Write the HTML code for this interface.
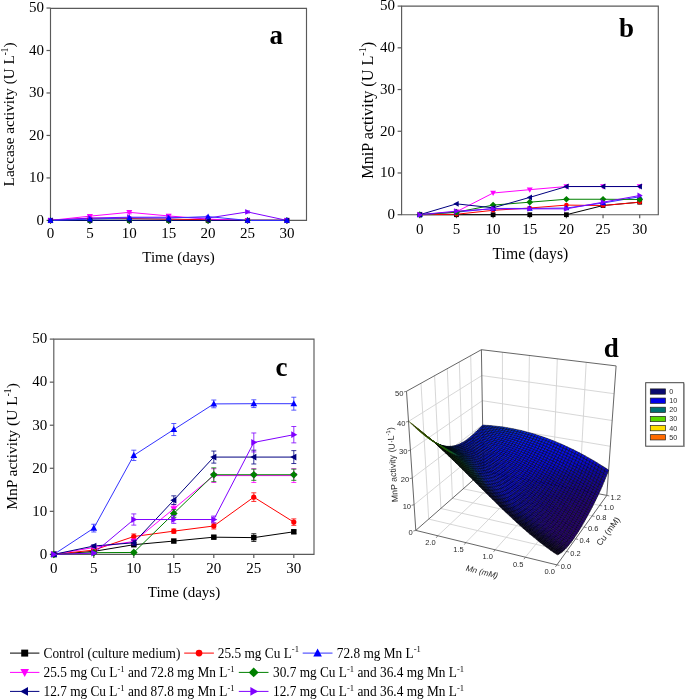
<!DOCTYPE html>
<html><head><meta charset="utf-8"><style>html,body{margin:0;padding:0;background:#fff;width:685px;height:699px;overflow:hidden;position:relative}</style></head>
<body>
<svg width="685" height="699" viewBox="0 0 685 699" style="position:absolute;left:0;top:0;will-change:transform;font-family:&quot;Liberation Serif&quot;,serif"><rect width="685" height="699" fill="#fff"/><path d="M50.5,8.3 H306.5 V220.4 H50.5 Z" fill="none" stroke="#5a5a5a" stroke-width="1.15"/><line x1="46.5" y1="220.40" x2="50.5" y2="220.40" stroke="#5a5a5a" stroke-width="1.2"/><text x="44.0" y="224.70" text-anchor="end" font-size="15">0</text><line x1="46.5" y1="177.93" x2="50.5" y2="177.93" stroke="#5a5a5a" stroke-width="1.2"/><text x="44.0" y="182.23" text-anchor="end" font-size="15">10</text><line x1="46.5" y1="135.45" x2="50.5" y2="135.45" stroke="#5a5a5a" stroke-width="1.2"/><text x="44.0" y="139.75" text-anchor="end" font-size="15">20</text><line x1="46.5" y1="92.98" x2="50.5" y2="92.98" stroke="#5a5a5a" stroke-width="1.2"/><text x="44.0" y="97.28" text-anchor="end" font-size="15">30</text><line x1="46.5" y1="50.50" x2="50.5" y2="50.50" stroke="#5a5a5a" stroke-width="1.2"/><text x="44.0" y="54.80" text-anchor="end" font-size="15">40</text><line x1="46.5" y1="8.03" x2="50.5" y2="8.03" stroke="#5a5a5a" stroke-width="1.2"/><text x="44.0" y="12.33" text-anchor="end" font-size="15">50</text><line x1="50.50" y1="220.4" x2="50.50" y2="223.9" stroke="#5a5a5a" stroke-width="1.2"/><text x="50.50" y="238.30" text-anchor="middle" font-size="15">0</text><line x1="89.90" y1="220.4" x2="89.90" y2="223.9" stroke="#5a5a5a" stroke-width="1.2"/><text x="89.90" y="238.30" text-anchor="middle" font-size="15">5</text><line x1="129.30" y1="220.4" x2="129.30" y2="223.9" stroke="#5a5a5a" stroke-width="1.2"/><text x="129.30" y="238.30" text-anchor="middle" font-size="15">10</text><line x1="168.70" y1="220.4" x2="168.70" y2="223.9" stroke="#5a5a5a" stroke-width="1.2"/><text x="168.70" y="238.30" text-anchor="middle" font-size="15">15</text><line x1="208.10" y1="220.4" x2="208.10" y2="223.9" stroke="#5a5a5a" stroke-width="1.2"/><text x="208.10" y="238.30" text-anchor="middle" font-size="15">20</text><line x1="247.50" y1="220.4" x2="247.50" y2="223.9" stroke="#5a5a5a" stroke-width="1.2"/><text x="247.50" y="238.30" text-anchor="middle" font-size="15">25</text><line x1="286.90" y1="220.4" x2="286.90" y2="223.9" stroke="#5a5a5a" stroke-width="1.2"/><text x="286.90" y="238.30" text-anchor="middle" font-size="15">30</text><polyline points="50.50,220.40 89.90,220.40 129.30,220.40 168.70,220.40 208.10,220.40 247.50,220.40 286.90,220.40" fill="none" stroke="#000000" stroke-width="1"/><polyline points="50.50,220.40 89.90,220.40 129.30,220.40 168.70,220.40 208.10,220.40 247.50,220.40 286.90,220.40" fill="none" stroke="#008000" stroke-width="1"/><polyline points="50.50,220.40 89.90,218.28 129.30,218.49 168.70,219.13 208.10,219.76 247.50,220.40 286.90,220.40" fill="none" stroke="#ff0000" stroke-width="1"/><polyline points="50.50,220.40 89.90,216.15 129.30,212.33 168.70,215.94 208.10,219.13 247.50,220.40 286.90,220.40" fill="none" stroke="#ff00ff" stroke-width="1"/><polyline points="50.50,220.40 89.90,218.06 129.30,217.21 168.70,217.21 208.10,218.06 247.50,211.91 286.90,220.40" fill="none" stroke="#8000ff" stroke-width="1"/><polyline points="50.50,220.40 89.90,220.40 129.30,220.40 168.70,220.40 208.10,220.40 247.50,220.40 286.90,220.40" fill="none" stroke="#000080" stroke-width="1"/><polyline points="50.50,220.40 89.90,219.13 129.30,217.85 168.70,218.06 208.10,216.58 247.50,220.40 286.90,220.40" fill="none" stroke="#3333ff" stroke-width="1"/><rect x="48.12" y="218.02" width="4.76" height="4.76" fill="#000000"/><rect x="87.52" y="218.02" width="4.76" height="4.76" fill="#000000"/><rect x="126.92" y="218.02" width="4.76" height="4.76" fill="#000000"/><rect x="166.32" y="218.02" width="4.76" height="4.76" fill="#000000"/><rect x="205.72" y="218.02" width="4.76" height="4.76" fill="#000000"/><rect x="245.12" y="218.02" width="4.76" height="4.76" fill="#000000"/><rect x="284.52" y="218.02" width="4.76" height="4.76" fill="#000000"/><polygon points="50.50,217.04 53.86,220.40 50.50,223.76 47.14,220.40" fill="#008000"/><polygon points="89.90,217.04 93.26,220.40 89.90,223.76 86.54,220.40" fill="#008000"/><polygon points="129.30,217.04 132.66,220.40 129.30,223.76 125.94,220.40" fill="#008000"/><polygon points="168.70,217.04 172.06,220.40 168.70,223.76 165.34,220.40" fill="#008000"/><polygon points="208.10,217.04 211.46,220.40 208.10,223.76 204.74,220.40" fill="#008000"/><polygon points="247.50,217.04 250.86,220.40 247.50,223.76 244.14,220.40" fill="#008000"/><polygon points="286.90,217.04 290.26,220.40 286.90,223.76 283.54,220.40" fill="#008000"/><circle cx="50.50" cy="220.40" r="2.30" fill="#ff0000"/><circle cx="89.90" cy="218.28" r="2.30" fill="#ff0000"/><circle cx="129.30" cy="218.49" r="2.30" fill="#ff0000"/><circle cx="168.70" cy="219.13" r="2.30" fill="#ff0000"/><circle cx="208.10" cy="219.76" r="2.30" fill="#ff0000"/><circle cx="247.50" cy="220.40" r="2.30" fill="#ff0000"/><circle cx="286.90" cy="220.40" r="2.30" fill="#ff0000"/><path d="M89.90,214.67 V217.64 M87.40,214.67 h5 M87.40,217.64 h5" stroke="#ff00ff" stroke-width="1" fill="none" opacity="0.8"/><path d="M129.30,210.84 V213.82 M126.80,210.84 h5 M126.80,213.82 h5" stroke="#ff00ff" stroke-width="1" fill="none" opacity="0.8"/><path d="M168.70,214.45 V217.43 M166.20,214.45 h5 M166.20,217.43 h5" stroke="#ff00ff" stroke-width="1" fill="none" opacity="0.8"/><polygon points="50.50,223.48 53.44,218.16 47.56,218.16" fill="#ff00ff"/><polygon points="89.90,219.23 92.84,213.91 86.96,213.91" fill="#ff00ff"/><polygon points="129.30,215.41 132.24,210.09 126.36,210.09" fill="#ff00ff"/><polygon points="168.70,219.02 171.64,213.70 165.76,213.70" fill="#ff00ff"/><polygon points="208.10,222.21 211.04,216.89 205.16,216.89" fill="#ff00ff"/><polygon points="247.50,223.48 250.44,218.16 244.56,218.16" fill="#ff00ff"/><polygon points="286.90,223.48 289.84,218.16 283.96,218.16" fill="#ff00ff"/><path d="M247.50,210.84 V212.97 M245.00,210.84 h5 M245.00,212.97 h5" stroke="#8000ff" stroke-width="1" fill="none" opacity="0.8"/><polygon points="53.58,220.40 48.26,217.46 48.26,223.34" fill="#8000ff"/><polygon points="92.98,218.06 87.66,215.12 87.66,221.00" fill="#8000ff"/><polygon points="132.38,217.21 127.06,214.27 127.06,220.15" fill="#8000ff"/><polygon points="171.78,217.21 166.46,214.27 166.46,220.15" fill="#8000ff"/><polygon points="211.18,218.06 205.86,215.12 205.86,221.00" fill="#8000ff"/><polygon points="250.58,211.91 245.26,208.97 245.26,214.84" fill="#8000ff"/><polygon points="289.98,220.40 284.66,217.46 284.66,223.34" fill="#8000ff"/><polygon points="47.42,220.40 52.74,217.46 52.74,223.34" fill="#000080"/><polygon points="86.82,220.40 92.14,217.46 92.14,223.34" fill="#000080"/><polygon points="126.22,220.40 131.54,217.46 131.54,223.34" fill="#000080"/><polygon points="165.62,220.40 170.94,217.46 170.94,223.34" fill="#000080"/><polygon points="205.02,220.40 210.34,217.46 210.34,223.34" fill="#000080"/><polygon points="244.42,220.40 249.74,217.46 249.74,223.34" fill="#000080"/><polygon points="283.82,220.40 289.14,217.46 289.14,223.34" fill="#000080"/><polygon points="50.50,217.32 53.44,222.64 47.56,222.64" fill="#0000ff"/><polygon points="89.90,216.05 92.84,221.37 86.96,221.37" fill="#0000ff"/><polygon points="129.30,214.77 132.24,220.09 126.36,220.09" fill="#0000ff"/><polygon points="168.70,214.98 171.64,220.30 165.76,220.30" fill="#0000ff"/><polygon points="208.10,213.50 211.04,218.82 205.16,218.82" fill="#0000ff"/><polygon points="247.50,217.32 250.44,222.64 244.56,222.64" fill="#0000ff"/><polygon points="286.90,217.32 289.84,222.64 283.96,222.64" fill="#0000ff"/><text x="269.5" y="44" font-size="27" font-weight="bold">a</text><path d="M401.6,6.1 H658.3 V214.7 H401.6 Z" fill="none" stroke="#5a5a5a" stroke-width="1.15"/><line x1="397.6" y1="214.70" x2="401.6" y2="214.70" stroke="#5a5a5a" stroke-width="1.2"/><text x="395.1" y="219.00" text-anchor="end" font-size="15">0</text><line x1="397.6" y1="172.98" x2="401.6" y2="172.98" stroke="#5a5a5a" stroke-width="1.2"/><text x="395.1" y="177.28" text-anchor="end" font-size="15">10</text><line x1="397.6" y1="131.26" x2="401.6" y2="131.26" stroke="#5a5a5a" stroke-width="1.2"/><text x="395.1" y="135.56" text-anchor="end" font-size="15">20</text><line x1="397.6" y1="89.54" x2="401.6" y2="89.54" stroke="#5a5a5a" stroke-width="1.2"/><text x="395.1" y="93.84" text-anchor="end" font-size="15">30</text><line x1="397.6" y1="47.82" x2="401.6" y2="47.82" stroke="#5a5a5a" stroke-width="1.2"/><text x="395.1" y="52.12" text-anchor="end" font-size="15">40</text><line x1="397.6" y1="6.10" x2="401.6" y2="6.10" stroke="#5a5a5a" stroke-width="1.2"/><text x="395.1" y="10.40" text-anchor="end" font-size="15">50</text><line x1="419.80" y1="214.7" x2="419.80" y2="218.2" stroke="#5a5a5a" stroke-width="1.2"/><text x="419.80" y="233.80" text-anchor="middle" font-size="15">0</text><line x1="456.45" y1="214.7" x2="456.45" y2="218.2" stroke="#5a5a5a" stroke-width="1.2"/><text x="456.45" y="233.80" text-anchor="middle" font-size="15">5</text><line x1="493.10" y1="214.7" x2="493.10" y2="218.2" stroke="#5a5a5a" stroke-width="1.2"/><text x="493.10" y="233.80" text-anchor="middle" font-size="15">10</text><line x1="529.75" y1="214.7" x2="529.75" y2="218.2" stroke="#5a5a5a" stroke-width="1.2"/><text x="529.75" y="233.80" text-anchor="middle" font-size="15">15</text><line x1="566.40" y1="214.7" x2="566.40" y2="218.2" stroke="#5a5a5a" stroke-width="1.2"/><text x="566.40" y="233.80" text-anchor="middle" font-size="15">20</text><line x1="603.05" y1="214.7" x2="603.05" y2="218.2" stroke="#5a5a5a" stroke-width="1.2"/><text x="603.05" y="233.80" text-anchor="middle" font-size="15">25</text><line x1="639.70" y1="214.7" x2="639.70" y2="218.2" stroke="#5a5a5a" stroke-width="1.2"/><text x="639.70" y="233.80" text-anchor="middle" font-size="15">30</text><polyline points="419.80,214.70 456.45,214.70 493.10,214.70 529.75,214.70 566.40,214.70 603.05,205.52 639.70,202.18" fill="none" stroke="#000000" stroke-width="1"/><polyline points="419.80,214.70 456.45,214.28 493.10,210.32 529.75,208.02 566.40,205.10 603.05,205.52 639.70,202.18" fill="none" stroke="#ff0000" stroke-width="1"/><polyline points="419.80,214.70 456.45,212.20 493.10,208.44 529.75,208.44 566.40,208.02 603.05,203.02 639.70,196.76" fill="none" stroke="#3333ff" stroke-width="1"/><polyline points="419.80,214.70 456.45,211.78 493.10,193.01 529.75,189.67 566.40,186.54 603.05,186.54 639.70,186.54" fill="none" stroke="#ff00ff" stroke-width="1"/><polyline points="419.80,214.70 456.45,212.20 493.10,205.10 529.75,202.18 566.40,199.26 603.05,199.26 639.70,199.47" fill="none" stroke="#008000" stroke-width="1"/><polyline points="419.80,214.70 456.45,203.85 493.10,207.82 529.75,197.39 566.40,186.54 603.05,186.54 639.70,186.54" fill="none" stroke="#000080" stroke-width="1"/><polyline points="419.80,214.70 456.45,211.15 493.10,208.86 529.75,208.86 566.40,208.86 603.05,202.18 639.70,195.51" fill="none" stroke="#8000ff" stroke-width="1"/><rect x="417.42" y="212.32" width="4.76" height="4.76" fill="#000000"/><rect x="454.07" y="212.32" width="4.76" height="4.76" fill="#000000"/><rect x="490.72" y="212.32" width="4.76" height="4.76" fill="#000000"/><rect x="527.37" y="212.32" width="4.76" height="4.76" fill="#000000"/><rect x="564.02" y="212.32" width="4.76" height="4.76" fill="#000000"/><rect x="600.67" y="203.14" width="4.76" height="4.76" fill="#000000"/><rect x="637.32" y="199.80" width="4.76" height="4.76" fill="#000000"/><circle cx="419.80" cy="214.70" r="2.30" fill="#ff0000"/><circle cx="456.45" cy="214.28" r="2.30" fill="#ff0000"/><circle cx="493.10" cy="210.32" r="2.30" fill="#ff0000"/><circle cx="529.75" cy="208.02" r="2.30" fill="#ff0000"/><circle cx="566.40" cy="205.10" r="2.30" fill="#ff0000"/><circle cx="603.05" cy="205.52" r="2.30" fill="#ff0000"/><circle cx="639.70" cy="202.18" r="2.30" fill="#ff0000"/><polygon points="419.80,211.62 422.74,216.94 416.86,216.94" fill="#0000ff"/><polygon points="456.45,209.12 459.39,214.44 453.51,214.44" fill="#0000ff"/><polygon points="493.10,205.36 496.04,210.68 490.16,210.68" fill="#0000ff"/><polygon points="529.75,205.36 532.69,210.68 526.81,210.68" fill="#0000ff"/><polygon points="566.40,204.94 569.34,210.26 563.46,210.26" fill="#0000ff"/><polygon points="603.05,199.94 605.99,205.26 600.11,205.26" fill="#0000ff"/><polygon points="639.70,193.68 642.64,199.00 636.76,199.00" fill="#0000ff"/><polygon points="419.80,217.78 422.74,212.46 416.86,212.46" fill="#ff00ff"/><polygon points="456.45,214.86 459.39,209.54 453.51,209.54" fill="#ff00ff"/><polygon points="493.10,196.09 496.04,190.77 490.16,190.77" fill="#ff00ff"/><polygon points="529.75,192.75 532.69,187.43 526.81,187.43" fill="#ff00ff"/><polygon points="566.40,189.62 569.34,184.30 563.46,184.30" fill="#ff00ff"/><polygon points="603.05,189.62 605.99,184.30 600.11,184.30" fill="#ff00ff"/><polygon points="639.70,189.62 642.64,184.30 636.76,184.30" fill="#ff00ff"/><polygon points="419.80,211.34 423.16,214.70 419.80,218.06 416.44,214.70" fill="#008000"/><polygon points="456.45,208.84 459.81,212.20 456.45,215.56 453.09,212.20" fill="#008000"/><polygon points="493.10,201.74 496.46,205.10 493.10,208.46 489.74,205.10" fill="#008000"/><polygon points="529.75,198.82 533.11,202.18 529.75,205.54 526.39,202.18" fill="#008000"/><polygon points="566.40,195.90 569.76,199.26 566.40,202.62 563.04,199.26" fill="#008000"/><polygon points="603.05,195.90 606.41,199.26 603.05,202.62 599.69,199.26" fill="#008000"/><polygon points="639.70,196.11 643.06,199.47 639.70,202.83 636.34,199.47" fill="#008000"/><polygon points="416.72,214.70 422.04,211.76 422.04,217.64" fill="#000080"/><polygon points="453.37,203.85 458.69,200.91 458.69,206.79" fill="#000080"/><polygon points="490.02,207.82 495.34,204.88 495.34,210.76" fill="#000080"/><polygon points="526.67,197.39 531.99,194.45 531.99,200.33" fill="#000080"/><polygon points="563.32,186.54 568.64,183.60 568.64,189.48" fill="#000080"/><polygon points="599.97,186.54 605.29,183.60 605.29,189.48" fill="#000080"/><polygon points="636.62,186.54 641.94,183.60 641.94,189.48" fill="#000080"/><polygon points="422.88,214.70 417.56,211.76 417.56,217.64" fill="#8000ff"/><polygon points="459.53,211.15 454.21,208.21 454.21,214.09" fill="#8000ff"/><polygon points="496.18,208.86 490.86,205.92 490.86,211.80" fill="#8000ff"/><polygon points="532.83,208.86 527.51,205.92 527.51,211.80" fill="#8000ff"/><polygon points="569.48,208.86 564.16,205.92 564.16,211.80" fill="#8000ff"/><polygon points="606.13,202.18 600.81,199.24 600.81,205.12" fill="#8000ff"/><polygon points="642.78,195.51 637.46,192.57 637.46,198.45" fill="#8000ff"/><text x="619" y="37.4" font-size="27" font-weight="bold">b</text><path d="M53.8,339.1 H314.0 V554.4 H53.8 Z" fill="none" stroke="#5a5a5a" stroke-width="1.15"/><line x1="49.8" y1="554.40" x2="53.8" y2="554.40" stroke="#5a5a5a" stroke-width="1.2"/><text x="47.3" y="558.70" text-anchor="end" font-size="15">0</text><line x1="49.8" y1="511.34" x2="53.8" y2="511.34" stroke="#5a5a5a" stroke-width="1.2"/><text x="47.3" y="515.64" text-anchor="end" font-size="15">10</text><line x1="49.8" y1="468.28" x2="53.8" y2="468.28" stroke="#5a5a5a" stroke-width="1.2"/><text x="47.3" y="472.58" text-anchor="end" font-size="15">20</text><line x1="49.8" y1="425.22" x2="53.8" y2="425.22" stroke="#5a5a5a" stroke-width="1.2"/><text x="47.3" y="429.52" text-anchor="end" font-size="15">30</text><line x1="49.8" y1="382.16" x2="53.8" y2="382.16" stroke="#5a5a5a" stroke-width="1.2"/><text x="47.3" y="386.46" text-anchor="end" font-size="15">40</text><line x1="49.8" y1="339.10" x2="53.8" y2="339.10" stroke="#5a5a5a" stroke-width="1.2"/><text x="47.3" y="343.40" text-anchor="end" font-size="15">50</text><line x1="53.80" y1="554.4" x2="53.80" y2="557.9" stroke="#5a5a5a" stroke-width="1.2"/><text x="53.80" y="573.40" text-anchor="middle" font-size="15">0</text><line x1="93.80" y1="554.4" x2="93.80" y2="557.9" stroke="#5a5a5a" stroke-width="1.2"/><text x="93.80" y="573.40" text-anchor="middle" font-size="15">5</text><line x1="133.80" y1="554.4" x2="133.80" y2="557.9" stroke="#5a5a5a" stroke-width="1.2"/><text x="133.80" y="573.40" text-anchor="middle" font-size="15">10</text><line x1="173.80" y1="554.4" x2="173.80" y2="557.9" stroke="#5a5a5a" stroke-width="1.2"/><text x="173.80" y="573.40" text-anchor="middle" font-size="15">15</text><line x1="213.80" y1="554.4" x2="213.80" y2="557.9" stroke="#5a5a5a" stroke-width="1.2"/><text x="213.80" y="573.40" text-anchor="middle" font-size="15">20</text><line x1="253.80" y1="554.4" x2="253.80" y2="557.9" stroke="#5a5a5a" stroke-width="1.2"/><text x="253.80" y="573.40" text-anchor="middle" font-size="15">25</text><line x1="293.80" y1="554.4" x2="293.80" y2="557.9" stroke="#5a5a5a" stroke-width="1.2"/><text x="293.80" y="573.40" text-anchor="middle" font-size="15">30</text><polyline points="53.80,554.40 93.80,551.39 133.80,544.71 173.80,541.05 213.80,537.18 253.80,537.61 293.80,531.79" fill="none" stroke="#000000" stroke-width="1"/><polyline points="53.80,554.40 93.80,550.09 133.80,536.53 173.80,531.15 213.80,525.98 253.80,497.13 293.80,522.11" fill="none" stroke="#ff0000" stroke-width="1"/><polyline points="53.80,554.40 93.80,528.13 133.80,455.36 173.80,429.53 213.80,403.91 253.80,403.69 293.80,403.69" fill="none" stroke="#3333ff" stroke-width="1"/><polyline points="53.80,554.40 93.80,547.51 133.80,541.48 173.80,508.76 213.80,475.60 253.80,475.60 293.80,475.60" fill="none" stroke="#ff00ff" stroke-width="1"/><polyline points="53.80,554.40 93.80,552.68 133.80,552.46 173.80,513.49 213.80,474.74 253.80,474.74 293.80,474.74" fill="none" stroke="#008000" stroke-width="1"/><polyline points="53.80,554.40 93.80,546.00 133.80,542.77 173.80,500.14 213.80,457.08 253.80,457.08 293.80,457.08" fill="none" stroke="#000080" stroke-width="1"/><polyline points="53.80,554.40 93.80,553.11 133.80,519.52 173.80,519.52 213.80,519.52 253.80,442.44 293.80,434.69" fill="none" stroke="#8000ff" stroke-width="1"/><path d="M213.80,535.88 V538.47 M211.30,535.88 h5 M211.30,538.47 h5" stroke="#000000" stroke-width="1" fill="none" opacity="0.8"/><path d="M253.80,533.73 V541.48 M251.30,533.73 h5 M251.30,541.48 h5" stroke="#000000" stroke-width="1" fill="none" opacity="0.8"/><path d="M293.80,530.07 V533.52 M291.30,530.07 h5 M291.30,533.52 h5" stroke="#000000" stroke-width="1" fill="none" opacity="0.8"/><rect x="51.08" y="551.68" width="5.44" height="5.44" fill="#000000"/><rect x="91.08" y="548.67" width="5.44" height="5.44" fill="#000000"/><rect x="131.08" y="541.99" width="5.44" height="5.44" fill="#000000"/><rect x="171.08" y="538.33" width="5.44" height="5.44" fill="#000000"/><rect x="211.08" y="534.46" width="5.44" height="5.44" fill="#000000"/><rect x="251.08" y="534.89" width="5.44" height="5.44" fill="#000000"/><rect x="291.08" y="529.07" width="5.44" height="5.44" fill="#000000"/><path d="M93.80,548.80 V551.39 M91.30,548.80 h5 M91.30,551.39 h5" stroke="#ff0000" stroke-width="1" fill="none" opacity="0.8"/><path d="M133.80,533.95 V539.11 M131.30,533.95 h5 M131.30,539.11 h5" stroke="#ff0000" stroke-width="1" fill="none" opacity="0.8"/><path d="M173.80,528.99 V533.30 M171.30,528.99 h5 M171.30,533.30 h5" stroke="#ff0000" stroke-width="1" fill="none" opacity="0.8"/><path d="M213.80,522.97 V528.99 M211.30,522.97 h5 M211.30,528.99 h5" stroke="#ff0000" stroke-width="1" fill="none" opacity="0.8"/><path d="M253.80,492.82 V501.44 M251.30,492.82 h5 M251.30,501.44 h5" stroke="#ff0000" stroke-width="1" fill="none" opacity="0.8"/><path d="M293.80,518.88 V525.33 M291.30,518.88 h5 M291.30,525.33 h5" stroke="#ff0000" stroke-width="1" fill="none" opacity="0.8"/><circle cx="53.80" cy="554.40" r="2.62" fill="#ff0000"/><circle cx="93.80" cy="550.09" r="2.62" fill="#ff0000"/><circle cx="133.80" cy="536.53" r="2.62" fill="#ff0000"/><circle cx="173.80" cy="531.15" r="2.62" fill="#ff0000"/><circle cx="213.80" cy="525.98" r="2.62" fill="#ff0000"/><circle cx="253.80" cy="497.13" r="2.62" fill="#ff0000"/><circle cx="293.80" cy="522.11" r="2.62" fill="#ff0000"/><path d="M93.80,524.26 V532.01 M91.30,524.26 h5 M91.30,532.01 h5" stroke="#3333ff" stroke-width="1" fill="none" opacity="0.8"/><path d="M133.80,450.19 V460.53 M131.30,450.19 h5 M131.30,460.53 h5" stroke="#3333ff" stroke-width="1" fill="none" opacity="0.8"/><path d="M173.80,423.50 V435.55 M171.30,423.50 h5 M171.30,435.55 h5" stroke="#3333ff" stroke-width="1" fill="none" opacity="0.8"/><path d="M213.80,400.03 V407.78 M211.30,400.03 h5 M211.30,407.78 h5" stroke="#3333ff" stroke-width="1" fill="none" opacity="0.8"/><path d="M253.80,399.81 V407.57 M251.30,399.81 h5 M251.30,407.57 h5" stroke="#3333ff" stroke-width="1" fill="none" opacity="0.8"/><path d="M293.80,397.23 V410.15 M291.30,397.23 h5 M291.30,410.15 h5" stroke="#3333ff" stroke-width="1" fill="none" opacity="0.8"/><polygon points="53.80,550.88 57.16,556.96 50.44,556.96" fill="#0000ff"/><polygon points="93.80,524.61 97.16,530.69 90.44,530.69" fill="#0000ff"/><polygon points="133.80,451.84 137.16,457.92 130.44,457.92" fill="#0000ff"/><polygon points="173.80,426.01 177.16,432.09 170.44,432.09" fill="#0000ff"/><polygon points="213.80,400.39 217.16,406.47 210.44,406.47" fill="#0000ff"/><polygon points="253.80,400.17 257.16,406.25 250.44,406.25" fill="#0000ff"/><polygon points="293.80,400.17 297.16,406.25 290.44,406.25" fill="#0000ff"/><path d="M93.80,546.22 V548.80 M91.30,546.22 h5 M91.30,548.80 h5" stroke="#ff00ff" stroke-width="1" fill="none" opacity="0.8"/><path d="M133.80,538.90 V544.07 M131.30,538.90 h5 M131.30,544.07 h5" stroke="#ff00ff" stroke-width="1" fill="none" opacity="0.8"/><path d="M173.80,504.88 V512.63 M171.30,504.88 h5 M171.30,512.63 h5" stroke="#ff00ff" stroke-width="1" fill="none" opacity="0.8"/><path d="M213.80,468.71 V482.49 M211.30,468.71 h5 M211.30,482.49 h5" stroke="#ff00ff" stroke-width="1" fill="none" opacity="0.8"/><path d="M253.80,468.71 V482.49 M251.30,468.71 h5 M251.30,482.49 h5" stroke="#ff00ff" stroke-width="1" fill="none" opacity="0.8"/><path d="M293.80,468.71 V482.49 M291.30,468.71 h5 M291.30,482.49 h5" stroke="#ff00ff" stroke-width="1" fill="none" opacity="0.8"/><polygon points="53.80,557.92 57.16,551.84 50.44,551.84" fill="#ff00ff"/><polygon points="93.80,551.03 97.16,544.95 90.44,544.95" fill="#ff00ff"/><polygon points="133.80,545.00 137.16,538.92 130.44,538.92" fill="#ff00ff"/><polygon points="173.80,512.28 177.16,506.20 170.44,506.20" fill="#ff00ff"/><polygon points="213.80,479.12 217.16,473.04 210.44,473.04" fill="#ff00ff"/><polygon points="253.80,479.12 257.16,473.04 250.44,473.04" fill="#ff00ff"/><polygon points="293.80,479.12 297.16,473.04 290.44,473.04" fill="#ff00ff"/><path d="M93.80,551.82 V553.54 M91.30,551.82 h5 M91.30,553.54 h5" stroke="#008000" stroke-width="1" fill="none" opacity="0.8"/><path d="M133.80,551.60 V553.32 M131.30,551.60 h5 M131.30,553.32 h5" stroke="#008000" stroke-width="1" fill="none" opacity="0.8"/><path d="M173.80,509.62 V517.37 M171.30,509.62 h5 M171.30,517.37 h5" stroke="#008000" stroke-width="1" fill="none" opacity="0.8"/><path d="M213.80,467.85 V481.63 M211.30,467.85 h5 M211.30,481.63 h5" stroke="#008000" stroke-width="1" fill="none" opacity="0.8"/><path d="M253.80,469.14 V480.34 M251.30,469.14 h5 M251.30,480.34 h5" stroke="#008000" stroke-width="1" fill="none" opacity="0.8"/><path d="M293.80,469.14 V480.34 M291.30,469.14 h5 M291.30,480.34 h5" stroke="#008000" stroke-width="1" fill="none" opacity="0.8"/><polygon points="53.80,550.56 57.64,554.40 53.80,558.24 49.96,554.40" fill="#008000"/><polygon points="93.80,548.84 97.64,552.68 93.80,556.52 89.96,552.68" fill="#008000"/><polygon points="133.80,548.62 137.64,552.46 133.80,556.30 129.96,552.46" fill="#008000"/><polygon points="173.80,509.65 177.64,513.49 173.80,517.33 169.96,513.49" fill="#008000"/><polygon points="213.80,470.90 217.64,474.74 213.80,478.58 209.96,474.74" fill="#008000"/><polygon points="253.80,470.90 257.64,474.74 253.80,478.58 249.96,474.74" fill="#008000"/><polygon points="293.80,470.90 297.64,474.74 293.80,478.58 289.96,474.74" fill="#008000"/><path d="M93.80,544.71 V547.30 M91.30,544.71 h5 M91.30,547.30 h5" stroke="#000080" stroke-width="1" fill="none" opacity="0.8"/><path d="M133.80,540.19 V545.36 M131.30,540.19 h5 M131.30,545.36 h5" stroke="#000080" stroke-width="1" fill="none" opacity="0.8"/><path d="M173.80,495.84 V504.45 M171.30,495.84 h5 M171.30,504.45 h5" stroke="#000080" stroke-width="1" fill="none" opacity="0.8"/><path d="M213.80,451.06 V463.11 M211.30,451.06 h5 M211.30,463.11 h5" stroke="#000080" stroke-width="1" fill="none" opacity="0.8"/><path d="M253.80,450.19 V463.97 M251.30,450.19 h5 M251.30,463.97 h5" stroke="#000080" stroke-width="1" fill="none" opacity="0.8"/><path d="M293.80,450.63 V463.54 M291.30,450.63 h5 M291.30,463.54 h5" stroke="#000080" stroke-width="1" fill="none" opacity="0.8"/><polygon points="50.28,554.40 56.36,551.04 56.36,557.76" fill="#000080"/><polygon points="90.28,546.00 96.36,542.64 96.36,549.36" fill="#000080"/><polygon points="130.28,542.77 136.36,539.41 136.36,546.13" fill="#000080"/><polygon points="170.28,500.14 176.36,496.78 176.36,503.50" fill="#000080"/><polygon points="210.28,457.08 216.36,453.72 216.36,460.44" fill="#000080"/><polygon points="250.28,457.08 256.36,453.72 256.36,460.44" fill="#000080"/><polygon points="290.28,457.08 296.36,453.72 296.36,460.44" fill="#000080"/><path d="M93.80,552.25 V553.97 M91.30,552.25 h5 M91.30,553.97 h5" stroke="#8000ff" stroke-width="1" fill="none" opacity="0.8"/><path d="M133.80,513.92 V525.12 M131.30,513.92 h5 M131.30,525.12 h5" stroke="#8000ff" stroke-width="1" fill="none" opacity="0.8"/><path d="M173.80,515.65 V523.40 M171.30,515.65 h5 M171.30,523.40 h5" stroke="#8000ff" stroke-width="1" fill="none" opacity="0.8"/><path d="M213.80,516.08 V522.97 M211.30,516.08 h5 M211.30,522.97 h5" stroke="#8000ff" stroke-width="1" fill="none" opacity="0.8"/><path d="M253.80,432.97 V451.92 M251.30,432.97 h5 M251.30,451.92 h5" stroke="#8000ff" stroke-width="1" fill="none" opacity="0.8"/><path d="M293.80,426.51 V442.87 M291.30,426.51 h5 M291.30,442.87 h5" stroke="#8000ff" stroke-width="1" fill="none" opacity="0.8"/><polygon points="57.32,554.40 51.24,551.04 51.24,557.76" fill="#8000ff"/><polygon points="97.32,553.11 91.24,549.75 91.24,556.47" fill="#8000ff"/><polygon points="137.32,519.52 131.24,516.16 131.24,522.88" fill="#8000ff"/><polygon points="177.32,519.52 171.24,516.16 171.24,522.88" fill="#8000ff"/><polygon points="217.32,519.52 211.24,516.16 211.24,522.88" fill="#8000ff"/><polygon points="257.32,442.44 251.24,439.08 251.24,445.80" fill="#8000ff"/><polygon points="297.32,434.69 291.24,431.33 291.24,438.05" fill="#8000ff"/><text x="275.5" y="376" font-size="27" font-weight="bold">c</text><text transform="translate(13.8,114.4) rotate(-90)" text-anchor="middle" font-size="15.2">Laccase activity (U L<tspan font-size="9.4" dy="-6.1">-1</tspan><tspan dy="6.1">)</tspan></text><text transform="translate(372.7,110.3) rotate(-90)" text-anchor="middle" font-size="16.2">MniP activity (U L<tspan font-size="10.0" dy="-6.5">-1</tspan><tspan dy="6.5">)</tspan></text><text transform="translate(17.3,446.5) rotate(-90)" text-anchor="middle" font-size="15.5">MnP activity (U L<tspan font-size="9.6" dy="-6.2">-1</tspan><tspan dy="6.2">)</tspan></text><text x="178.5" y="262" text-anchor="middle" font-size="15">Time (days)</text><text x="530.4" y="258.8" text-anchor="middle" font-size="15.7">Time (days)</text><text x="184" y="597" text-anchor="middle" font-size="15">Time (days)</text><g><line x1="428.7" y1="519.1" x2="421.0" y2="383.3" stroke="#d2d2d2" stroke-width="0.9"/><line x1="440.9" y1="508.5" x2="434.6" y2="375.7" stroke="#d2d2d2" stroke-width="0.9"/><line x1="452.4" y1="498.4" x2="447.3" y2="368.7" stroke="#d2d2d2" stroke-width="0.9"/><line x1="463.3" y1="488.8" x2="459.3" y2="362.0" stroke="#d2d2d2" stroke-width="0.9"/><line x1="473.6" y1="479.7" x2="470.7" y2="355.7" stroke="#d2d2d2" stroke-width="0.9"/><line x1="414.1" y1="504.7" x2="483.0" y2="448.4" stroke="#d2d2d2" stroke-width="0.9"/><line x1="412.3" y1="478.0" x2="482.7" y2="424.9" stroke="#d2d2d2" stroke-width="0.9"/><line x1="410.5" y1="450.2" x2="482.3" y2="400.7" stroke="#d2d2d2" stroke-width="0.9"/><line x1="408.5" y1="421.4" x2="481.8" y2="375.6" stroke="#d2d2d2" stroke-width="0.9"/><line x1="579.6" y1="490.0" x2="586.2" y2="362.3" stroke="#d2d2d2" stroke-width="0.9"/><line x1="553.2" y1="484.8" x2="557.3" y2="358.8" stroke="#d2d2d2" stroke-width="0.9"/><line x1="527.6" y1="479.8" x2="529.4" y2="355.5" stroke="#d2d2d2" stroke-width="0.9"/><line x1="502.7" y1="474.9" x2="502.4" y2="352.2" stroke="#d2d2d2" stroke-width="0.9"/><line x1="608.6" y1="471.3" x2="483.0" y2="448.4" stroke="#d2d2d2" stroke-width="0.9"/><line x1="610.3" y1="446.3" x2="482.7" y2="424.9" stroke="#d2d2d2" stroke-width="0.9"/><line x1="612.2" y1="420.5" x2="482.3" y2="400.7" stroke="#d2d2d2" stroke-width="0.9"/><line x1="614.1" y1="393.7" x2="481.8" y2="375.6" stroke="#d2d2d2" stroke-width="0.9"/><line x1="525.4" y1="557.2" x2="579.6" y2="490.0" stroke="#d2d2d2" stroke-width="0.9"/><line x1="495.1" y1="549.8" x2="553.2" y2="484.8" stroke="#d2d2d2" stroke-width="0.9"/><line x1="465.8" y1="542.6" x2="527.6" y2="479.8" stroke="#d2d2d2" stroke-width="0.9"/><line x1="437.7" y1="535.8" x2="502.7" y2="474.9" stroke="#d2d2d2" stroke-width="0.9"/><line x1="566.5" y1="551.5" x2="428.7" y2="519.1" stroke="#d2d2d2" stroke-width="0.9"/><line x1="575.6" y1="538.9" x2="440.9" y2="508.5" stroke="#d2d2d2" stroke-width="0.9"/><line x1="584.1" y1="527.1" x2="452.4" y2="498.4" stroke="#d2d2d2" stroke-width="0.9"/><line x1="592.1" y1="515.9" x2="463.3" y2="488.8" stroke="#d2d2d2" stroke-width="0.9"/><line x1="599.7" y1="505.4" x2="473.6" y2="479.7" stroke="#d2d2d2" stroke-width="0.9"/><line x1="415.8" y1="530.4" x2="406.5" y2="391.3" stroke="#555" stroke-width="0.9"/><line x1="483.4" y1="471.1" x2="481.4" y2="349.7" stroke="#555" stroke-width="0.9"/><line x1="606.8" y1="495.4" x2="616.1" y2="365.9" stroke="#555" stroke-width="0.9"/><line x1="406.5" y1="391.3" x2="481.4" y2="349.7" stroke="#555" stroke-width="0.9"/><line x1="481.4" y1="349.7" x2="616.1" y2="365.9" stroke="#555" stroke-width="0.9"/><line x1="415.8" y1="530.4" x2="483.4" y2="471.1" stroke="#555" stroke-width="0.9"/><line x1="483.4" y1="471.1" x2="606.8" y2="495.4" stroke="#555" stroke-width="0.9"/><line x1="415.8" y1="530.4" x2="556.9" y2="564.9" stroke="#555" stroke-width="0.9"/><line x1="556.9" y1="564.9" x2="606.8" y2="495.4" stroke="#555" stroke-width="0.9"/><g stroke-width="0.5" stroke="#000008" stroke-linejoin="round"><polygon points="484.0,426.6 481.3,426.5 482.7,425.1 485.3,425.3" fill="#0226e1"/><polygon points="486.7,426.8 484.0,426.6 485.3,425.3 488.0,425.4" fill="#0229dd"/><polygon points="482.7,428.0 480.0,427.8 481.3,426.5 484.0,426.6" fill="#0224e7"/><polygon points="489.4,427.1 486.7,426.8 488.0,425.4 490.7,425.6" fill="#022bd8"/><polygon points="485.4,428.3 482.7,428.0 484.0,426.6 486.7,426.8" fill="#0226e3"/><polygon points="492.1,427.4 489.4,427.1 490.7,425.6 493.5,425.9" fill="#022dd5"/><polygon points="481.3,429.4 478.6,429.2 480.0,427.8 482.7,428.0" fill="#0221ed"/><polygon points="488.1,428.6 485.4,428.3 486.7,426.8 489.4,427.1" fill="#0227df"/><polygon points="494.9,427.7 492.1,427.4 493.5,425.9 496.2,426.2" fill="#022ed2"/><polygon points="484.0,429.7 481.3,429.4 482.7,428.0 485.4,428.3" fill="#0222e9"/><polygon points="490.8,428.9 488.1,428.6 489.4,427.1 492.1,427.4" fill="#0229dd"/><polygon points="497.6,428.1 494.9,427.7 496.2,426.2 498.9,426.5" fill="#022fd0"/><polygon points="479.9,430.8 477.2,430.5 478.6,429.2 481.3,429.4" fill="#031ef2"/><polygon points="486.7,430.0 484.0,429.7 485.4,428.3 488.1,428.6" fill="#0224e6"/><polygon points="493.6,429.3 490.8,428.9 492.1,427.4 494.9,427.7" fill="#022ada"/><polygon points="500.4,428.5 497.6,428.1 498.9,426.5 501.7,426.8" fill="#0230cf"/><polygon points="482.6,431.1 479.9,430.8 481.3,429.4 484.0,429.7" fill="#021fef"/><polygon points="489.5,430.4 486.7,430.0 488.1,428.6 490.8,428.9" fill="#0225e4"/><polygon points="496.3,429.7 493.6,429.3 494.9,427.7 497.6,428.1" fill="#022bd9"/><polygon points="503.1,428.9 500.4,428.5 501.7,426.8 504.4,427.2" fill="#0230ce"/><polygon points="478.5,432.2 475.8,431.9 477.2,430.5 479.9,430.8" fill="#031df2"/><polygon points="485.4,431.5 482.6,431.1 484.0,429.7 486.7,430.0" fill="#0221ed"/><polygon points="492.2,430.8 489.5,430.4 490.8,428.9 493.6,429.3" fill="#0226e3"/><polygon points="499.1,430.1 496.3,429.7 497.6,428.1 500.4,428.5" fill="#022bd8"/><polygon points="505.9,429.4 503.1,428.9 504.4,427.2 507.2,427.7" fill="#0231ce"/><polygon points="481.3,432.5 478.5,432.2 479.9,430.8 482.6,431.1" fill="#031df2"/><polygon points="488.1,431.9 485.4,431.5 486.7,430.0 489.5,430.4" fill="#0221eb"/><polygon points="495.0,431.3 492.2,430.8 493.6,429.3 496.3,429.7" fill="#0226e2"/><polygon points="501.8,430.6 499.1,430.1 500.4,428.5 503.1,428.9" fill="#022bd8"/><polygon points="508.7,430.0 505.9,429.4 507.2,427.7 510.0,428.2" fill="#0230ce"/><polygon points="477.2,433.6 474.4,433.2 475.8,431.9 478.5,432.2" fill="#031df2"/><polygon points="484.0,433.0 481.3,432.5 482.6,431.1 485.4,431.5" fill="#031ef2"/><polygon points="490.9,432.4 488.1,431.9 489.5,430.4 492.2,430.8" fill="#0222ea"/><polygon points="497.8,431.8 495.0,431.3 496.3,429.7 499.1,430.1" fill="#0226e2"/><polygon points="504.6,431.2 501.8,430.6 503.1,428.9 505.9,429.4" fill="#022bd9"/><polygon points="511.5,430.5 508.7,430.0 510.0,428.2 512.8,428.7" fill="#0230cf"/><polygon points="479.9,434.0 477.2,433.6 478.5,432.2 481.3,432.5" fill="#031df2"/><polygon points="486.8,433.4 484.0,433.0 485.4,431.5 488.1,431.9" fill="#031ef2"/><polygon points="493.6,432.9 490.9,432.4 492.2,430.8 495.0,431.3" fill="#0222ea"/><polygon points="500.5,432.3 497.8,431.8 499.1,430.1 501.8,430.6" fill="#0226e2"/><polygon points="507.4,431.7 504.6,431.2 505.9,429.4 508.7,430.0" fill="#022ada"/><polygon points="514.3,431.2 511.5,430.5 512.8,428.7 515.6,429.3" fill="#022fd1"/><polygon points="475.8,434.9 473.0,434.5 474.4,433.2 477.2,433.6" fill="#031cf2"/><polygon points="482.6,434.4 479.9,434.0 481.3,432.5 484.0,433.0" fill="#031df2"/><polygon points="489.5,433.9 486.8,433.4 488.1,431.9 490.9,432.4" fill="#031ef2"/><polygon points="496.4,433.4 493.6,432.9 495.0,431.3 497.8,431.8" fill="#0222eb"/><polygon points="517.1,431.8 514.3,431.2 515.6,429.3 518.4,429.9" fill="#022ed3"/><polygon points="503.3,432.9 500.5,432.3 501.8,430.6 504.6,431.2" fill="#0226e3"/><polygon points="510.2,432.4 507.4,431.7 508.7,430.0 511.5,430.5" fill="#022adc"/><polygon points="478.5,435.3 475.8,434.9 477.2,433.6 479.9,434.0" fill="#031cf2"/><polygon points="485.4,434.9 482.6,434.4 484.0,433.0 486.8,433.4" fill="#031df2"/><polygon points="492.3,434.4 489.5,433.9 490.9,432.4 493.6,432.9" fill="#031ef2"/><polygon points="519.9,432.5 517.1,431.8 518.4,429.9 521.2,430.5" fill="#022cd7"/><polygon points="499.2,434.0 496.4,433.4 497.8,431.8 500.5,432.3" fill="#0221ec"/><polygon points="513.0,433.0 510.2,432.4 511.5,430.5 514.3,431.2" fill="#0228de"/><polygon points="506.1,433.5 503.3,432.9 504.6,431.2 507.4,431.7" fill="#0225e5"/><polygon points="474.3,436.2 471.6,435.8 473.0,434.5 475.8,434.9" fill="#031cf2"/><polygon points="481.3,435.8 478.5,435.3 479.9,434.0 482.6,434.4" fill="#031cf2"/><polygon points="522.8,433.3 519.9,432.5 521.2,430.5 524.0,431.2" fill="#022ada"/><polygon points="488.2,435.4 485.4,434.9 486.8,433.4 489.5,433.9" fill="#031df2"/><polygon points="515.8,433.7 513.0,433.0 514.3,431.2 517.1,431.8" fill="#0227e1"/><polygon points="495.1,435.0 492.3,434.4 493.6,432.9 496.4,433.4" fill="#031ef2"/><polygon points="508.9,434.2 506.1,433.5 507.4,431.7 510.2,432.4" fill="#0223e8"/><polygon points="502.0,434.6 499.2,434.0 500.5,432.3 503.3,432.9" fill="#0220ee"/><polygon points="477.1,436.7 474.3,436.2 475.8,434.9 478.5,435.3" fill="#031cf2"/><polygon points="525.6,434.1 522.8,433.3 524.0,431.2 526.8,432.0" fill="#0228df"/><polygon points="484.0,436.3 481.3,435.8 482.6,434.4 485.4,434.9" fill="#031cf2"/><polygon points="518.7,434.5 515.8,433.7 517.1,431.8 519.9,432.5" fill="#0225e5"/><polygon points="491.0,436.0 488.2,435.4 489.5,433.9 492.3,434.4" fill="#031df2"/><polygon points="511.7,434.9 508.9,434.2 510.2,432.4 513.0,433.0" fill="#0222eb"/><polygon points="497.9,435.6 495.1,435.0 496.4,433.4 499.2,434.0" fill="#031ef2"/><polygon points="504.8,435.3 502.0,434.6 503.3,432.9 506.1,433.5" fill="#021ff0"/><polygon points="472.9,437.5 470.2,437.0 471.6,435.8 474.3,436.2" fill="#031bf1"/><polygon points="528.4,434.9 525.6,434.1 526.8,432.0 529.7,432.8" fill="#0226e4"/><polygon points="521.5,435.3 518.7,434.5 519.9,432.5 522.8,433.3" fill="#0223e9"/><polygon points="479.9,437.2 477.1,436.7 478.5,435.3 481.3,435.8" fill="#031cf2"/><polygon points="514.6,435.6 511.7,434.9 513.0,433.0 515.8,433.7" fill="#0220ef"/><polygon points="486.8,436.9 484.0,436.3 485.4,434.9 488.2,435.4" fill="#031cf2"/><polygon points="507.6,436.0 504.8,435.3 506.1,433.5 508.9,434.2" fill="#031ef3"/><polygon points="493.7,436.6 491.0,436.0 492.3,434.4 495.1,435.0" fill="#031df2"/><polygon points="500.7,436.3 497.9,435.6 499.2,434.0 502.0,434.6" fill="#031df2"/><polygon points="531.3,435.7 528.4,434.9 529.7,432.8 532.5,433.6" fill="#0223e9"/><polygon points="524.3,436.1 521.5,435.3 522.8,433.3 525.6,434.1" fill="#0220ee"/><polygon points="475.7,438.0 472.9,437.5 474.3,436.2 477.1,436.7" fill="#031bf1"/><polygon points="517.4,436.4 514.6,435.6 515.8,433.7 518.7,434.5" fill="#031ef3"/><polygon points="482.6,437.7 479.9,437.2 481.3,435.8 484.0,436.3" fill="#031cf2"/><polygon points="510.4,436.7 507.6,436.0 508.9,434.2 511.7,434.9" fill="#031df3"/><polygon points="489.6,437.5 486.8,436.9 488.2,435.4 491.0,436.0" fill="#031cf2"/><polygon points="503.5,437.0 500.7,436.3 502.0,434.6 504.8,435.3" fill="#031df2"/><polygon points="496.5,437.3 493.7,436.6 495.1,435.0 497.9,435.6" fill="#031cf2"/><polygon points="534.1,436.7 531.3,435.7 532.5,433.6 535.4,434.4" fill="#021ff0"/><polygon points="527.2,437.0 524.3,436.1 525.6,434.1 528.4,434.9" fill="#031ef3"/><polygon points="520.2,437.3 517.4,436.4 518.7,434.5 521.5,435.3" fill="#031df3"/><polygon points="471.5,438.7 468.7,438.2 470.2,437.0 472.9,437.5" fill="#031bf1"/><polygon points="513.3,437.5 510.4,436.7 511.7,434.9 514.6,435.6" fill="#031df3"/><polygon points="478.5,438.5 475.7,438.0 477.1,436.7 479.9,437.2" fill="#031bf1"/><polygon points="506.3,437.8 503.5,437.0 504.8,435.3 507.6,436.0" fill="#031cf2"/><polygon points="485.4,438.3 482.6,437.7 484.0,436.3 486.8,436.9" fill="#031bf2"/><polygon points="537.0,437.6 534.1,436.7 535.4,434.4 538.2,435.4" fill="#031df3"/><polygon points="499.4,438.0 496.5,437.3 497.9,435.6 500.7,436.3" fill="#031cf2"/><polygon points="492.4,438.2 489.6,437.5 491.0,436.0 493.7,436.6" fill="#031cf2"/><polygon points="530.0,437.9 527.2,437.0 528.4,434.9 531.3,435.7" fill="#031df3"/><polygon points="523.1,438.1 520.2,437.3 521.5,435.3 524.3,436.1" fill="#031df3"/><polygon points="539.9,438.6 537.0,437.6 538.2,435.4 541.1,436.3" fill="#031df3"/><polygon points="516.1,438.4 513.3,437.5 514.6,435.6 517.4,436.4" fill="#031cf3"/><polygon points="474.3,439.2 471.5,438.7 472.9,437.5 475.7,438.0" fill="#031bf1"/><polygon points="509.1,438.5 506.3,437.8 507.6,436.0 510.4,436.7" fill="#031cf2"/><polygon points="481.2,439.1 478.5,438.5 479.9,437.2 482.6,437.7" fill="#031bf1"/><polygon points="502.2,438.7 499.4,438.0 500.7,436.3 503.5,437.0" fill="#031cf2"/><polygon points="488.2,439.0 485.4,438.3 486.8,436.9 489.6,437.5" fill="#031bf2"/><polygon points="495.2,438.9 492.4,438.2 493.7,436.6 496.5,437.3" fill="#031bf2"/><polygon points="532.9,438.8 530.0,437.9 531.3,435.7 534.1,436.7" fill="#031cf3"/><polygon points="525.9,439.0 523.1,438.1 524.3,436.1 527.2,437.0" fill="#031cf3"/><polygon points="542.8,439.6 539.9,438.6 541.1,436.3 544.0,437.3" fill="#031cf3"/><polygon points="519.0,439.2 516.1,438.4 517.4,436.4 520.2,437.3" fill="#031cf3"/><polygon points="512.0,439.4 509.1,438.5 510.4,436.7 513.3,437.5" fill="#031bf2"/><polygon points="470.0,439.8 467.3,439.3 468.7,438.2 471.5,438.7" fill="#031bf1"/><polygon points="535.8,439.8 532.9,438.8 534.1,436.7 537.0,437.6" fill="#031bf3"/><polygon points="505.0,439.5 502.2,438.7 503.5,437.0 506.3,437.8" fill="#031bf2"/><polygon points="477.0,439.8 474.3,439.2 475.7,438.0 478.5,438.5" fill="#031bf1"/><polygon points="498.0,439.6 495.2,438.9 496.5,437.3 499.4,438.0" fill="#031bf2"/><polygon points="484.0,439.7 481.2,439.1 482.6,437.7 485.4,438.3" fill="#031bf2"/><polygon points="491.0,439.7 488.2,439.0 489.6,437.5 492.4,438.2" fill="#031bf2"/><polygon points="545.7,440.7 542.8,439.6 544.0,437.3 546.9,438.3" fill="#031af3"/><polygon points="528.8,440.0 525.9,439.0 527.2,437.0 530.0,437.9" fill="#031bf3"/><polygon points="521.8,440.1 519.0,439.2 520.2,437.3 523.1,438.1" fill="#031bf3"/><polygon points="538.7,440.9 535.8,439.8 537.0,437.6 539.9,438.6" fill="#031af3"/><polygon points="514.8,440.2 512.0,439.4 513.3,437.5 516.1,438.4" fill="#031bf2"/><polygon points="548.6,441.8 545.7,440.7 546.9,438.3 549.8,439.4" fill="#0319f3"/><polygon points="507.8,440.3 505.0,439.5 506.3,437.8 509.1,438.5" fill="#031bf2"/><polygon points="531.7,441.0 528.8,440.0 530.0,437.9 532.9,438.8" fill="#031af3"/><polygon points="472.8,440.4 470.0,439.8 471.5,438.7 474.3,439.2" fill="#031bf1"/><polygon points="500.8,440.4 498.0,439.6 499.4,438.0 502.2,438.7" fill="#031bf2"/><polygon points="479.8,440.4 477.0,439.8 478.5,438.5 481.2,439.1" fill="#031bf1"/><polygon points="493.8,440.4 491.0,439.7 492.4,438.2 495.2,438.9" fill="#031bf2"/><polygon points="486.8,440.4 484.0,439.7 485.4,438.3 488.2,439.0" fill="#031bf2"/><polygon points="524.7,441.1 521.8,440.1 523.1,438.1 525.9,439.0" fill="#031af3"/><polygon points="541.6,441.9 538.7,440.9 539.9,438.6 542.8,439.6" fill="#0319f3"/><polygon points="551.5,443.0 548.6,441.8 549.8,439.4 552.7,440.5" fill="#0418f2"/><polygon points="517.7,441.2 514.8,440.2 516.1,438.4 519.0,439.2" fill="#031af2"/><polygon points="534.6,442.0 531.7,441.0 532.9,438.8 535.8,439.8" fill="#0319f3"/><polygon points="510.7,441.2 507.8,440.3 509.1,438.5 512.0,439.4" fill="#031af2"/><polygon points="503.7,441.2 500.8,440.4 502.2,438.7 505.0,439.5" fill="#031af2"/><polygon points="544.4,443.1 541.6,441.9 542.8,439.6 545.7,440.7" fill="#0418f3"/><polygon points="468.6,440.9 465.8,440.4 467.3,439.3 470.0,439.8" fill="#031bf0"/><polygon points="496.7,441.2 493.8,440.4 495.2,438.9 498.0,439.6" fill="#031af2"/><polygon points="527.5,442.1 524.7,441.1 525.9,439.0 528.8,440.0" fill="#0319f2"/><polygon points="554.4,444.2 551.5,443.0 552.7,440.5 555.6,441.7" fill="#0417f2"/><polygon points="475.6,441.0 472.8,440.4 474.3,439.2 477.0,439.8" fill="#031bf1"/><polygon points="489.7,441.2 486.8,440.4 488.2,439.0 491.0,439.7" fill="#031af2"/><polygon points="482.6,441.1 479.8,440.4 481.2,439.1 484.0,439.7" fill="#031af1"/><polygon points="520.5,442.1 517.7,441.2 519.0,439.2 521.8,440.1" fill="#0319f2"/><polygon points="537.4,443.1 534.6,442.0 535.8,439.8 538.7,440.9" fill="#0418f2"/><polygon points="547.4,444.2 544.4,443.1 545.7,440.7 548.6,441.8" fill="#0417f2"/><polygon points="513.5,442.1 510.7,441.2 512.0,439.4 514.8,440.2" fill="#0319f2"/><polygon points="557.3,445.4 554.4,444.2 555.6,441.7 558.5,442.9" fill="#0415f2"/><polygon points="530.4,443.1 527.5,442.1 528.8,440.0 531.7,441.0" fill="#0418f2"/><polygon points="506.5,442.1 503.7,441.2 505.0,439.5 507.8,440.3" fill="#0319f2"/><polygon points="499.5,442.0 496.7,441.2 498.0,439.6 500.8,440.4" fill="#0319f2"/><polygon points="540.3,444.2 537.4,443.1 538.7,440.9 541.6,441.9" fill="#0417f2"/><polygon points="492.5,441.9 489.7,441.2 491.0,439.7 493.8,440.4" fill="#031af2"/><polygon points="471.4,441.5 468.6,440.9 470.0,439.8 472.8,440.4" fill="#031bf0"/><polygon points="523.4,443.1 520.5,442.1 521.8,440.1 524.7,441.1" fill="#0318f2"/><polygon points="485.4,441.8 482.6,441.1 484.0,439.7 486.8,440.4" fill="#031af1"/><polygon points="478.4,441.7 475.6,441.0 477.0,439.8 479.8,440.4" fill="#031af1"/><polygon points="560.2,446.7 557.3,445.4 558.5,442.9 561.4,444.1" fill="#0414f2"/><polygon points="550.3,445.4 547.4,444.2 548.6,441.8 551.5,443.0" fill="#0415f2"/><polygon points="516.4,443.1 513.5,442.1 514.8,440.2 517.7,441.2" fill="#0318f2"/><polygon points="533.3,444.2 530.4,443.1 531.7,441.0 534.6,442.0" fill="#0417f2"/><polygon points="509.4,443.0 506.5,442.1 507.8,440.3 510.7,441.2" fill="#0319f2"/><polygon points="563.1,448.1 560.2,446.7 561.4,444.1 564.3,445.4" fill="#0412f2"/><polygon points="543.2,445.4 540.3,444.2 541.6,441.9 544.4,443.1" fill="#0416f2"/><polygon points="553.2,446.7 550.3,445.4 551.5,443.0 554.4,444.2" fill="#0414f2"/><polygon points="502.3,442.9 499.5,442.0 500.8,440.4 503.7,441.2" fill="#0319f2"/><polygon points="526.3,444.1 523.4,443.1 524.7,441.1 527.5,442.1" fill="#0417f2"/><polygon points="495.3,442.7 492.5,441.9 493.8,440.4 496.7,441.2" fill="#0319f2"/><polygon points="467.1,442.0 464.3,441.4 465.8,440.4 468.6,440.9" fill="#031bf0"/><polygon points="488.3,442.6 485.4,441.8 486.8,440.4 489.7,441.2" fill="#031af1"/><polygon points="474.2,442.2 471.4,441.5 472.8,440.4 475.6,441.0" fill="#031af0"/><polygon points="481.2,442.4 478.4,441.7 479.8,440.4 482.6,441.1" fill="#031af1"/><polygon points="566.1,449.4 563.1,448.1 564.3,445.4 567.2,446.8" fill="#0511f1"/><polygon points="536.2,445.3 533.3,444.2 534.6,442.0 537.4,443.1" fill="#0416f2"/><polygon points="519.3,444.1 516.4,443.1 517.7,441.2 520.5,442.1" fill="#0417f2"/><polygon points="546.1,446.6 543.2,445.4 544.4,443.1 547.4,444.2" fill="#0414f2"/><polygon points="556.1,447.9 553.2,446.7 554.4,444.2 557.3,445.4" fill="#0413f2"/><polygon points="512.2,443.9 509.4,443.0 510.7,441.2 513.5,442.1" fill="#0418f2"/><polygon points="529.2,445.2 526.3,444.1 527.5,442.1 530.4,443.1" fill="#0416f2"/><polygon points="569.0,450.8 566.1,449.4 567.2,446.8 570.2,448.2" fill="#0511ee"/><polygon points="505.2,443.8 502.3,442.9 503.7,441.2 506.5,442.1" fill="#0318f2"/><polygon points="539.1,446.5 536.2,445.3 537.4,443.1 540.3,444.2" fill="#0415f2"/><polygon points="559.0,449.3 556.1,447.9 557.3,445.4 560.2,446.7" fill="#0511f1"/><polygon points="498.1,443.6 495.3,442.7 496.7,441.2 499.5,442.0" fill="#0319f2"/><polygon points="549.1,447.8 546.1,446.6 547.4,444.2 550.3,445.4" fill="#0413f2"/><polygon points="522.1,445.1 519.3,444.1 520.5,442.1 523.4,443.1" fill="#0416f2"/><polygon points="491.1,443.4 488.3,442.6 489.7,441.2 492.5,441.9" fill="#0319f1"/><polygon points="571.9,452.3 569.0,450.8 570.2,448.2 573.1,449.6" fill="#0510ec"/><polygon points="484.0,443.2 481.2,442.4 482.6,441.1 485.4,441.8" fill="#031af1"/><polygon points="469.9,442.6 467.1,442.0 468.6,440.9 471.4,441.5" fill="#031bf0"/><polygon points="477.0,442.9 474.2,442.2 475.6,441.0 478.4,441.7" fill="#031af1"/><polygon points="515.1,444.9 512.2,443.9 513.5,442.1 516.4,443.1" fill="#0417f2"/><polygon points="532.1,446.3 529.2,445.2 530.4,443.1 533.3,444.2" fill="#0415f2"/><polygon points="562.0,450.6 559.0,449.3 560.2,446.7 563.1,448.1" fill="#0511ef"/><polygon points="574.9,453.8 571.9,452.3 573.1,449.6 576.0,451.1" fill="#060fe9"/><polygon points="542.0,447.7 539.1,446.5 540.3,444.2 543.2,445.4" fill="#0413f2"/><polygon points="552.0,449.1 549.1,447.8 550.3,445.4 553.2,446.7" fill="#0512f2"/><polygon points="508.0,444.7 505.2,443.8 506.5,442.1 509.4,443.0" fill="#0417f2"/><polygon points="525.0,446.2 522.1,445.1 523.4,443.1 526.3,444.1" fill="#0415f2"/><polygon points="501.0,444.5 498.1,443.6 499.5,442.0 502.3,442.9" fill="#0418f2"/><polygon points="564.9,452.0 562.0,450.6 563.1,448.1 566.1,449.4" fill="#0510ed"/><polygon points="577.8,455.3 574.9,453.8 576.0,451.1 579.0,452.6" fill="#060ee7"/><polygon points="535.0,447.5 532.1,446.3 533.3,444.2 536.2,445.3" fill="#0414f2"/><polygon points="493.9,444.3 491.1,443.4 492.5,441.9 495.3,442.7" fill="#0318f1"/><polygon points="554.9,450.4 552.0,449.1 553.2,446.7 556.1,447.9" fill="#0511f0"/><polygon points="518.0,446.0 515.1,444.9 516.4,443.1 519.3,444.1" fill="#0416f2"/><polygon points="544.9,448.9 542.0,447.7 543.2,445.4 546.1,446.6" fill="#0512f2"/><polygon points="486.9,444.0 484.0,443.2 485.4,441.8 488.3,442.6" fill="#0319f1"/><polygon points="580.8,456.9 577.8,455.3 579.0,452.6 581.9,454.1" fill="#060de4"/><polygon points="479.8,443.6 477.0,442.9 478.4,441.7 481.2,442.4" fill="#031af1"/><polygon points="465.6,442.9 462.8,442.3 464.3,441.4 467.1,442.0" fill="#031bef"/><polygon points="472.7,443.3 469.9,442.6 471.4,441.5 474.2,442.2" fill="#031af0"/><polygon points="567.8,453.5 564.9,452.0 566.1,449.4 569.0,450.8" fill="#050fea"/><polygon points="510.9,445.7 508.0,444.7 509.4,443.0 512.2,443.9" fill="#0416f2"/><polygon points="527.9,447.3 525.0,446.2 526.3,444.1 529.2,445.2" fill="#0414f2"/><polygon points="583.8,458.5 580.8,456.9 581.9,454.1 584.9,455.7" fill="#060ce1"/><polygon points="557.8,451.8 554.9,450.4 556.1,447.9 559.0,449.3" fill="#0510ee"/><polygon points="537.9,448.7 535.0,447.5 536.2,445.3 539.1,446.5" fill="#0413f2"/><polygon points="503.9,445.5 501.0,444.5 502.3,442.9 505.2,443.8" fill="#0417f2"/><polygon points="547.8,450.2 544.9,448.9 546.1,446.6 549.1,447.8" fill="#0511f1"/><polygon points="570.8,455.0 567.8,453.5 569.0,450.8 571.9,452.3" fill="#060fe8"/><polygon points="586.7,460.2 583.8,458.5 584.9,455.7 587.8,457.4" fill="#070cde"/><polygon points="520.9,447.0 518.0,446.0 519.3,444.1 522.1,445.1" fill="#0415f2"/><polygon points="496.8,445.2 493.9,444.3 495.3,442.7 498.1,443.6" fill="#0418f1"/><polygon points="560.8,453.1 557.8,451.8 559.0,449.3 562.0,450.6" fill="#0510eb"/><polygon points="489.7,444.8 486.9,444.0 488.3,442.6 491.1,443.4" fill="#0318f1"/><polygon points="589.7,461.9 586.7,460.2 587.8,457.4 590.8,459.0" fill="#070bdb"/><polygon points="573.7,456.5 570.8,455.0 571.9,452.3 574.9,453.8" fill="#060ee5"/><polygon points="530.8,448.4 527.9,447.3 529.2,445.2 532.1,446.3" fill="#0413f2"/><polygon points="513.8,446.7 510.9,445.7 512.2,443.9 515.1,444.9" fill="#0416f2"/><polygon points="482.6,444.4 479.8,443.6 481.2,442.4 484.0,443.2" fill="#0319f1"/><polygon points="550.8,451.5 547.8,450.2 549.1,447.8 552.0,449.1" fill="#0511ef"/><polygon points="540.8,449.9 537.9,448.7 539.1,446.5 542.0,447.7" fill="#0511f1"/><polygon points="475.5,444.0 472.7,443.3 474.2,442.2 477.0,442.9" fill="#031af0"/><polygon points="592.7,463.6 589.7,461.9 590.8,459.0 593.8,460.8" fill="#070ad8"/><polygon points="468.4,443.6 465.6,442.9 467.1,442.0 469.9,442.6" fill="#031bf0"/><polygon points="576.7,458.0 573.7,456.5 574.9,453.8 577.8,455.3" fill="#060de3"/><polygon points="506.7,446.4 503.9,445.5 505.2,443.8 508.0,444.7" fill="#0416f2"/><polygon points="595.6,465.4 592.7,463.6 593.8,460.8 596.7,462.5" fill="#0809cf"/><polygon points="563.7,454.6 560.8,453.1 562.0,450.6 564.9,452.0" fill="#060fe9"/><polygon points="523.7,448.1 520.9,447.0 522.1,445.1 525.0,446.2" fill="#0414f2"/><polygon points="598.6,467.2 595.6,465.4 596.7,462.5 599.7,464.4" fill="#0909c5"/><polygon points="499.6,446.1 496.8,445.2 498.1,443.6 501.0,444.5" fill="#0417f1"/><polygon points="553.7,452.8 550.8,451.5 552.0,449.1 554.9,450.4" fill="#0510ed"/><polygon points="533.7,449.6 530.8,448.4 532.1,446.3 535.0,447.5" fill="#0512f2"/><polygon points="579.7,459.6 576.7,458.0 577.8,455.3 580.8,456.9" fill="#070ce0"/><polygon points="601.6,469.1 598.6,467.2 599.7,464.4 602.7,466.2" fill="#0a08ba"/><polygon points="543.7,451.2 540.8,449.9 542.0,447.7 544.9,448.9" fill="#0511f0"/><polygon points="604.6,471.0 601.6,469.1 602.7,466.2 605.7,468.1" fill="#0c08af"/><polygon points="516.7,447.8 513.8,446.7 515.1,444.9 518.0,446.0" fill="#0414f2"/><polygon points="566.7,456.0 563.7,454.6 564.9,452.0 567.8,453.5" fill="#060ee7"/><polygon points="492.6,445.7 489.7,444.8 491.1,443.4 493.9,444.3" fill="#0418f1"/><polygon points="607.6,473.0 604.6,471.0 605.7,468.1 608.6,470.1" fill="#0d07aa"/><polygon points="582.6,461.3 579.7,459.6 580.8,456.9 583.8,458.5" fill="#070bdd"/><polygon points="485.5,445.3 482.6,444.4 484.0,443.2 486.9,444.0" fill="#0319f1"/><polygon points="526.6,449.3 523.7,448.1 525.0,446.2 527.9,447.3" fill="#0413f2"/><polygon points="556.6,454.2 553.7,452.8 554.9,450.4 557.8,451.8" fill="#050fea"/><polygon points="478.4,444.8 475.5,444.0 477.0,442.9 479.8,443.6" fill="#0319f0"/><polygon points="509.6,447.5 506.7,446.4 508.0,444.7 510.9,445.7" fill="#0415f2"/><polygon points="471.3,444.3 468.4,443.6 469.9,442.6 472.7,443.3" fill="#031af0"/><polygon points="569.6,457.6 566.7,456.0 567.8,453.5 570.8,455.0" fill="#060de4"/><polygon points="464.1,443.8 461.3,443.1 462.8,442.3 465.6,442.9" fill="#031bef"/><polygon points="585.6,463.0 582.6,461.3 583.8,458.5 586.7,460.2" fill="#070ada"/><polygon points="536.6,450.8 533.7,449.6 535.0,447.5 537.9,448.7" fill="#0511f0"/><polygon points="546.6,452.5 543.7,451.2 544.9,448.9 547.8,450.2" fill="#0510ee"/><polygon points="502.5,447.1 499.6,446.1 501.0,444.5 503.9,445.5" fill="#0416f1"/><polygon points="588.6,464.7 585.6,463.0 586.7,460.2 589.7,461.9" fill="#0809d6"/><polygon points="519.6,448.9 516.7,447.8 518.0,446.0 520.9,447.0" fill="#0413f2"/><polygon points="559.6,455.6 556.6,454.2 557.8,451.8 560.8,453.1" fill="#060fe8"/><polygon points="572.6,459.1 569.6,457.6 570.8,455.0 573.7,456.5" fill="#060de2"/><polygon points="495.4,446.6 492.6,445.7 493.9,444.3 496.8,445.2" fill="#0417f1"/><polygon points="591.5,466.4 588.6,464.7 589.7,461.9 592.7,463.6" fill="#0909cc"/><polygon points="529.6,450.5 526.6,449.3 527.9,447.3 530.8,448.4" fill="#0512f1"/><polygon points="549.6,453.8 546.6,452.5 547.8,450.2 550.8,451.5" fill="#0510eb"/><polygon points="539.6,452.1 536.6,450.8 537.9,448.7 540.8,449.9" fill="#0511ef"/><polygon points="488.3,446.2 485.5,445.3 486.9,444.0 489.7,444.8" fill="#0318f1"/><polygon points="594.5,468.2 591.5,466.4 592.7,463.6 595.6,465.4" fill="#0a08c2"/><polygon points="512.5,448.5 509.6,447.5 510.9,445.7 513.8,446.7" fill="#0414f2"/><polygon points="575.5,460.7 572.6,459.1 573.7,456.5 576.7,458.0" fill="#070cdf"/><polygon points="562.5,457.1 559.6,455.6 560.8,453.1 563.7,454.6" fill="#060ee6"/><polygon points="481.2,445.7 478.4,444.8 479.8,443.6 482.6,444.4" fill="#0319f0"/><polygon points="597.5,470.1 594.5,468.2 595.6,465.4 598.6,467.2" fill="#0b08b8"/><polygon points="474.1,445.1 471.3,444.3 472.7,443.3 475.5,444.0" fill="#031af0"/><polygon points="600.5,471.9 597.5,470.1 598.6,467.2 601.6,469.1" fill="#0c07ae"/><polygon points="522.5,450.1 519.6,448.9 520.9,447.0 523.7,448.1" fill="#0412f2"/><polygon points="505.4,448.1 502.5,447.1 503.9,445.5 506.7,446.4" fill="#0415f1"/><polygon points="578.5,462.3 575.5,460.7 576.7,458.0 579.7,459.6" fill="#070bdc"/><polygon points="467.0,444.5 464.1,443.8 465.6,442.9 468.4,443.6" fill="#031bef"/><polygon points="552.5,455.2 549.6,453.8 550.8,451.5 553.7,452.8" fill="#060fe9"/><polygon points="603.5,473.8 600.5,471.9 601.6,469.1 604.6,471.0" fill="#0e07a9"/><polygon points="532.5,451.7 529.6,450.5 530.8,448.4 533.7,449.6" fill="#0511f0"/><polygon points="606.5,475.8 603.5,473.8 604.6,471.0 607.6,473.0" fill="#1006a3"/><polygon points="542.5,453.4 539.6,452.1 540.8,449.9 543.7,451.2" fill="#0510ed"/><polygon points="565.5,458.6 562.5,457.1 563.7,454.6 566.7,456.0" fill="#060de3"/><polygon points="498.3,447.6 495.4,446.6 496.8,445.2 499.6,446.1" fill="#0416f1"/><polygon points="581.5,464.0 578.5,462.3 579.7,459.6 582.6,461.3" fill="#070ad9"/><polygon points="515.4,449.6 512.5,448.5 513.8,446.7 516.7,447.8" fill="#0413f2"/><polygon points="491.2,447.1 488.3,446.2 489.7,444.8 492.6,445.7" fill="#0417f1"/><polygon points="555.4,456.6 552.5,455.2 553.7,452.8 556.6,454.2" fill="#060ee7"/><polygon points="584.5,465.6 581.5,464.0 582.6,461.3 585.6,463.0" fill="#0809d3"/><polygon points="568.5,460.1 565.5,458.6 566.7,456.0 569.6,457.6" fill="#070ce1"/><polygon points="525.4,451.2 522.5,450.1 523.7,448.1 526.6,449.3" fill="#0511f1"/><polygon points="545.4,454.7 542.5,453.4 543.7,451.2 546.6,452.5" fill="#050feb"/><polygon points="484.1,446.5 481.2,445.7 482.6,444.4 485.5,445.3" fill="#0318f0"/><polygon points="535.4,452.9 532.5,451.7 533.7,449.6 536.6,450.8" fill="#0510ee"/><polygon points="508.3,449.2 505.4,448.1 506.7,446.4 509.6,447.5" fill="#0414f1"/><polygon points="587.4,467.4 584.5,465.6 585.6,463.0 588.6,464.7" fill="#0909c9"/><polygon points="476.9,445.9 474.1,445.1 475.5,444.0 478.4,444.8" fill="#0319f0"/><polygon points="571.4,461.7 568.5,460.1 569.6,457.6 572.6,459.1" fill="#070bde"/><polygon points="558.4,458.0 555.4,456.6 556.6,454.2 559.6,455.6" fill="#060ee5"/><polygon points="469.8,445.3 467.0,444.5 468.4,443.6 471.3,444.3" fill="#031bef"/><polygon points="590.4,469.1 587.4,467.4 588.6,464.7 591.5,466.4" fill="#0a08c0"/><polygon points="462.6,444.6 459.8,443.9 461.3,443.1 464.1,443.8" fill="#031cee"/><polygon points="501.2,448.6 498.3,447.6 499.6,446.1 502.5,447.1" fill="#0415f1"/><polygon points="518.3,450.8 515.4,449.6 516.7,447.8 519.6,448.9" fill="#0412f2"/><polygon points="593.4,471.0 590.4,469.1 591.5,466.4 594.5,468.2" fill="#0b08b6"/><polygon points="548.4,456.1 545.4,454.7 546.6,452.5 549.6,453.8" fill="#060fe8"/><polygon points="574.4,463.3 571.4,461.7 572.6,459.1 575.5,460.7" fill="#070bdb"/><polygon points="528.3,452.5 525.4,451.2 526.6,449.3 529.6,450.5" fill="#0511ef"/><polygon points="538.3,454.2 535.4,452.9 536.6,450.8 539.6,452.1" fill="#0510ec"/><polygon points="596.4,472.8 593.4,471.0 594.5,468.2 597.5,470.1" fill="#0c07ad"/><polygon points="494.0,448.1 491.2,447.1 492.6,445.7 495.4,446.6" fill="#0416f1"/><polygon points="561.4,459.5 558.4,458.0 559.6,455.6 562.5,457.1" fill="#060de2"/><polygon points="511.2,450.3 508.3,449.2 509.6,447.5 512.5,448.5" fill="#0413f1"/><polygon points="599.4,474.7 596.4,472.8 597.5,470.1 600.5,471.9" fill="#0e07a8"/><polygon points="577.4,464.9 574.4,463.3 575.5,460.7 578.5,462.3" fill="#070ad8"/><polygon points="602.4,476.6 599.4,474.7 600.5,471.9 603.5,473.8" fill="#1006a2"/><polygon points="486.9,447.5 484.1,446.5 485.5,445.3 488.3,446.2" fill="#0418f0"/><polygon points="605.4,478.5 602.4,476.6 603.5,473.8 606.5,475.8" fill="#12059d"/><polygon points="551.3,457.5 548.4,456.1 549.6,453.8 552.5,455.2" fill="#060ee6"/><polygon points="521.2,452.0 518.3,450.8 519.6,448.9 522.5,450.1" fill="#0511f0"/><polygon points="479.8,446.8 476.9,445.9 478.4,444.8 481.2,445.7" fill="#0319f0"/><polygon points="564.3,461.0 561.4,459.5 562.5,457.1 565.5,458.6" fill="#070ce0"/><polygon points="504.0,449.7 501.2,448.6 502.5,447.1 505.4,448.1" fill="#0414f1"/><polygon points="580.3,466.6 577.4,464.9 578.5,462.3 581.5,464.0" fill="#0809d1"/><polygon points="541.2,455.6 538.3,454.2 539.6,452.1 542.5,453.4" fill="#050fea"/><polygon points="531.2,453.7 528.3,452.5 529.6,450.5 532.5,451.7" fill="#0510ed"/><polygon points="472.6,446.1 469.8,445.3 471.3,444.3 474.1,445.1" fill="#031aef"/><polygon points="465.5,445.3 462.6,444.6 464.1,443.8 467.0,444.5" fill="#031cef"/><polygon points="583.3,468.3 580.3,466.6 581.5,464.0 584.5,465.6" fill="#0909c7"/><polygon points="496.9,449.1 494.0,448.1 495.4,446.6 498.3,447.6" fill="#0415f1"/><polygon points="554.2,458.9 551.3,457.5 552.5,455.2 555.4,456.6" fill="#060de4"/><polygon points="567.3,462.6 564.3,461.0 565.5,458.6 568.5,460.1" fill="#070bdd"/><polygon points="514.1,451.4 511.2,450.3 512.5,448.5 515.4,449.6" fill="#0412f1"/><polygon points="586.3,470.0 583.3,468.3 584.5,465.6 587.4,467.4" fill="#0a08be"/><polygon points="544.2,456.9 541.2,455.6 542.5,453.4 545.4,454.7" fill="#060fe8"/><polygon points="524.1,453.2 521.2,452.0 522.5,450.1 525.4,451.2" fill="#0511ef"/><polygon points="489.8,448.4 486.9,447.5 488.3,446.2 491.2,447.1" fill="#0417f0"/><polygon points="534.1,455.0 531.2,453.7 532.5,451.7 535.4,452.9" fill="#0510eb"/><polygon points="570.3,464.2 567.3,462.6 568.5,460.1 571.4,461.7" fill="#070adb"/><polygon points="589.3,471.8 586.3,470.0 587.4,467.4 590.4,469.1" fill="#0b08b4"/><polygon points="506.9,450.8 504.0,449.7 505.4,448.1 508.3,449.2" fill="#0413f1"/><polygon points="557.2,460.4 554.2,458.9 555.4,456.6 558.4,458.0" fill="#060de2"/><polygon points="482.6,447.7 479.8,446.8 481.2,445.7 484.1,446.5" fill="#0318f0"/><polygon points="592.3,473.6 589.3,471.8 590.4,469.1 593.4,471.0" fill="#0d07ad"/><polygon points="573.2,465.8 570.3,464.2 571.4,461.7 574.4,463.3" fill="#080ad7"/><polygon points="517.0,452.6 514.1,451.4 515.4,449.6 518.3,450.8" fill="#0511f0"/><polygon points="475.5,447.0 472.6,446.1 474.1,445.1 476.9,445.9" fill="#031aef"/><polygon points="547.1,458.3 544.2,456.9 545.4,454.7 548.4,456.1" fill="#060ee6"/><polygon points="595.3,475.5 592.3,473.6 593.4,471.0 596.4,472.8" fill="#0e07a7"/><polygon points="499.8,450.2 496.9,449.1 498.3,447.6 501.2,448.6" fill="#0415f1"/><polygon points="527.0,454.4 524.1,453.2 525.4,451.2 528.3,452.5" fill="#0510ed"/><polygon points="598.3,477.3 595.3,475.5 596.4,472.8 599.4,474.7" fill="#1006a2"/><polygon points="560.2,461.9 557.2,460.4 558.4,458.0 561.4,459.5" fill="#070cdf"/><polygon points="537.1,456.3 534.1,455.0 535.4,452.9 538.3,454.2" fill="#060fe9"/><polygon points="468.3,446.1 465.5,445.3 467.0,444.5 469.8,445.3" fill="#031bef"/><polygon points="601.3,479.2 598.3,477.3 599.4,474.7 602.4,476.6" fill="#12059d"/><polygon points="576.2,467.4 573.2,465.8 574.4,463.3 577.4,464.9" fill="#0809cf"/><polygon points="461.1,445.3 458.3,444.5 459.8,443.9 462.6,444.6" fill="#031dee"/><polygon points="604.3,481.2 601.3,479.2 602.4,476.6 605.4,478.5" fill="#140597"/><polygon points="492.6,449.5 489.8,448.4 491.2,447.1 494.0,448.1" fill="#0416f0"/><polygon points="509.8,452.0 506.9,450.8 508.3,449.2 511.2,450.3" fill="#0412f1"/><polygon points="550.1,459.8 547.1,458.3 548.4,456.1 551.3,457.5" fill="#060de3"/><polygon points="563.1,463.4 560.2,461.9 561.4,459.5 564.3,461.0" fill="#070bdd"/><polygon points="579.2,469.1 576.2,467.4 577.4,464.9 580.3,466.6" fill="#0909c6"/><polygon points="519.9,453.8 517.0,452.6 518.3,450.8 521.2,452.0" fill="#0511ee"/><polygon points="485.5,448.7 482.6,447.7 484.1,446.5 486.9,447.5" fill="#0417f0"/><polygon points="540.0,457.7 537.1,456.3 538.3,454.2 541.2,455.6" fill="#060ee7"/><polygon points="529.9,455.7 527.0,454.4 528.3,452.5 531.2,453.7" fill="#0510eb"/><polygon points="582.2,470.9 579.2,469.1 580.3,466.6 583.3,468.3" fill="#0a08bc"/><polygon points="502.7,451.3 499.8,450.2 501.2,448.6 504.0,449.7" fill="#0413f1"/><polygon points="566.1,465.0 563.1,463.4 564.3,461.0 567.3,462.6" fill="#070ada"/><polygon points="478.3,447.9 475.5,447.0 476.9,445.9 479.8,446.8" fill="#0319ef"/><polygon points="553.0,461.2 550.1,459.8 551.3,457.5 554.2,458.9" fill="#060ce1"/><polygon points="585.2,472.6 582.2,470.9 583.3,468.3 586.3,470.0" fill="#0b08b3"/><polygon points="471.1,447.0 468.3,446.1 469.8,445.3 472.6,446.1" fill="#031bef"/><polygon points="512.7,453.1 509.8,452.0 511.2,450.3 514.1,451.4" fill="#0511f0"/><polygon points="495.5,450.5 492.6,449.5 494.0,448.1 496.9,449.1" fill="#0415f0"/><polygon points="543.0,459.1 540.0,457.7 541.2,455.6 544.2,456.9" fill="#060ee5"/><polygon points="588.2,474.4 585.2,472.6 586.3,470.0 589.3,471.8" fill="#0d07ac"/><polygon points="569.1,466.6 566.1,465.0 567.3,462.6 570.3,464.2" fill="#0809d6"/><polygon points="463.9,446.1 461.1,445.3 462.6,444.6 465.5,445.3" fill="#031cee"/><polygon points="522.8,455.1 519.9,453.8 521.2,452.0 524.1,453.2" fill="#0510ed"/><polygon points="532.9,457.0 529.9,455.7 531.2,453.7 534.1,455.0" fill="#060fe9"/><polygon points="556.0,462.7 553.0,461.2 554.2,458.9 557.2,460.4" fill="#070cdf"/><polygon points="591.2,476.2 588.2,474.4 589.3,471.8 592.3,473.6" fill="#0e07a7"/><polygon points="488.4,449.7 485.5,448.7 486.9,447.5 489.8,448.4" fill="#0417f0"/><polygon points="505.6,452.4 502.7,451.3 504.0,449.7 506.9,450.8" fill="#0412f1"/><polygon points="572.1,468.3 569.1,466.6 570.3,464.2 573.2,465.8" fill="#0909cd"/><polygon points="594.2,478.0 591.2,476.2 592.3,473.6 595.3,475.5" fill="#1006a2"/><polygon points="545.9,460.5 543.0,459.1 544.2,456.9 547.1,458.3" fill="#060de3"/><polygon points="597.2,479.9 594.2,478.0 595.3,475.5 598.3,477.3" fill="#12059d"/><polygon points="559.0,464.3 556.0,462.7 557.2,460.4 560.2,461.9" fill="#070bdc"/><polygon points="481.2,448.8 478.3,447.9 479.8,446.8 482.6,447.7" fill="#0318ef"/><polygon points="515.7,454.4 512.7,453.1 514.1,451.4 517.0,452.6" fill="#0511ee"/><polygon points="600.2,481.8 597.2,479.9 598.3,477.3 601.3,479.2" fill="#140597"/><polygon points="535.8,458.4 532.9,457.0 534.1,455.0 537.1,456.3" fill="#060ee7"/><polygon points="575.1,469.9 572.1,468.3 573.2,465.8 576.2,467.4" fill="#0a09c4"/><polygon points="603.2,483.8 600.2,481.8 601.3,479.2 604.3,481.2" fill="#160492"/><polygon points="525.7,456.3 522.8,455.1 524.1,453.2 527.0,454.4" fill="#0510eb"/><polygon points="498.4,451.6 495.5,450.5 496.9,449.1 499.8,450.2" fill="#0414f0"/><polygon points="474.0,447.9 471.1,447.0 472.6,446.1 475.5,447.0" fill="#031aef"/><polygon points="578.1,471.6 575.1,469.9 576.2,467.4 579.2,469.1" fill="#0a08bb"/><polygon points="548.9,462.0 545.9,460.5 547.1,458.3 550.1,459.8" fill="#070ce1"/><polygon points="562.0,465.8 559.0,464.3 560.2,461.9 563.1,463.4" fill="#070ada"/><polygon points="466.8,446.9 463.9,446.1 465.5,445.3 468.3,446.1" fill="#031cee"/><polygon points="508.5,453.6 505.6,452.4 506.9,450.8 509.8,452.0" fill="#0511f0"/><polygon points="491.2,450.8 488.4,449.7 489.8,448.4 492.6,449.5" fill="#0416f0"/><polygon points="581.1,473.4 578.1,471.6 579.2,469.1 582.2,470.9" fill="#0b08b2"/><polygon points="538.8,459.8 535.8,458.4 537.1,456.3 540.0,457.7" fill="#060ee5"/><polygon points="459.6,445.9 456.7,445.1 458.3,444.5 461.1,445.3" fill="#021fe9"/><polygon points="518.6,455.6 515.7,454.4 517.0,452.6 519.9,453.8" fill="#0510ed"/><polygon points="528.7,457.7 525.7,456.3 527.0,454.4 529.9,455.7" fill="#060fe9"/><polygon points="564.9,467.4 562.0,465.8 563.1,463.4 566.1,465.0" fill="#0809d5"/><polygon points="551.8,463.5 548.9,462.0 550.1,459.8 553.0,461.2" fill="#070cde"/><polygon points="584.1,475.1 581.1,473.4 582.2,470.9 585.2,472.6" fill="#0d07ac"/><polygon points="484.1,449.9 481.2,448.8 482.6,447.7 485.5,448.7" fill="#0417ef"/><polygon points="501.3,452.8 498.4,451.6 499.8,450.2 502.7,451.3" fill="#0413f0"/><polygon points="587.1,476.9 584.1,475.1 585.2,472.6 588.2,474.4" fill="#0e07a7"/><polygon points="567.9,469.0 564.9,467.4 566.1,465.0 569.1,466.6" fill="#0909cc"/><polygon points="541.7,461.2 538.8,459.8 540.0,457.7 543.0,459.1" fill="#060de3"/><polygon points="476.9,448.9 474.0,447.9 475.5,447.0 478.3,447.9" fill="#0319ef"/><polygon points="511.4,454.8 508.5,453.6 509.8,452.0 512.7,453.1" fill="#0511ef"/><polygon points="590.1,478.7 587.1,476.9 588.2,474.4 591.2,476.2" fill="#1006a2"/><polygon points="554.8,465.0 551.8,463.5 553.0,461.2 556.0,462.7" fill="#070bdc"/><polygon points="531.6,459.0 528.7,457.7 529.9,455.7 532.9,457.0" fill="#060ee7"/><polygon points="521.5,456.9 518.6,455.6 519.9,453.8 522.8,455.1" fill="#0510eb"/><polygon points="494.1,451.9 491.2,450.8 492.6,449.5 495.5,450.5" fill="#0415f0"/><polygon points="593.1,480.6 590.1,478.7 591.2,476.2 594.2,478.0" fill="#12059d"/><polygon points="469.6,447.8 466.8,446.9 468.3,446.1 471.1,447.0" fill="#031bee"/><polygon points="570.9,470.7 567.9,469.0 569.1,466.6 572.1,468.3" fill="#0a09c3"/><polygon points="596.1,482.5 593.1,480.6 594.2,478.0 597.2,479.9" fill="#140597"/><polygon points="462.4,446.7 459.6,445.9 461.1,445.3 463.9,446.1" fill="#021ded"/><polygon points="544.7,462.7 541.7,461.2 543.0,459.1 545.9,460.5" fill="#070ce0"/><polygon points="599.1,484.4 596.1,482.5 597.2,479.9 600.2,481.8" fill="#150492"/><polygon points="504.2,453.9 501.3,452.8 502.7,451.3 505.6,452.4" fill="#0512f0"/><polygon points="557.8,466.6 554.8,465.0 556.0,462.7 559.0,464.3" fill="#070ad9"/><polygon points="486.9,450.9 484.1,449.9 485.5,448.7 488.4,449.7" fill="#0416ef"/><polygon points="573.9,472.4 570.9,470.7 572.1,468.3 575.1,469.9" fill="#0a08ba"/><polygon points="602.2,486.3 599.1,484.4 600.2,481.8 603.2,483.8" fill="#17048d"/><polygon points="534.6,460.4 531.6,459.0 532.9,457.0 535.8,458.4" fill="#060ee5"/><polygon points="514.3,456.1 511.4,454.8 512.7,453.1 515.7,454.4" fill="#0510ed"/><polygon points="524.4,458.2 521.5,456.9 522.8,455.1 525.7,456.3" fill="#060fe9"/><polygon points="576.9,474.1 573.9,472.4 575.1,469.9 578.1,471.6" fill="#0b08b1"/><polygon points="479.7,449.9 476.9,448.9 478.3,447.9 481.2,448.8" fill="#0318ef"/><polygon points="560.8,468.1 557.8,466.6 559.0,464.3 562.0,465.8" fill="#0809d4"/><polygon points="547.6,464.2 544.7,462.7 545.9,460.5 548.9,462.0" fill="#070cde"/><polygon points="497.0,453.0 494.1,451.9 495.5,450.5 498.4,451.6" fill="#0413f0"/><polygon points="579.9,475.8 576.9,474.1 578.1,471.6 581.1,473.4" fill="#0d07ac"/><polygon points="472.5,448.8 469.6,447.8 471.1,447.0 474.0,447.9" fill="#031aee"/><polygon points="537.5,461.8 534.6,460.4 535.8,458.4 538.8,459.8" fill="#060de3"/><polygon points="507.1,455.2 504.2,453.9 505.6,452.4 508.5,453.6" fill="#0511ef"/><polygon points="563.8,469.8 560.8,468.1 562.0,465.8 564.9,467.4" fill="#0909cc"/><polygon points="582.9,477.6 579.9,475.8 581.1,473.4 584.1,475.1" fill="#0e07a7"/><polygon points="527.4,459.6 524.4,458.2 525.7,456.3 528.7,457.7" fill="#060ee7"/><polygon points="517.3,457.4 514.3,456.1 515.7,454.4 518.6,455.6" fill="#0510eb"/><polygon points="489.8,452.0 486.9,450.9 488.4,449.7 491.2,450.8" fill="#0415f0"/><polygon points="550.6,465.7 547.6,464.2 548.9,462.0 551.8,463.5" fill="#070bdc"/><polygon points="465.3,447.6 462.4,446.7 463.9,446.1 466.8,446.9" fill="#031ded"/><polygon points="585.9,479.4 582.9,477.6 584.1,475.1 587.1,476.9" fill="#1006a2"/><polygon points="566.7,471.4 563.8,469.8 564.9,467.4 567.9,469.0" fill="#0a09c3"/><polygon points="458.0,446.4 455.2,445.6 456.7,445.1 459.6,445.9" fill="#0224df"/><polygon points="499.9,454.2 497.0,453.0 498.4,451.6 501.3,452.8" fill="#0412f0"/><polygon points="589.0,481.2 585.9,479.4 587.1,476.9 590.1,478.7" fill="#12059d"/><polygon points="540.5,463.3 537.5,461.8 538.8,459.8 541.7,461.2" fill="#070ce0"/><polygon points="482.6,450.9 479.7,449.9 481.2,448.8 484.1,449.9" fill="#0317ef"/><polygon points="553.6,467.2 550.6,465.7 551.8,463.5 554.8,465.0" fill="#070ad9"/><polygon points="592.0,483.1 589.0,481.2 590.1,478.7 593.1,480.6" fill="#140598"/><polygon points="510.1,456.4 507.1,455.2 508.5,453.6 511.4,454.8" fill="#0511ed"/><polygon points="530.3,461.0 527.4,459.6 528.7,457.7 531.6,459.0" fill="#060ee5"/><polygon points="569.7,473.1 566.7,471.4 567.9,469.0 570.9,470.7" fill="#0a08ba"/><polygon points="520.2,458.7 517.3,457.4 518.6,455.6 521.5,456.9" fill="#050fe9"/><polygon points="595.0,484.9 592.0,483.1 593.1,480.6 596.1,482.5" fill="#150492"/><polygon points="475.4,449.8 472.5,448.8 474.0,447.9 476.9,448.9" fill="#031aee"/><polygon points="598.0,486.8 595.0,484.9 596.1,482.5 599.1,484.4" fill="#17048d"/><polygon points="492.7,453.2 489.8,452.0 491.2,450.8 494.1,451.9" fill="#0414f0"/><polygon points="601.1,488.8 598.0,486.8 599.1,484.4 602.2,486.3" fill="#190389"/><polygon points="543.4,464.8 540.5,463.3 541.7,461.2 544.7,462.7" fill="#070cde"/><polygon points="556.6,468.8 553.6,467.2 554.8,465.0 557.8,466.6" fill="#0809d4"/><polygon points="572.7,474.8 569.7,473.1 570.9,470.7 573.9,472.4" fill="#0b08b1"/><polygon points="468.1,448.6 465.3,447.6 466.8,446.9 469.6,447.8" fill="#031cee"/><polygon points="502.9,455.4 499.9,454.2 501.3,452.8 504.2,453.9" fill="#0511ef"/><polygon points="533.3,462.4 530.3,461.0 531.6,459.0 534.6,460.4" fill="#060de3"/><polygon points="575.8,476.5 572.7,474.8 573.9,472.4 576.9,474.1" fill="#0d07ac"/><polygon points="485.5,452.0 482.6,450.9 484.1,449.9 486.9,450.9" fill="#0416ef"/><polygon points="513.0,457.7 510.1,456.4 511.4,454.8 514.3,456.1" fill="#0510eb"/><polygon points="523.1,460.0 520.2,458.7 521.5,456.9 524.4,458.2" fill="#060fe7"/><polygon points="559.6,470.4 556.6,468.8 557.8,466.6 560.8,468.1" fill="#0909cb"/><polygon points="460.9,447.3 458.0,446.4 459.6,445.9 462.4,446.7" fill="#0222e4"/><polygon points="546.4,466.3 543.4,464.8 544.7,462.7 547.6,464.2" fill="#070bdc"/><polygon points="578.8,478.2 575.8,476.5 576.9,474.1 579.9,475.8" fill="#0e07a7"/><polygon points="495.6,454.3 492.7,453.2 494.1,451.9 497.0,453.0" fill="#0413f0"/><polygon points="478.3,450.8 475.4,449.8 476.9,448.9 479.7,449.9" fill="#0319ee"/><polygon points="562.6,472.1 559.6,470.4 560.8,468.1 563.8,469.8" fill="#0a09c3"/><polygon points="581.8,480.0 578.8,478.2 579.9,475.8 582.9,477.6" fill="#1006a2"/><polygon points="536.2,463.9 533.3,462.4 534.6,460.4 537.5,461.8" fill="#070ce0"/><polygon points="549.4,467.9 546.4,466.3 547.6,464.2 550.6,465.7" fill="#070ad9"/><polygon points="505.8,456.7 502.9,455.4 504.2,453.9 507.1,455.2" fill="#0511ee"/><polygon points="526.1,461.4 523.1,460.0 524.4,458.2 527.4,459.6" fill="#060ee5"/><polygon points="584.8,481.8 581.8,480.0 582.9,477.6 585.9,479.4" fill="#12059d"/><polygon points="515.9,459.0 513.0,457.7 514.3,456.1 517.3,457.4" fill="#050fe9"/><polygon points="565.6,473.7 562.6,472.1 563.8,469.8 566.7,471.4" fill="#0a08ba"/><polygon points="471.0,449.6 468.1,448.6 469.6,447.8 472.5,448.8" fill="#031bee"/><polygon points="587.8,483.6 584.8,481.8 585.9,479.4 589.0,481.2" fill="#130598"/><polygon points="488.4,453.2 485.5,452.0 486.9,450.9 489.8,452.0" fill="#0415ef"/><polygon points="539.2,465.3 536.2,463.9 537.5,461.8 540.5,463.3" fill="#070cde"/><polygon points="590.9,485.5 587.8,483.6 589.0,481.2 592.0,483.1" fill="#150493"/><polygon points="552.4,469.4 549.4,467.9 550.6,465.7 553.6,467.2" fill="#0809d4"/><polygon points="568.6,475.4 565.6,473.7 566.7,471.4 569.7,473.1" fill="#0b08b1"/><polygon points="463.7,448.2 460.9,447.3 462.4,446.7 465.3,447.6" fill="#021fea"/><polygon points="593.9,487.4 590.9,485.5 592.0,483.1 595.0,484.9" fill="#17048e"/><polygon points="498.6,455.6 495.6,454.3 497.0,453.0 499.9,454.2" fill="#0412f0"/><polygon points="529.0,462.9 526.1,461.4 527.4,459.6 530.3,461.0" fill="#060de3"/><polygon points="597.0,489.3 593.9,487.4 595.0,484.9 598.0,486.8" fill="#19038a"/><polygon points="481.2,451.9 478.3,450.8 479.7,449.9 482.6,450.9" fill="#0318ee"/><polygon points="508.7,458.0 505.8,456.7 507.1,455.2 510.1,456.4" fill="#0510ec"/><polygon points="518.9,460.4 515.9,459.0 517.3,457.4 520.2,458.7" fill="#060fe7"/><polygon points="600.0,491.2 597.0,489.3 598.0,486.8 601.1,488.8" fill="#1a0386"/><polygon points="456.4,446.8 453.6,445.9 455.2,445.6 458.0,446.4" fill="#022ad3"/><polygon points="571.6,477.1 568.6,475.4 569.7,473.1 572.7,474.8" fill="#0d07ac"/><polygon points="555.4,471.0 552.4,469.4 553.6,467.2 556.6,468.8" fill="#0909cc"/><polygon points="542.2,466.9 539.2,465.3 540.5,463.3 543.4,464.8" fill="#070bdc"/><polygon points="491.3,454.4 488.4,453.2 489.8,452.0 492.7,453.2" fill="#0414ef"/><polygon points="574.6,478.9 571.6,477.1 572.7,474.8 575.8,476.5" fill="#0e07a7"/><polygon points="473.9,450.6 471.0,449.6 472.5,448.8 475.4,449.8" fill="#031aee"/><polygon points="532.0,464.3 529.0,462.9 530.3,461.0 533.3,462.4" fill="#060ce1"/><polygon points="558.4,472.7 555.4,471.0 556.6,468.8 559.6,470.4" fill="#0a09c3"/><polygon points="501.5,456.8 498.6,455.6 499.9,454.2 502.9,455.4" fill="#0511ee"/><polygon points="577.6,480.6 574.6,478.9 575.8,476.5 578.8,478.2" fill="#1006a2"/><polygon points="545.2,468.4 542.2,466.9 543.4,464.8 546.4,466.3" fill="#070ad9"/><polygon points="521.8,461.8 518.9,460.4 520.2,458.7 523.1,460.0" fill="#060ee5"/><polygon points="511.7,459.3 508.7,458.0 510.1,456.4 513.0,457.7" fill="#0510ea"/><polygon points="466.6,449.2 463.7,448.2 465.3,447.6 468.1,448.6" fill="#031ded"/><polygon points="484.1,453.1 481.2,451.9 482.6,450.9 485.5,452.0" fill="#0417ef"/><polygon points="580.7,482.4 577.6,480.6 578.8,478.2 581.8,480.0" fill="#12069e"/><polygon points="561.4,474.3 558.4,472.7 559.6,470.4 562.6,472.1" fill="#0a08bb"/><polygon points="535.0,465.8 532.0,464.3 533.3,462.4 536.2,463.9" fill="#070cde"/><polygon points="583.7,484.2 580.7,482.4 581.8,480.0 584.8,481.8" fill="#130599"/><polygon points="459.3,447.7 456.4,446.8 458.0,446.4 460.9,447.3" fill="#0227d8"/><polygon points="548.2,470.0 545.2,468.4 546.4,466.3 549.4,467.9" fill="#0809d5"/><polygon points="494.2,455.6 491.3,454.4 492.7,453.2 495.6,454.3" fill="#0413ef"/><polygon points="564.4,476.0 561.4,474.3 562.6,472.1 565.6,473.7" fill="#0b08b2"/><polygon points="524.8,463.2 521.8,461.8 523.1,460.0 526.1,461.4" fill="#060de3"/><polygon points="586.7,486.0 583.7,484.2 584.8,481.8 587.8,483.6" fill="#150494"/><polygon points="476.8,451.7 473.9,450.6 475.4,449.8 478.3,450.8" fill="#0319ee"/><polygon points="504.4,458.1 501.5,456.8 502.9,455.4 505.8,456.7" fill="#0511ed"/><polygon points="514.6,460.7 511.7,459.3 513.0,457.7 515.9,459.0" fill="#050fe8"/><polygon points="589.8,487.9 586.7,486.0 587.8,483.6 590.9,485.5" fill="#17048f"/><polygon points="551.2,471.6 548.2,470.0 549.4,467.9 552.4,469.4" fill="#0909cd"/><polygon points="538.0,467.3 535.0,465.8 536.2,463.9 539.2,465.3" fill="#070bdc"/><polygon points="567.4,477.7 564.4,476.0 565.6,473.7 568.6,475.4" fill="#0d07ac"/><polygon points="592.8,489.7 589.8,487.9 590.9,485.5 593.9,487.4" fill="#18038a"/><polygon points="487.0,454.3 484.1,453.1 485.5,452.0 488.4,453.2" fill="#0415ef"/><polygon points="595.9,491.6 592.8,489.7 593.9,487.4 597.0,489.3" fill="#1a0387"/><polygon points="469.5,450.3 466.6,449.2 468.1,448.6 471.0,449.6" fill="#031ced"/><polygon points="598.9,493.5 595.9,491.6 597.0,489.3 600.0,491.2" fill="#1c0284"/><polygon points="527.8,464.7 524.8,463.2 526.1,461.4 529.0,462.9" fill="#060de1"/><polygon points="570.4,479.4 567.4,477.7 568.6,475.4 571.6,477.1" fill="#0e07a8"/><polygon points="497.2,456.9 494.2,455.6 495.6,454.3 498.6,455.6" fill="#0412ef"/><polygon points="554.2,473.2 551.2,471.6 552.4,469.4 555.4,471.0" fill="#0909c4"/><polygon points="517.6,462.1 514.6,460.7 515.9,459.0 518.9,460.4" fill="#060ee6"/><polygon points="507.4,459.5 504.4,458.1 505.8,456.7 508.7,458.0" fill="#0510eb"/><polygon points="540.9,468.9 538.0,467.3 539.2,465.3 542.2,466.9" fill="#070ada"/><polygon points="462.2,448.7 459.3,447.7 460.9,447.3 463.7,448.2" fill="#0224df"/><polygon points="573.4,481.2 570.4,479.4 571.6,477.1 574.6,478.9" fill="#1006a3"/><polygon points="479.7,452.9 476.8,451.7 478.3,450.8 481.2,451.9" fill="#0318ee"/><polygon points="557.2,474.8 554.2,473.2 555.4,471.0 558.4,472.7" fill="#0a08bc"/><polygon points="530.7,466.2 527.8,464.7 529.0,462.9 532.0,464.3" fill="#070cdf"/><polygon points="576.5,482.9 573.4,481.2 574.6,478.9 577.6,480.6" fill="#11069e"/><polygon points="454.8,447.1 452.0,446.2 453.6,445.9 456.4,446.8" fill="#0130c5"/><polygon points="489.9,455.5 487.0,454.3 488.4,453.2 491.3,454.4" fill="#0414ef"/><polygon points="543.9,470.4 540.9,468.9 542.2,466.9 545.2,468.4" fill="#0809d6"/><polygon points="520.5,463.5 517.6,462.1 518.9,460.4 521.8,461.8" fill="#060ee4"/><polygon points="579.5,484.7 576.5,482.9 577.6,480.6 580.7,482.4" fill="#130599"/><polygon points="472.4,451.4 469.5,450.3 471.0,449.6 473.9,450.6" fill="#031bed"/><polygon points="500.1,458.2 497.2,456.9 498.6,455.6 501.5,456.8" fill="#0511ee"/><polygon points="560.2,476.5 557.2,474.8 558.4,472.7 561.4,474.3" fill="#0b08b3"/><polygon points="510.3,460.9 507.4,459.5 508.7,458.0 511.7,459.3" fill="#050fe9"/><polygon points="582.5,486.5 579.5,484.7 580.7,482.4 583.7,484.2" fill="#150494"/><polygon points="533.7,467.7 530.7,466.2 532.0,464.3 535.0,465.8" fill="#070bdc"/><polygon points="546.9,472.0 543.9,470.4 545.2,468.4 548.2,470.0" fill="#0809ce"/><polygon points="482.6,454.1 479.7,452.9 481.2,451.9 484.1,453.1" fill="#0417ee"/><polygon points="563.2,478.2 560.2,476.5 561.4,474.3 564.4,476.0" fill="#0c07ad"/><polygon points="585.6,488.4 582.5,486.5 583.7,484.2 586.7,486.0" fill="#16048f"/><polygon points="465.1,449.8 462.2,448.7 463.7,448.2 466.6,449.2" fill="#0220e6"/><polygon points="523.5,465.0 520.5,463.5 521.8,461.8 524.8,463.2" fill="#060de2"/><polygon points="588.6,490.2 585.6,488.4 586.7,486.0 589.8,487.9" fill="#18038b"/><polygon points="492.8,456.8 489.9,455.5 491.3,454.4 494.2,455.6" fill="#0413ef"/><polygon points="513.3,462.3 510.3,460.9 511.7,459.3 514.6,460.7" fill="#060fe7"/><polygon points="566.2,479.9 563.2,478.2 564.4,476.0 567.4,477.7" fill="#0e07a8"/><polygon points="591.7,492.1 588.6,490.2 589.8,487.9 592.8,489.7" fill="#1a0388"/><polygon points="549.9,473.7 546.9,472.0 548.2,470.0 551.2,471.6" fill="#0909c6"/><polygon points="503.0,459.5 500.1,458.2 501.5,456.8 504.4,458.1" fill="#0510ec"/><polygon points="536.7,469.3 533.7,467.7 535.0,465.8 538.0,467.3" fill="#070ada"/><polygon points="457.7,448.1 454.8,447.1 456.4,446.8 459.3,447.7" fill="#022dcb"/><polygon points="594.8,494.0 591.7,492.1 592.8,489.7 595.9,491.6" fill="#1b0285"/><polygon points="475.3,452.5 472.4,451.4 473.9,450.6 476.8,451.7" fill="#031aed"/><polygon points="597.8,495.9 594.8,494.0 595.9,491.6 598.9,493.5" fill="#1d0281"/><polygon points="569.2,481.7 566.2,479.9 567.4,477.7 570.4,479.4" fill="#0f06a4"/><polygon points="526.5,466.5 523.5,465.0 524.8,463.2 527.8,464.7" fill="#070cdf"/><polygon points="552.9,475.3 549.9,473.7 551.2,471.6 554.2,473.2" fill="#0a08bd"/><polygon points="485.5,455.3 482.6,454.1 484.1,453.1 487.0,454.3" fill="#0416ee"/><polygon points="539.7,470.8 536.7,469.3 538.0,467.3 540.9,468.9" fill="#070ad8"/><polygon points="572.3,483.4 569.2,481.7 570.4,479.4 573.4,481.2" fill="#11069f"/><polygon points="516.2,463.7 513.3,462.3 514.6,460.7 517.6,462.1" fill="#060ee5"/><polygon points="468.0,450.9 465.1,449.8 466.6,449.2 469.5,450.3" fill="#021dec"/><polygon points="495.8,458.1 492.8,456.8 494.2,455.6 497.2,456.9" fill="#0412ef"/><polygon points="506.0,460.9 503.0,459.5 504.4,458.1 507.4,459.5" fill="#0510ea"/><polygon points="556.0,477.0 552.9,475.3 554.2,473.2 557.2,474.8" fill="#0b08b5"/><polygon points="575.3,485.2 572.3,483.4 573.4,481.2 576.5,482.9" fill="#13059a"/><polygon points="529.4,468.0 526.5,466.5 527.8,464.7 530.7,466.2" fill="#070bdd"/><polygon points="542.7,472.5 539.7,470.8 540.9,468.9 543.9,470.4" fill="#0809d0"/><polygon points="478.2,453.7 475.3,452.5 476.8,451.7 479.7,452.9" fill="#0319ed"/><polygon points="578.4,487.0 575.3,485.2 576.5,482.9 579.5,484.7" fill="#140595"/><polygon points="460.6,449.1 457.7,448.1 459.3,447.7 462.2,448.7" fill="#022ad2"/><polygon points="559.0,478.7 556.0,477.0 557.2,474.8 560.2,476.5" fill="#0c07ae"/><polygon points="519.2,465.2 516.2,463.7 517.6,462.1 520.5,463.5" fill="#060de3"/><polygon points="581.4,488.8 578.4,487.0 579.5,484.7 582.5,486.5" fill="#160490"/><polygon points="488.5,456.6 485.5,455.3 487.0,454.3 489.9,455.5" fill="#0414ee"/><polygon points="509.0,462.3 506.0,460.9 507.4,459.5 510.3,460.9" fill="#050fe8"/><polygon points="498.7,459.5 495.8,458.1 497.2,456.9 500.1,458.2" fill="#0511ed"/><polygon points="545.7,474.1 542.7,472.5 543.9,470.4 546.9,472.0" fill="#0909c8"/><polygon points="584.5,490.7 581.4,488.8 582.5,486.5 585.6,488.4" fill="#18038c"/><polygon points="532.4,469.6 529.4,468.0 530.7,466.2 533.7,467.7" fill="#070bdb"/><polygon points="562.0,480.4 559.0,478.7 560.2,476.5 563.2,478.2" fill="#0e07a9"/><polygon points="453.2,447.3 450.3,446.3 452.0,446.2 454.8,447.1" fill="#0137b6"/><polygon points="470.9,452.0 468.0,450.9 469.5,450.3 472.4,451.4" fill="#031cec"/><polygon points="587.5,492.5 584.5,490.7 585.6,488.4 588.6,490.2" fill="#190388"/><polygon points="590.6,494.4 587.5,492.5 588.6,490.2 591.7,492.1" fill="#1b0285"/><polygon points="565.0,482.1 562.0,480.4 563.2,478.2 566.2,479.9" fill="#0f06a4"/><polygon points="522.2,466.7 519.2,465.2 520.5,463.5 523.5,465.0" fill="#060de0"/><polygon points="548.7,475.7 545.7,474.1 546.9,472.0 549.9,473.7" fill="#0a08bf"/><polygon points="481.1,454.9 478.2,453.7 479.7,452.9 482.6,454.1" fill="#0318ed"/><polygon points="593.7,496.3 590.6,494.4 591.7,492.1 594.8,494.0" fill="#1d0282"/><polygon points="535.4,471.2 532.4,469.6 533.7,467.7 536.7,469.3" fill="#070ad8"/><polygon points="511.9,463.8 509.0,462.3 510.3,460.9 513.3,462.3" fill="#060ee6"/><polygon points="596.7,498.1 593.7,496.3 594.8,494.0 597.8,495.9" fill="#1e017f"/><polygon points="463.5,450.2 460.6,449.1 462.2,448.7 465.1,449.8" fill="#0226da"/><polygon points="491.4,457.9 488.5,456.6 489.9,455.5 492.8,456.8" fill="#0413ee"/><polygon points="568.1,483.9 565.0,482.1 566.2,479.9 569.2,481.7" fill="#1106a0"/><polygon points="501.7,460.9 498.7,459.5 500.1,458.2 503.0,459.5" fill="#0510eb"/><polygon points="551.7,477.4 548.7,475.7 549.9,473.7 552.9,475.3" fill="#0b08b7"/><polygon points="525.2,468.2 522.2,466.7 523.5,465.0 526.5,466.5" fill="#070cde"/><polygon points="571.1,485.7 568.1,483.9 569.2,481.7 572.3,483.4" fill="#12059b"/><polygon points="538.4,472.8 535.4,471.2 536.7,469.3 539.7,470.8" fill="#0809d3"/><polygon points="473.8,453.2 470.9,452.0 472.4,451.4 475.3,452.5" fill="#031bed"/><polygon points="456.1,448.3 453.2,447.3 454.8,447.1 457.7,448.1" fill="#0134bd"/><polygon points="574.2,487.5 571.1,485.7 572.3,483.4 575.3,485.2" fill="#140596"/><polygon points="514.9,465.3 511.9,463.8 513.3,462.3 516.2,463.7" fill="#060ee4"/><polygon points="554.7,479.1 551.7,477.4 552.9,475.3 556.0,477.0" fill="#0c07af"/><polygon points="484.1,456.2 481.1,454.9 482.6,454.1 485.5,455.3" fill="#0416ee"/><polygon points="504.6,462.3 501.7,460.9 503.0,459.5 506.0,460.9" fill="#0510e9"/><polygon points="494.3,459.3 491.4,457.9 492.8,456.8 495.8,458.1" fill="#0412ee"/><polygon points="577.2,489.3 574.2,487.5 575.3,485.2 578.4,487.0" fill="#160492"/><polygon points="528.1,469.8 525.2,468.2 526.5,466.5 529.4,468.0" fill="#070bdc"/><polygon points="541.4,474.4 538.4,472.8 539.7,470.8 542.7,472.5" fill="#0909ca"/><polygon points="466.4,451.4 463.5,450.2 465.1,449.8 468.0,450.9" fill="#0221e3"/><polygon points="557.8,480.8 554.7,479.1 556.0,477.0 559.0,478.7" fill="#0d07aa"/><polygon points="580.3,491.1 577.2,489.3 578.4,487.0 581.4,488.8" fill="#17048d"/><polygon points="517.9,466.8 514.9,465.3 516.2,463.7 519.2,465.2" fill="#060de1"/><polygon points="583.3,492.9 580.3,491.1 581.4,488.8 584.5,490.7" fill="#190389"/><polygon points="476.7,454.5 473.8,453.2 475.3,452.5 478.2,453.7" fill="#0319ed"/><polygon points="560.8,482.6 557.8,480.8 559.0,478.7 562.0,480.4" fill="#0f06a6"/><polygon points="544.4,476.1 541.4,474.4 542.7,472.5 545.7,474.1" fill="#0a08c2"/><polygon points="531.1,471.4 528.1,469.8 529.4,468.0 532.4,469.6" fill="#070ad9"/><polygon points="507.6,463.7 504.6,462.3 506.0,460.9 509.0,462.3" fill="#050fe7"/><polygon points="586.4,494.8 583.3,492.9 584.5,490.7 587.5,492.5" fill="#1b0286"/><polygon points="487.0,457.6 484.1,456.2 485.5,455.3 488.5,456.6" fill="#0415ee"/><polygon points="459.0,449.4 456.1,448.3 457.7,448.1 460.6,449.1" fill="#0130c4"/><polygon points="497.3,460.7 494.3,459.3 495.8,458.1 498.7,459.5" fill="#0511ed"/><polygon points="589.5,496.6 586.4,494.8 587.5,492.5 590.6,494.4" fill="#1c0283"/><polygon points="563.8,484.3 560.8,482.6 562.0,480.4 565.0,482.1" fill="#1006a1"/><polygon points="592.6,498.5 589.5,496.6 590.6,494.4 593.7,496.3" fill="#1e0180"/><polygon points="547.5,477.7 544.4,476.1 545.7,474.1 548.7,475.7" fill="#0a08b9"/><polygon points="520.8,468.3 517.9,466.8 519.2,465.2 522.2,466.7" fill="#060cdf"/><polygon points="595.6,500.4 592.6,498.5 593.7,496.3 596.7,498.1" fill="#20017d"/><polygon points="469.3,452.6 466.4,451.4 468.0,450.9 470.9,452.0" fill="#021dec"/><polygon points="534.1,473.0 531.1,471.4 532.4,469.6 535.4,471.2" fill="#0809d6"/><polygon points="566.9,486.1 563.8,484.3 565.0,482.1 568.1,483.9" fill="#12059c"/><polygon points="451.6,447.4 448.7,446.4 450.3,446.3 453.2,447.3" fill="#013fa5"/><polygon points="510.6,465.2 507.6,463.7 509.0,462.3 511.9,463.8" fill="#060ee5"/><polygon points="479.6,455.8 476.7,454.5 478.2,453.7 481.1,454.9" fill="#0318ed"/><polygon points="550.5,479.4 547.5,477.7 548.7,475.7 551.7,477.4" fill="#0b08b1"/><polygon points="569.9,487.9 566.9,486.1 568.1,483.9 571.1,485.7" fill="#140598"/><polygon points="500.3,462.1 497.3,460.7 498.7,459.5 501.7,460.9" fill="#0510eb"/><polygon points="490.0,458.9 487.0,457.6 488.5,456.6 491.4,457.9" fill="#0413ee"/><polygon points="523.8,469.9 520.8,468.3 522.2,466.7 525.2,468.2" fill="#070bdd"/><polygon points="537.1,474.7 534.1,473.0 535.4,471.2 538.4,472.8" fill="#0809ce"/><polygon points="461.9,450.6 459.0,449.4 460.6,449.1 463.5,450.2" fill="#022ccd"/><polygon points="573.0,489.7 569.9,487.9 571.1,485.7 574.2,487.5" fill="#150493"/><polygon points="553.5,481.2 550.5,479.4 551.7,477.4 554.7,479.1" fill="#0d07ab"/><polygon points="513.5,466.8 510.6,465.2 511.9,463.8 514.9,465.3" fill="#060de3"/><polygon points="576.0,491.5 573.0,489.7 574.2,487.5 577.2,489.3" fill="#17048e"/><polygon points="472.3,453.8 469.3,452.6 470.9,452.0 473.8,453.2" fill="#031cec"/><polygon points="540.2,476.3 537.1,474.7 538.4,472.8 541.4,474.4" fill="#0909c5"/><polygon points="556.5,482.9 553.5,481.2 554.7,479.1 557.8,480.8" fill="#0e07a7"/><polygon points="526.8,471.5 523.8,469.9 525.2,468.2 528.1,469.8" fill="#070bda"/><polygon points="503.2,463.6 500.3,462.1 501.7,460.9 504.6,462.3" fill="#0510e9"/><polygon points="579.1,493.3 576.0,491.5 577.2,489.3 580.3,491.1" fill="#18038a"/><polygon points="482.6,457.1 479.6,455.8 481.1,454.9 484.1,456.2" fill="#0417ed"/><polygon points="454.5,448.5 451.6,447.4 453.2,447.3 456.1,448.3" fill="#013cac"/><polygon points="492.9,460.4 490.0,458.9 491.4,457.9 494.3,459.3" fill="#0412ee"/><polygon points="582.2,495.2 579.1,493.3 580.3,491.1 583.3,492.9" fill="#1a0387"/><polygon points="559.6,484.7 556.5,482.9 557.8,480.8 560.8,482.6" fill="#1006a2"/><polygon points="543.2,478.0 540.2,476.3 541.4,474.4 544.4,476.1" fill="#0a08bd"/><polygon points="516.5,468.3 513.5,466.8 514.9,465.3 517.9,466.8" fill="#060de0"/><polygon points="585.3,497.0 582.2,495.2 583.3,492.9 586.4,494.8" fill="#1c0284"/><polygon points="464.9,451.8 461.9,450.6 463.5,450.2 466.4,451.4" fill="#0227d7"/><polygon points="529.8,473.2 526.8,471.5 528.1,469.8 531.1,471.4" fill="#070ad8"/><polygon points="588.3,498.9 585.3,497.0 586.4,494.8 589.5,496.6" fill="#1d0281"/><polygon points="562.6,486.4 559.6,484.7 560.8,482.6 563.8,484.3" fill="#11069e"/><polygon points="506.2,465.1 503.2,463.6 504.6,462.3 507.6,463.7" fill="#050fe6"/><polygon points="591.4,500.7 588.3,498.9 589.5,496.6 592.6,498.5" fill="#1f017e"/><polygon points="475.2,455.1 472.3,453.8 473.8,453.2 476.7,454.5" fill="#031aec"/><polygon points="546.2,479.7 543.2,478.0 544.4,476.1 547.5,477.7" fill="#0b08b4"/><polygon points="495.9,461.8 492.9,460.4 494.3,459.3 497.3,460.7" fill="#0511ec"/><polygon points="594.5,502.6 591.4,500.7 592.6,498.5 595.6,500.4" fill="#21007b"/><polygon points="485.5,458.5 482.6,457.1 484.1,456.2 487.0,457.6" fill="#0415ed"/><polygon points="565.7,488.2 562.6,486.4 563.8,484.3 566.9,486.1" fill="#130599"/><polygon points="519.5,469.9 516.5,468.3 517.9,466.8 520.8,468.3" fill="#070cde"/><polygon points="532.9,474.8 529.8,473.2 531.1,471.4 534.1,473.0" fill="#0809d2"/><polygon points="457.4,449.6 454.5,448.5 456.1,448.3 459.0,449.4" fill="#0137b5"/><polygon points="549.2,481.4 546.2,479.7 547.5,477.7 550.5,479.4" fill="#0c07ad"/><polygon points="568.7,490.0 565.7,488.2 566.9,486.1 569.9,487.9" fill="#150494"/><polygon points="509.2,466.6 506.2,465.1 507.6,463.7 510.6,465.2" fill="#060ee4"/><polygon points="467.8,453.0 464.9,451.8 466.4,451.4 469.3,452.6" fill="#0222e1"/><polygon points="571.8,491.8 568.7,490.0 569.9,487.9 573.0,489.7" fill="#16048f"/><polygon points="535.9,476.5 532.9,474.8 534.1,473.0 537.1,474.7" fill="#0909c9"/><polygon points="522.5,471.5 519.5,469.9 520.8,468.3 523.8,469.9" fill="#070bdb"/><polygon points="498.8,463.3 495.9,461.8 497.3,460.7 500.3,462.1" fill="#0510ea"/><polygon points="552.3,483.2 549.2,481.4 550.5,479.4 553.5,481.2" fill="#0e07a8"/><polygon points="478.1,456.5 475.2,455.1 476.7,454.5 479.6,455.8" fill="#0319ec"/><polygon points="449.9,447.4 447.0,446.3 448.7,446.4 451.6,447.4" fill="#004892"/><polygon points="488.5,459.9 485.5,458.5 487.0,457.6 490.0,458.9" fill="#0414ed"/><polygon points="574.9,493.7 571.8,491.8 573.0,489.7 576.0,491.5" fill="#18038b"/><polygon points="555.3,485.0 552.3,483.2 553.5,481.2 556.5,482.9" fill="#0f06a4"/><polygon points="578.0,495.5 574.9,493.7 576.0,491.5 579.1,493.3" fill="#1a0388"/><polygon points="512.2,468.2 509.2,466.6 510.6,465.2 513.5,466.8" fill="#060de2"/><polygon points="538.9,478.2 535.9,476.5 537.1,474.7 540.2,476.3" fill="#0a08c1"/><polygon points="460.3,450.8 457.4,449.6 459.0,449.4 461.9,450.6" fill="#0133be"/><polygon points="525.5,473.2 522.5,471.5 523.8,469.9 526.8,471.5" fill="#070ad9"/><polygon points="581.0,497.4 578.0,495.5 579.1,493.3 582.2,495.2" fill="#1b0285"/><polygon points="501.8,464.8 498.8,463.3 500.3,462.1 503.2,463.6" fill="#050fe8"/><polygon points="558.4,486.7 555.3,485.0 556.5,482.9 559.6,484.7" fill="#11069f"/><polygon points="584.1,499.2 581.0,497.4 582.2,495.2 585.3,497.0" fill="#1d0282"/><polygon points="470.7,454.3 467.8,453.0 469.3,452.6 472.3,453.8" fill="#021deb"/><polygon points="541.9,479.9 538.9,478.2 540.2,476.3 543.2,478.0" fill="#0b08b8"/><polygon points="491.5,461.4 488.5,459.9 490.0,458.9 492.9,460.4" fill="#0412ed"/><polygon points="481.1,457.9 478.1,456.5 479.6,455.8 482.6,457.1" fill="#0318ec"/><polygon points="587.2,501.1 584.1,499.2 585.3,497.0 588.3,498.9" fill="#1f017f"/><polygon points="515.2,469.8 512.2,468.2 513.5,466.8 516.5,468.3" fill="#060ddf"/><polygon points="561.4,488.5 558.4,486.7 559.6,484.7 562.6,486.4" fill="#12059b"/><polygon points="528.5,474.9 525.5,473.2 526.8,471.5 529.8,473.2" fill="#0709d6"/><polygon points="590.3,502.9 587.2,501.1 588.3,498.9 591.4,500.7" fill="#20017c"/><polygon points="452.9,448.5 449.9,447.4 451.6,447.4 454.5,448.5" fill="#00449a"/><polygon points="593.4,504.8 590.3,502.9 591.4,500.7 594.5,502.6" fill="#220079"/><polygon points="545.0,481.6 541.9,479.9 543.2,478.0 546.2,479.7" fill="#0b08af"/><polygon points="564.5,490.3 561.4,488.5 562.6,486.4 565.7,488.2" fill="#140596"/><polygon points="504.8,466.4 501.8,464.8 503.2,463.6 506.2,465.1" fill="#050fe6"/><polygon points="463.3,452.1 460.3,450.8 461.9,450.6 464.9,451.8" fill="#022ec8"/><polygon points="531.6,476.6 528.5,474.9 529.8,473.2 532.9,474.8" fill="#0809ce"/><polygon points="518.2,471.5 515.2,469.8 516.5,468.3 519.5,469.9" fill="#070cdd"/><polygon points="494.4,462.9 491.5,461.4 492.9,460.4 495.9,461.8" fill="#0511ec"/><polygon points="567.6,492.2 564.5,490.3 565.7,488.2 568.7,490.0" fill="#160491"/><polygon points="548.0,483.4 545.0,481.6 546.2,479.7 549.2,481.4" fill="#0d07aa"/><polygon points="473.7,455.7 470.7,454.3 472.3,453.8 475.2,455.1" fill="#031ceb"/><polygon points="484.1,459.3 481.1,457.9 482.6,457.1 485.5,458.5" fill="#0416ec"/><polygon points="570.6,494.0 567.6,492.2 568.7,490.0 571.8,491.8" fill="#17048c"/><polygon points="507.8,468.0 504.8,466.4 506.2,465.1 509.2,466.6" fill="#060ee3"/><polygon points="534.6,478.3 531.6,476.6 532.9,474.8 535.9,476.5" fill="#0909c5"/><polygon points="551.0,485.2 548.0,483.4 549.2,481.4 552.3,483.2" fill="#0f06a6"/><polygon points="573.7,495.8 570.6,494.0 571.8,491.8 574.9,493.7" fill="#190389"/><polygon points="521.2,473.1 518.2,471.5 519.5,469.9 522.5,471.5" fill="#070bda"/><polygon points="455.8,449.7 452.9,448.5 454.5,448.5 457.4,449.6" fill="#0140a4"/><polygon points="497.4,464.4 494.4,462.9 495.9,461.8 498.8,463.3" fill="#0510ea"/><polygon points="576.8,497.7 573.7,495.8 574.9,493.7 578.0,495.5" fill="#1b0286"/><polygon points="554.1,487.0 551.0,485.2 552.3,483.2 555.3,485.0" fill="#1006a1"/><polygon points="466.2,453.4 463.3,452.1 464.9,451.8 467.8,453.0" fill="#0228d3"/><polygon points="537.6,480.0 534.6,478.3 535.9,476.5 538.9,478.2" fill="#0a08bc"/><polygon points="487.0,460.8 484.1,459.3 485.5,458.5 488.5,459.9" fill="#0414ed"/><polygon points="476.6,457.1 473.7,455.7 475.2,455.1 478.1,456.5" fill="#031aec"/><polygon points="579.9,499.5 576.8,497.7 578.0,495.5 581.0,497.4" fill="#1c0283"/><polygon points="510.8,469.6 507.8,468.0 509.2,466.6 512.2,468.2" fill="#060de1"/><polygon points="524.2,474.8 521.2,473.1 522.5,471.5 525.5,473.2" fill="#070ad8"/><polygon points="557.2,488.8 554.1,487.0 555.3,485.0 558.4,486.7" fill="#12059c"/><polygon points="583.0,501.4 579.9,499.5 581.0,497.4 584.1,499.2" fill="#1e0180"/><polygon points="448.3,447.2 445.4,446.1 447.0,446.3 449.9,447.4" fill="#00527e"/><polygon points="540.7,481.8 537.6,480.0 538.9,478.2 541.9,479.9" fill="#0b08b3"/><polygon points="586.1,503.2 583.0,501.4 584.1,499.2 587.2,501.1" fill="#20017d"/><polygon points="500.4,466.0 497.4,464.4 498.8,463.3 501.8,464.8" fill="#0510e8"/><polygon points="560.2,490.6 557.2,488.8 558.4,486.7 561.4,488.5" fill="#130598"/><polygon points="589.2,505.1 586.1,503.2 587.2,501.1 590.3,502.9" fill="#21007a"/><polygon points="458.7,451.0 455.8,449.7 457.4,449.6 460.3,450.8" fill="#013bae"/><polygon points="527.2,476.5 524.2,474.8 525.5,473.2 528.5,474.9" fill="#0809d3"/><polygon points="592.3,507.0 589.2,505.1 590.3,502.9 593.4,504.8" fill="#230077"/><polygon points="513.8,471.3 510.8,469.6 512.2,468.2 515.2,469.8" fill="#060cdf"/><polygon points="490.0,462.3 487.0,460.8 488.5,459.9 491.5,461.4" fill="#0413ed"/><polygon points="469.2,454.8 466.2,453.4 467.8,453.0 470.7,454.3" fill="#0223df"/><polygon points="543.7,483.5 540.7,481.8 541.9,479.9 545.0,481.6" fill="#0c07ac"/><polygon points="563.3,492.4 560.2,490.6 561.4,488.5 564.5,490.3" fill="#150493"/><polygon points="479.6,458.5 476.6,457.1 478.1,456.5 481.1,457.9" fill="#0319ec"/><polygon points="566.4,494.2 563.3,492.4 564.5,490.3 567.6,492.2" fill="#17048e"/><polygon points="503.4,467.6 500.4,466.0 501.8,464.8 504.8,466.4" fill="#050fe5"/><polygon points="530.3,478.2 527.2,476.5 528.5,474.9 531.6,476.6" fill="#0909ca"/><polygon points="546.7,485.3 543.7,483.5 545.0,481.6 548.0,483.4" fill="#0e07a8"/><polygon points="516.8,472.9 513.8,471.3 515.2,469.8 518.2,471.5" fill="#070cdc"/><polygon points="451.2,448.4 448.3,447.2 449.9,447.4 452.9,448.5" fill="#004d87"/><polygon points="569.5,496.1 566.4,494.2 567.6,492.2 570.6,494.0" fill="#18038a"/><polygon points="493.0,463.9 490.0,462.3 491.5,461.4 494.4,462.9" fill="#0411ec"/><polygon points="549.8,487.1 546.7,485.3 548.0,483.4 551.0,485.2" fill="#0f06a3"/><polygon points="461.7,452.3 458.7,451.0 460.3,450.8 463.3,452.1" fill="#0135b9"/><polygon points="572.5,497.9 569.5,496.1 570.6,494.0 573.7,495.8" fill="#1a0387"/><polygon points="533.3,480.0 530.3,478.2 531.6,476.6 534.6,478.3" fill="#0a08c2"/><polygon points="482.6,460.0 479.6,458.5 481.1,457.9 484.1,459.3" fill="#0317ec"/><polygon points="472.1,456.2 469.2,454.8 470.7,454.3 473.7,455.7" fill="#021deb"/><polygon points="506.4,469.2 503.4,467.6 504.8,466.4 507.8,468.0" fill="#060ee3"/><polygon points="519.8,474.6 516.8,472.9 518.2,471.5 521.2,473.1" fill="#070bd9"/><polygon points="575.6,499.8 572.5,497.9 573.7,495.8 576.8,497.7" fill="#1c0284"/><polygon points="552.9,488.9 549.8,487.1 551.0,485.2 554.1,487.0" fill="#11069e"/><polygon points="578.7,501.7 575.6,499.8 576.8,497.7 579.9,499.5" fill="#1d0281"/><polygon points="536.3,481.8 533.3,480.0 534.6,478.3 537.6,480.0" fill="#0a08b9"/><polygon points="496.0,465.4 493.0,463.9 494.4,462.9 497.4,464.4" fill="#0510ea"/><polygon points="581.8,503.5 578.7,501.7 579.9,499.5 583.0,501.4" fill="#1f017e"/><polygon points="555.9,490.8 552.9,488.9 554.1,487.0 557.2,488.8" fill="#13059a"/><polygon points="454.1,449.7 451.2,448.4 452.9,448.5 455.8,449.7" fill="#004991"/><polygon points="522.9,476.4 519.8,474.6 521.2,473.1 524.2,474.8" fill="#070ad7"/><polygon points="509.4,470.9 506.4,469.2 507.8,468.0 510.8,469.6" fill="#060de1"/><polygon points="585.0,505.4 581.8,503.5 583.0,501.4 586.1,503.2" fill="#21007b"/><polygon points="485.6,461.6 482.6,460.0 484.1,459.3 487.0,460.8" fill="#0415ec"/><polygon points="539.4,483.6 536.3,481.8 537.6,480.0 540.7,481.8" fill="#0b08af"/><polygon points="464.6,453.6 461.7,452.3 463.3,452.1 466.2,453.4" fill="#012fc4"/><polygon points="475.1,457.6 472.1,456.2 473.7,455.7 476.6,457.1" fill="#031beb"/><polygon points="559.0,492.6 555.9,490.8 557.2,488.8 560.2,490.6" fill="#140595"/><polygon points="588.1,507.3 585.0,505.4 586.1,503.2 589.2,505.1" fill="#220078"/><polygon points="591.2,509.1 588.1,507.3 589.2,505.1 592.3,507.0" fill="#240075"/><polygon points="499.0,467.1 496.0,465.4 497.4,464.4 500.4,466.0" fill="#0510e8"/><polygon points="562.1,494.5 559.0,492.6 560.2,490.6 563.3,492.4" fill="#160490"/><polygon points="525.9,478.1 522.9,476.4 524.2,474.8 527.2,476.5" fill="#0809d1"/><polygon points="542.4,485.4 539.4,483.6 540.7,481.8 543.7,483.5" fill="#0d07aa"/><polygon points="512.4,472.6 509.4,470.9 510.8,469.6 513.8,471.3" fill="#060cde"/><polygon points="446.6,447.0 443.6,445.8 445.4,446.1 448.3,447.2" fill="#025a6d"/><polygon points="565.2,496.3 562.1,494.5 563.3,492.4 566.4,494.2" fill="#18038b"/><polygon points="488.5,463.1 485.6,461.6 487.0,460.8 490.0,462.3" fill="#0413ec"/><polygon points="545.5,487.2 542.4,485.4 543.7,483.5 546.7,485.3" fill="#0e06a6"/><polygon points="457.1,451.0 454.1,449.7 455.8,449.7 458.7,451.0" fill="#00439c"/><polygon points="528.9,479.9 525.9,478.1 527.2,476.5 530.3,478.2" fill="#0909c8"/><polygon points="478.1,459.1 475.1,457.6 476.6,457.1 479.6,458.5" fill="#031aeb"/><polygon points="568.3,498.2 565.2,496.3 566.4,494.2 569.5,496.1" fill="#190388"/><polygon points="467.6,455.1 464.6,453.6 466.2,453.4 469.2,454.8" fill="#0229d1"/><polygon points="502.0,468.7 499.0,467.1 500.4,466.0 503.4,467.6" fill="#050fe5"/><polygon points="515.5,474.3 512.4,472.6 513.8,471.3 516.8,472.9" fill="#070bdb"/><polygon points="571.4,500.0 568.3,498.2 569.5,496.1 572.5,497.9" fill="#1b0285"/><polygon points="548.6,489.0 545.5,487.2 546.7,485.3 549.8,487.1" fill="#1006a1"/><polygon points="532.0,481.7 528.9,479.9 530.3,478.2 533.3,480.0" fill="#0a08bf"/><polygon points="574.5,501.9 571.4,500.0 572.5,497.9 575.6,499.8" fill="#1c0282"/><polygon points="491.5,464.8 488.5,463.1 490.0,462.3 493.0,463.9" fill="#0412ec"/><polygon points="551.6,490.9 548.6,489.0 549.8,487.1 552.9,488.9" fill="#12059c"/><polygon points="577.6,503.8 574.5,501.9 575.6,499.8 578.7,501.7" fill="#1e017f"/><polygon points="518.5,476.1 515.5,474.3 516.8,472.9 519.8,474.6" fill="#070bd9"/><polygon points="449.5,448.2 446.6,447.0 448.3,447.2 451.2,448.4" fill="#005773"/><polygon points="505.0,470.4 502.0,468.7 503.4,467.6 506.4,469.2" fill="#060ee3"/><polygon points="481.1,460.7 478.1,459.1 479.6,458.5 482.6,460.0" fill="#0318eb"/><polygon points="535.0,483.5 532.0,481.7 533.3,480.0 536.3,481.8" fill="#0b08b5"/><polygon points="580.7,505.6 577.6,503.8 578.7,501.7 581.8,503.5" fill="#20017c"/><polygon points="460.1,452.4 457.1,451.0 458.7,451.0 461.7,452.3" fill="#013da7"/><polygon points="470.6,456.5 467.6,455.1 469.2,454.8 472.1,456.2" fill="#0223de"/><polygon points="554.7,492.7 551.6,490.9 552.9,488.9 555.9,490.8" fill="#130597"/><polygon points="583.8,507.5 580.7,505.6 581.8,503.5 585.0,505.4" fill="#210079"/><polygon points="494.5,466.4 491.5,464.8 493.0,463.9 496.0,465.4" fill="#0511ea"/><polygon points="521.5,477.9 518.5,476.1 519.8,474.6 522.9,476.4" fill="#070ad6"/><polygon points="586.9,509.4 583.8,507.5 585.0,505.4 588.1,507.3" fill="#230076"/><polygon points="557.8,494.6 554.7,492.7 555.9,490.8 559.0,492.6" fill="#150492"/><polygon points="538.1,485.3 535.0,483.5 536.3,481.8 539.4,483.6" fill="#0c07ad"/><polygon points="508.0,472.2 505.0,470.4 506.4,469.2 509.4,470.9" fill="#060de0"/><polygon points="590.1,511.2 586.9,509.4 588.1,507.3 591.2,509.1" fill="#240074"/><polygon points="484.1,462.3 481.1,460.7 482.6,460.0 485.6,461.6" fill="#0416eb"/><polygon points="560.9,496.5 557.8,494.6 559.0,492.6 562.1,494.5" fill="#17048e"/><polygon points="541.2,487.2 538.1,485.3 539.4,483.6 542.4,485.4" fill="#0d07a8"/><polygon points="524.6,479.7 521.5,477.9 522.9,476.4 525.9,478.1" fill="#0809cf"/><polygon points="452.5,449.5 449.5,448.2 451.2,448.4 454.1,449.7" fill="#00527d"/><polygon points="473.6,458.1 470.6,456.5 472.1,456.2 475.1,457.6" fill="#021dea"/><polygon points="564.0,498.3 560.9,496.5 562.1,494.5 565.2,496.3" fill="#18038a"/><polygon points="463.0,453.8 460.1,452.4 461.7,452.3 464.6,453.6" fill="#0137b4"/><polygon points="497.6,468.1 494.5,466.4 496.0,465.4 499.0,467.1" fill="#0510e8"/><polygon points="511.1,473.9 508.0,472.2 509.4,470.9 512.4,472.6" fill="#060cde"/><polygon points="544.2,489.0 541.2,487.2 542.4,485.4 545.5,487.2" fill="#0f06a4"/><polygon points="567.1,500.2 564.0,498.3 565.2,496.3 568.3,498.2" fill="#1a0387"/><polygon points="527.6,481.5 524.6,479.7 525.9,478.1 528.9,479.9" fill="#0909c5"/><polygon points="487.1,463.9 484.1,462.3 485.6,461.6 488.5,463.1" fill="#0414eb"/><polygon points="570.2,502.1 567.1,500.2 568.3,498.2 571.4,500.0" fill="#1c0284"/><polygon points="547.3,490.9 544.2,489.0 545.5,487.2 548.6,489.0" fill="#11069f"/><polygon points="514.1,475.7 511.1,473.9 512.4,472.6 515.5,474.3" fill="#070bdb"/><polygon points="444.9,446.6 441.9,445.3 443.6,445.8 446.6,447.0" fill="#06605e"/><polygon points="500.6,469.8 497.6,468.1 499.0,467.1 502.0,468.7" fill="#050fe5"/><polygon points="573.3,504.0 570.2,502.1 571.4,500.0 574.5,501.9" fill="#1d0281"/><polygon points="476.5,459.6 473.6,458.1 475.1,457.6 478.1,459.1" fill="#031bea"/><polygon points="530.7,483.3 527.6,481.5 528.9,479.9 532.0,481.7" fill="#0a08bc"/><polygon points="455.4,450.9 452.5,449.5 454.1,449.7 457.1,451.0" fill="#004d88"/><polygon points="466.0,455.3 463.0,453.8 464.6,453.6 467.6,455.1" fill="#0131c1"/><polygon points="550.4,492.8 547.3,490.9 548.6,489.0 551.6,490.9" fill="#12059a"/><polygon points="576.4,505.9 573.3,504.0 574.5,501.9 577.6,503.8" fill="#1f017e"/><polygon points="579.5,507.7 576.4,505.9 577.6,503.8 580.7,505.6" fill="#21007b"/><polygon points="490.1,465.6 487.1,463.9 488.5,463.1 491.5,464.8" fill="#0412ec"/><polygon points="517.1,477.5 514.1,475.7 515.5,474.3 518.5,476.1" fill="#070ad8"/><polygon points="533.7,485.2 530.7,483.3 532.0,481.7 535.0,483.5" fill="#0b08b3"/><polygon points="553.5,494.6 550.4,492.8 551.6,490.9 554.7,492.7" fill="#140595"/><polygon points="582.7,509.6 579.5,507.7 580.7,505.6 583.8,507.5" fill="#220077"/><polygon points="503.6,471.6 500.6,469.8 502.0,468.7 505.0,470.4" fill="#060ee3"/><polygon points="585.8,511.5 582.7,509.6 583.8,507.5 586.9,509.4" fill="#240075"/><polygon points="479.5,461.2 476.5,459.6 478.1,459.1 481.1,460.7" fill="#0319eb"/><polygon points="556.6,496.5 553.5,494.6 554.7,492.7 557.8,494.6" fill="#160490"/><polygon points="589.0,513.3 585.8,511.5 586.9,509.4 590.1,511.2" fill="#240073"/><polygon points="536.8,487.0 533.7,485.2 535.0,483.5 538.1,485.3" fill="#0c07ab"/><polygon points="520.2,479.3 517.1,477.5 518.5,476.1 521.5,477.9" fill="#070ad5"/><polygon points="447.8,447.9 444.9,446.6 446.6,447.0 449.5,448.2" fill="#045d65"/><polygon points="469.0,456.8 466.0,455.3 467.6,455.1 470.6,456.5" fill="#022acf"/><polygon points="559.6,498.4 556.6,496.5 557.8,494.6 560.9,496.5" fill="#17048b"/><polygon points="458.4,452.4 455.4,450.9 457.1,451.0 460.1,452.4" fill="#004695"/><polygon points="493.1,467.3 490.1,465.6 491.5,464.8 494.5,466.4" fill="#0511eb"/><polygon points="506.6,473.3 503.6,471.6 505.0,470.4 508.0,472.2" fill="#060de0"/><polygon points="539.9,488.9 536.8,487.0 538.1,485.3 541.2,487.2" fill="#0e07a7"/><polygon points="562.8,500.3 559.6,498.4 560.9,496.5 564.0,498.3" fill="#190388"/><polygon points="523.2,481.2 520.2,479.3 521.5,477.9 524.6,479.7" fill="#0809cd"/><polygon points="482.6,462.9 479.5,461.2 481.1,460.7 484.1,462.3" fill="#0317eb"/><polygon points="565.9,502.2 562.8,500.3 564.0,498.3 567.1,500.2" fill="#1b0285"/><polygon points="542.9,490.8 539.9,488.9 541.2,487.2 544.2,489.0" fill="#1006a2"/><polygon points="509.7,475.1 506.6,473.3 508.0,472.2 511.1,473.9" fill="#060cdd"/><polygon points="496.1,469.0 493.1,467.3 494.5,466.4 497.6,468.1" fill="#0510e8"/><polygon points="569.0,504.1 565.9,502.2 567.1,500.2 570.2,502.1" fill="#1c0282"/><polygon points="472.0,458.4 469.0,456.8 470.6,456.5 473.6,458.1" fill="#0223de"/><polygon points="526.3,483.0 523.2,481.2 524.6,479.7 527.6,481.5" fill="#0909c4"/><polygon points="450.8,449.3 447.8,447.9 449.5,448.2 452.5,449.5" fill="#025a6c"/><polygon points="461.4,453.9 458.4,452.4 460.1,452.4 463.0,453.8" fill="#0140a2"/><polygon points="546.0,492.7 542.9,490.8 544.2,489.0 547.3,490.9" fill="#11069d"/><polygon points="572.1,506.0 569.0,504.1 570.2,502.1 573.3,504.0" fill="#1e017f"/><polygon points="512.7,477.0 509.7,475.1 511.1,473.9 514.1,475.7" fill="#070bdb"/><polygon points="575.2,507.9 572.1,506.0 573.3,504.0 576.4,505.9" fill="#20017c"/><polygon points="485.6,464.6 482.6,462.9 484.1,462.3 487.1,463.9" fill="#0415eb"/><polygon points="529.4,484.9 526.3,483.0 527.6,481.5 530.7,483.3" fill="#0a08ba"/><polygon points="549.1,494.6 546.0,492.7 547.3,490.9 550.4,492.8" fill="#130598"/><polygon points="499.1,470.8 496.1,469.0 497.6,468.1 500.6,469.8" fill="#050fe6"/><polygon points="578.4,509.8 575.2,507.9 576.4,505.9 579.5,507.7" fill="#220079"/><polygon points="581.5,511.7 578.4,509.8 579.5,507.7 582.7,509.6" fill="#230076"/><polygon points="552.2,496.5 549.1,494.6 550.4,492.8 553.5,494.6" fill="#150493"/><polygon points="475.0,460.0 472.0,458.4 473.6,458.1 476.5,459.6" fill="#021cea"/><polygon points="532.4,486.8 529.4,484.9 530.7,483.3 533.7,485.2" fill="#0b08b0"/><polygon points="515.8,478.8 512.7,477.0 514.1,475.7 517.1,477.5" fill="#070ad8"/><polygon points="584.7,513.6 581.5,511.7 582.7,509.6 585.8,511.5" fill="#240074"/><polygon points="443.1,446.1 440.2,444.8 441.9,445.3 444.9,446.6" fill="#0a674f"/><polygon points="464.4,455.4 461.4,453.9 463.0,453.8 466.0,455.3" fill="#0139b0"/><polygon points="555.3,498.4 552.2,496.5 553.5,494.6 556.6,496.5" fill="#16048e"/><polygon points="453.8,450.7 450.8,449.3 452.5,449.5 455.4,450.9" fill="#005773"/><polygon points="488.6,466.3 485.6,464.6 487.1,463.9 490.1,465.6" fill="#0413eb"/><polygon points="587.8,515.4 584.7,513.6 585.8,511.5 589.0,513.3" fill="#250073"/><polygon points="502.2,472.6 499.1,470.8 500.6,469.8 503.6,471.6" fill="#060ee3"/><polygon points="535.5,488.7 532.4,486.8 533.7,485.2 536.8,487.0" fill="#0d07aa"/><polygon points="558.4,500.4 555.3,498.4 556.6,496.5 559.6,498.4" fill="#18038a"/><polygon points="518.8,480.7 515.8,478.8 517.1,477.5 520.2,479.3" fill="#070ad5"/><polygon points="478.0,461.7 475.0,460.0 476.5,459.6 479.5,461.2" fill="#031aea"/><polygon points="561.5,502.3 558.4,500.4 559.6,498.4 562.8,500.3" fill="#1a0387"/><polygon points="538.6,490.6 535.5,488.7 536.8,487.0 539.9,488.9" fill="#0e06a5"/><polygon points="505.2,474.4 502.2,472.6 503.6,471.6 506.6,473.3" fill="#060de0"/><polygon points="491.6,468.1 488.6,466.3 490.1,465.6 493.1,467.3" fill="#0411eb"/><polygon points="564.7,504.2 561.5,502.3 562.8,500.3 565.9,502.2" fill="#1c0284"/><polygon points="521.9,482.6 518.8,480.7 520.2,479.3 523.2,481.2" fill="#0809cc"/><polygon points="467.4,457.0 464.4,455.4 466.0,455.3 469.0,456.8" fill="#0132bf"/><polygon points="541.7,492.5 538.6,490.6 539.9,488.9 542.9,490.8" fill="#1006a0"/><polygon points="446.1,447.5 443.1,446.1 444.9,446.6 447.8,447.9" fill="#086456"/><polygon points="456.8,452.2 453.8,450.7 455.4,450.9 458.4,452.4" fill="#005080"/><polygon points="567.8,506.1 564.7,504.2 565.9,502.2 569.0,504.1" fill="#1d0281"/><polygon points="508.3,476.3 505.2,474.4 506.6,473.3 509.7,475.1" fill="#060cdd"/><polygon points="481.0,463.4 478.0,461.7 479.5,461.2 482.6,462.9" fill="#0319ea"/><polygon points="570.9,508.0 567.8,506.1 569.0,504.1 572.1,506.0" fill="#1f017e"/><polygon points="524.9,484.5 521.9,482.6 523.2,481.2 526.3,483.0" fill="#0908c2"/><polygon points="544.8,494.5 541.7,492.5 542.9,490.8 546.0,492.7" fill="#12059b"/><polygon points="494.7,469.9 491.6,468.1 493.1,467.3 496.1,469.0" fill="#0510e9"/><polygon points="574.1,509.9 570.9,508.0 572.1,506.0 575.2,507.9" fill="#21007a"/><polygon points="547.9,496.4 544.8,494.5 546.0,492.7 549.1,494.6" fill="#130596"/><polygon points="470.4,458.7 467.4,457.0 469.0,456.8 472.0,458.4" fill="#022ace"/><polygon points="577.2,511.8 574.1,509.9 575.2,507.9 578.4,509.8" fill="#220077"/><polygon points="528.0,486.4 524.9,484.5 526.3,483.0 529.4,484.9" fill="#0a08b8"/><polygon points="511.3,478.2 508.3,476.3 509.7,475.1 512.7,477.0" fill="#070bda"/><polygon points="580.4,513.7 577.2,511.8 578.4,509.8 581.5,511.7" fill="#240075"/><polygon points="459.8,453.8 456.8,452.2 458.4,452.4 461.4,453.9" fill="#00498e"/><polygon points="551.0,498.4 547.9,496.4 549.1,494.6 552.2,496.5" fill="#150491"/><polygon points="484.1,465.2 481.0,463.4 482.6,462.9 485.6,464.6" fill="#0316ea"/><polygon points="449.1,448.9 446.1,447.5 447.8,447.9 450.8,449.3" fill="#06605d"/><polygon points="497.7,471.7 494.7,469.9 496.1,469.0 499.1,470.8" fill="#050fe6"/><polygon points="583.5,515.6 580.4,513.7 581.5,511.7 584.7,513.6" fill="#240073"/><polygon points="531.1,488.4 528.0,486.4 529.4,484.9 532.4,486.8" fill="#0b08ae"/><polygon points="586.7,517.5 583.5,515.6 584.7,513.6 587.8,515.4" fill="#250072"/><polygon points="554.1,500.3 551.0,498.4 552.2,496.5 555.3,498.4" fill="#17048c"/><polygon points="514.4,480.1 511.3,478.2 512.7,477.0 515.8,478.8" fill="#070bd7"/><polygon points="473.4,460.3 470.4,458.7 472.0,458.4 475.0,460.0" fill="#0222de"/><polygon points="557.2,502.3 554.1,500.3 555.3,498.4 558.4,500.4" fill="#190389"/><polygon points="534.2,490.3 531.1,488.4 532.4,486.8 535.5,488.7" fill="#0d07a9"/><polygon points="500.7,473.6 497.7,471.7 499.1,470.8 502.2,472.6" fill="#050ee3"/><polygon points="487.1,467.0 484.1,465.2 485.6,464.6 488.6,466.3" fill="#0414ea"/><polygon points="560.3,504.2 557.2,502.3 558.4,500.4 561.5,502.3" fill="#1a0285"/><polygon points="517.4,482.0 514.4,480.1 515.8,478.8 518.8,480.7" fill="#070ad4"/><polygon points="462.8,455.4 459.8,453.8 461.4,453.9 464.4,455.4" fill="#01429d"/><polygon points="537.3,492.3 534.2,490.3 535.5,488.7 538.6,490.6" fill="#0f06a4"/><polygon points="441.4,445.5 438.4,444.1 440.2,444.8 443.1,446.1" fill="#0f6e3f"/><polygon points="452.1,450.4 449.1,448.9 450.8,449.3 453.8,450.7" fill="#045d65"/><polygon points="563.4,506.2 560.3,504.2 561.5,502.3 564.7,504.2" fill="#1c0282"/><polygon points="503.8,475.5 500.7,473.6 502.2,472.6 505.2,474.4" fill="#060ee0"/><polygon points="520.5,484.0 517.4,482.0 518.8,480.7 521.9,482.6" fill="#0809cc"/><polygon points="566.6,508.1 563.4,506.2 564.7,504.2 567.8,506.1" fill="#1e017f"/><polygon points="540.4,494.2 537.3,492.3 538.6,490.6 541.7,492.5" fill="#10069f"/><polygon points="476.5,462.1 473.4,460.3 475.0,460.0 478.0,461.7" fill="#031ce9"/><polygon points="490.1,468.8 487.1,467.0 488.6,466.3 491.6,468.1" fill="#0412eb"/><polygon points="569.7,510.0 566.6,508.1 567.8,506.1 570.9,508.0" fill="#20017c"/><polygon points="543.5,496.2 540.4,494.2 541.7,492.5 544.8,494.5" fill="#12059a"/><polygon points="572.9,512.0 569.7,510.0 570.9,508.0 574.1,509.9" fill="#210079"/><polygon points="523.6,485.9 520.5,484.0 521.9,482.6 524.9,484.5" fill="#0908c2"/><polygon points="465.8,457.1 462.8,455.4 464.4,455.4 467.4,457.0" fill="#013aad"/><polygon points="506.9,477.4 503.8,475.5 505.2,474.4 508.3,476.3" fill="#060ddd"/><polygon points="576.0,513.9 572.9,512.0 574.1,509.9 577.2,511.8" fill="#230076"/><polygon points="546.6,498.2 543.5,496.2 544.8,494.5 547.9,496.4" fill="#140595"/><polygon points="455.1,452.0 452.1,450.4 453.8,450.7 456.8,452.2" fill="#01596e"/><polygon points="479.5,463.9 476.5,462.1 478.0,461.7 481.0,463.4" fill="#031ae9"/><polygon points="493.2,470.7 490.1,468.8 491.6,468.1 494.7,469.9" fill="#0511e9"/><polygon points="444.4,447.0 441.4,445.5 443.1,446.1 446.1,447.5" fill="#0d6b46"/><polygon points="579.2,515.8 576.0,513.9 577.2,511.8 580.4,513.7" fill="#240074"/><polygon points="526.7,487.9 523.6,485.9 524.9,484.5 528.0,486.4" fill="#0a08b7"/><polygon points="549.7,500.2 546.6,498.2 547.9,496.4 551.0,498.4" fill="#160490"/><polygon points="582.4,517.7 579.2,515.8 580.4,513.7 583.5,515.6" fill="#250073"/><polygon points="509.9,479.3 506.9,477.4 508.3,476.3 511.3,478.2" fill="#070cda"/><polygon points="585.5,519.5 582.4,517.7 583.5,515.6 586.7,517.5" fill="#250071"/><polygon points="552.8,502.2 549.7,500.2 551.0,498.4 554.1,500.3" fill="#17038b"/><polygon points="529.8,489.9 526.7,487.9 528.0,486.4 531.1,488.4" fill="#0b07ad"/><polygon points="468.8,458.8 465.8,457.1 467.4,457.0 470.4,458.7" fill="#0132bd"/><polygon points="496.2,472.6 493.2,470.7 494.7,469.9 497.7,471.7" fill="#0510e6"/><polygon points="482.5,465.7 479.5,463.9 481.0,463.4 484.1,465.2" fill="#0318ea"/><polygon points="555.9,504.1 552.8,502.2 554.1,500.3 557.2,502.3" fill="#190387"/><polygon points="513.0,481.3 509.9,479.3 511.3,478.2 514.4,480.1" fill="#070bd7"/><polygon points="458.1,453.6 455.1,452.0 456.8,452.2 459.8,453.8" fill="#00537a"/><polygon points="532.9,491.9 529.8,489.9 531.1,488.4 534.2,490.3" fill="#0d07a8"/><polygon points="559.1,506.1 555.9,504.1 557.2,502.3 560.3,504.2" fill="#1b0284"/><polygon points="447.4,448.5 444.4,447.0 446.1,447.5 449.1,448.9" fill="#0a674e"/><polygon points="499.3,474.5 496.2,472.6 497.7,471.7 500.7,473.6" fill="#050fe4"/><polygon points="562.2,508.1 559.1,506.1 560.3,504.2 563.4,506.2" fill="#1d0281"/><polygon points="536.0,493.9 532.9,491.9 534.2,490.3 537.3,492.3" fill="#0f06a3"/><polygon points="516.1,483.3 513.0,481.3 514.4,480.1 517.4,482.0" fill="#070ad4"/><polygon points="471.8,460.6 468.8,458.8 470.4,458.7 473.4,460.3" fill="#022ace"/><polygon points="485.6,467.5 482.5,465.7 484.1,465.2 487.1,467.0" fill="#0416ea"/><polygon points="565.4,510.0 562.2,508.1 563.4,506.2 566.6,508.1" fill="#1e017e"/><polygon points="539.1,495.9 536.0,493.9 537.3,492.3 540.4,494.2" fill="#11069e"/><polygon points="568.5,512.0 565.4,510.0 566.6,508.1 569.7,510.0" fill="#20017b"/><polygon points="519.2,485.3 516.1,483.3 517.4,482.0 520.5,484.0" fill="#0809cc"/><polygon points="461.1,455.3 458.1,453.6 459.8,453.8 462.8,455.4" fill="#004b89"/><polygon points="502.4,476.4 499.3,474.5 500.7,473.6 503.8,475.5" fill="#060ee1"/><polygon points="571.7,513.9 568.5,512.0 569.7,510.0 572.9,512.0" fill="#220078"/><polygon points="542.2,497.9 539.1,495.9 540.4,494.2 543.5,496.2" fill="#120598"/><polygon points="450.4,450.0 447.4,448.5 449.1,448.9 452.1,450.4" fill="#086357"/><polygon points="488.6,469.4 485.6,467.5 487.1,467.0 490.1,468.8" fill="#0413ea"/><polygon points="574.8,515.9 571.7,513.9 572.9,512.0 576.0,513.9" fill="#230075"/><polygon points="474.9,462.4 471.8,460.6 473.4,460.3 476.5,462.1" fill="#0221e0"/><polygon points="439.6,444.8 436.6,443.3 438.4,444.1 441.4,445.5" fill="#14762e"/><polygon points="522.2,487.3 519.2,485.3 520.5,484.0 523.6,485.9" fill="#0908c1"/><polygon points="545.3,499.9 542.2,497.9 543.5,496.2 546.6,498.2" fill="#140493"/><polygon points="578.0,517.8 574.8,515.9 576.0,513.9 579.2,515.8" fill="#240073"/><polygon points="505.4,478.4 502.4,476.4 503.8,475.5 506.9,477.4" fill="#060dde"/><polygon points="581.2,519.7 578.0,517.8 579.2,515.8 582.4,517.7" fill="#250072"/><polygon points="548.4,501.9 545.3,499.9 546.6,498.2 549.7,500.2" fill="#16048e"/><polygon points="525.3,489.3 522.2,487.3 523.6,485.9 526.7,487.9" fill="#0a08b7"/><polygon points="584.4,521.6 581.2,519.7 582.4,517.7 585.5,519.5" fill="#260070"/><polygon points="464.2,457.1 461.1,455.3 462.8,455.4 465.8,457.1" fill="#00439a"/><polygon points="491.7,471.4 488.6,469.4 490.1,468.8 493.2,470.7" fill="#0411ea"/><polygon points="551.6,503.9 548.4,501.9 549.7,500.2 552.8,502.2" fill="#18038a"/><polygon points="477.9,464.2 474.9,462.4 476.5,462.1 479.5,463.9" fill="#031ce9"/><polygon points="508.5,480.4 505.4,478.4 506.9,477.4 509.9,479.3" fill="#060cdb"/><polygon points="528.4,491.3 525.3,489.3 526.7,487.9 529.8,489.9" fill="#0b07ac"/><polygon points="453.4,451.7 450.4,450.0 452.1,450.4 455.1,452.0" fill="#055f60"/><polygon points="554.7,506.0 551.6,503.9 552.8,502.2 555.9,504.1" fill="#1a0386"/><polygon points="442.6,446.3 439.6,444.8 441.4,445.5 444.4,447.0" fill="#117236"/><polygon points="557.8,508.0 554.7,506.0 555.9,504.1 559.1,506.1" fill="#1b0283"/><polygon points="531.5,493.4 528.4,491.3 529.8,489.9 532.9,491.9" fill="#0d07a7"/><polygon points="494.8,473.3 491.7,471.4 493.2,470.7 496.2,472.6" fill="#0510e7"/><polygon points="511.6,482.4 508.5,480.4 509.9,479.3 513.0,481.3" fill="#070bd7"/><polygon points="467.2,458.8 464.2,457.1 465.8,457.1 468.8,458.8" fill="#013bab"/><polygon points="561.0,510.0 557.8,508.0 559.1,506.1 562.2,508.1" fill="#1d0280"/><polygon points="481.0,466.1 477.9,464.2 479.5,463.9 482.5,465.7" fill="#0319e9"/><polygon points="534.6,495.4 531.5,493.4 532.9,491.9 536.0,493.9" fill="#0f06a2"/><polygon points="564.1,511.9 561.0,510.0 562.2,508.1 565.4,510.0" fill="#1f017d"/><polygon points="514.7,484.5 511.6,482.4 513.0,481.3 516.1,483.3" fill="#070ad4"/><polygon points="497.8,475.3 494.8,473.3 496.2,472.6 499.3,474.5" fill="#050fe4"/><polygon points="456.4,453.4 453.4,451.7 455.1,452.0 458.1,453.6" fill="#025b69"/><polygon points="567.3,513.9 564.1,511.9 565.4,510.0 568.5,512.0" fill="#21007a"/><polygon points="537.8,497.5 534.6,495.4 536.0,493.9 539.1,495.9" fill="#11069d"/><polygon points="570.5,515.9 567.3,513.9 568.5,512.0 571.7,513.9" fill="#230077"/><polygon points="445.6,447.9 442.6,446.3 444.4,447.0 447.4,448.5" fill="#0f6e3e"/><polygon points="484.0,468.0 481.0,466.1 482.5,465.7 485.6,467.5" fill="#0317e9"/><polygon points="517.8,486.5 514.7,484.5 516.1,483.3 519.2,485.3" fill="#0809cc"/><polygon points="470.2,460.7 467.2,458.8 468.8,458.8 471.8,460.6" fill="#0132bd"/><polygon points="540.9,499.5 537.8,497.5 539.1,495.9 542.2,497.9" fill="#130597"/><polygon points="573.6,517.8 570.5,515.9 571.7,513.9 574.8,515.9" fill="#240074"/><polygon points="500.9,477.3 497.8,475.3 499.3,474.5 502.4,476.4" fill="#060ee1"/><polygon points="576.8,519.8 573.6,517.8 574.8,515.9 578.0,517.8" fill="#240073"/><polygon points="544.0,501.6 540.9,499.5 542.2,497.9 545.3,499.9" fill="#150492"/><polygon points="520.9,488.6 517.8,486.5 519.2,485.3 522.2,487.3" fill="#0908c2"/><polygon points="580.0,521.7 576.8,519.8 578.0,517.8 581.2,519.7" fill="#250071"/><polygon points="459.5,455.1 456.4,453.4 458.1,453.6 461.1,455.3" fill="#005674"/><polygon points="547.2,503.7 544.0,501.6 545.3,499.9 548.4,501.9" fill="#16048d"/><polygon points="487.1,470.0 484.0,468.0 485.6,467.5 488.6,469.4" fill="#0415e9"/><polygon points="583.2,523.6 580.0,521.7 581.2,519.7 584.4,521.6" fill="#260070"/><polygon points="504.0,479.4 500.9,477.3 502.4,476.4 505.4,478.4" fill="#060dde"/><polygon points="473.3,462.6 470.2,460.7 471.8,460.6 474.9,462.4" fill="#0229cf"/><polygon points="524.0,490.7 520.9,488.6 522.2,487.3 525.3,489.3" fill="#0a08b7"/><polygon points="550.3,505.7 547.2,503.7 548.4,501.9 551.6,503.9" fill="#180389"/><polygon points="448.6,449.5 445.6,447.9 447.4,448.5 450.4,450.0" fill="#0c6a47"/><polygon points="437.8,443.9 434.8,442.4 436.6,443.3 439.6,444.8" fill="#1a7e1f"/><polygon points="553.4,507.7 550.3,505.7 551.6,503.9 554.7,506.0" fill="#1a0385"/><polygon points="527.1,492.7 524.0,490.7 525.3,489.3 528.4,491.3" fill="#0b07ac"/><polygon points="507.1,481.4 504.0,479.4 505.4,478.4 508.5,480.4" fill="#060cdb"/><polygon points="490.2,472.0 487.1,470.0 488.6,469.4 491.7,471.4" fill="#0412ea"/><polygon points="556.6,509.8 553.4,507.7 554.7,506.0 557.8,508.0" fill="#1c0282"/><polygon points="462.5,456.9 459.5,455.1 461.1,455.3 464.2,457.1" fill="#004d85"/><polygon points="476.4,464.5 473.3,462.6 474.9,462.4 477.9,464.2" fill="#0220e2"/><polygon points="530.2,494.8 527.1,492.7 528.4,491.3 531.5,493.4" fill="#0d07a7"/><polygon points="559.7,511.8 556.6,509.8 557.8,508.0 561.0,510.0" fill="#1e017f"/><polygon points="510.2,483.5 507.1,481.4 508.5,480.4 511.6,482.4" fill="#070bd8"/><polygon points="562.9,513.8 559.7,511.8 561.0,510.0 564.1,511.9" fill="#20017c"/><polygon points="493.3,474.0 490.2,472.0 491.7,471.4 494.8,473.3" fill="#0511e8"/><polygon points="451.7,451.2 448.6,449.5 450.4,450.0 453.4,451.7" fill="#096651"/><polygon points="533.3,496.9 530.2,494.8 531.5,493.4 534.6,495.4" fill="#0f06a1"/><polygon points="566.1,515.8 562.9,513.8 564.1,511.9 567.3,513.9" fill="#210079"/><polygon points="440.8,445.5 437.8,443.9 439.6,444.8 442.6,446.3" fill="#167a24"/><polygon points="513.3,485.6 510.2,483.5 511.6,482.4 514.7,484.5" fill="#070ad4"/><polygon points="536.4,499.0 533.3,496.9 534.6,495.4 537.8,497.5" fill="#11069c"/><polygon points="479.4,466.4 476.4,464.5 477.9,464.2 481.0,466.1" fill="#031be8"/><polygon points="569.3,517.8 566.1,515.8 567.3,513.9 570.5,515.9" fill="#230076"/><polygon points="465.6,458.8 462.5,456.9 464.2,457.1 467.2,458.8" fill="#004497"/><polygon points="572.5,519.8 569.3,517.8 570.5,515.9 573.6,517.8" fill="#240074"/><polygon points="496.4,476.1 493.3,474.0 494.8,473.3 497.8,475.3" fill="#0510e5"/><polygon points="539.6,501.1 536.4,499.0 537.8,497.5 540.9,499.5" fill="#130597"/><polygon points="516.4,487.7 513.3,485.6 514.7,484.5 517.8,486.5" fill="#0809cd"/><polygon points="575.6,521.7 572.5,519.8 573.6,517.8 576.8,519.8" fill="#250072"/><polygon points="578.8,523.7 575.6,521.7 576.8,519.8 580.0,521.7" fill="#250071"/><polygon points="542.7,503.2 539.6,501.1 540.9,499.5 544.0,501.6" fill="#150491"/><polygon points="454.7,453.0 451.7,451.2 453.4,451.7 456.4,453.4" fill="#06615b"/><polygon points="482.5,468.4 479.4,466.4 481.0,466.1 484.0,468.0" fill="#0319e9"/><polygon points="582.1,525.6 578.8,523.7 580.0,521.7 583.2,523.6" fill="#26006f"/><polygon points="499.4,478.1 496.4,476.1 497.8,475.3 500.9,477.3" fill="#050ee2"/><polygon points="519.5,489.8 516.4,487.7 517.8,486.5 520.9,488.6" fill="#0909c2"/><polygon points="468.6,460.7 465.6,458.8 467.2,458.8 470.2,460.7" fill="#013baa"/><polygon points="545.9,505.3 542.7,503.2 544.0,501.6 547.2,503.7" fill="#17048c"/><polygon points="443.8,447.2 440.8,445.5 442.6,446.3 445.6,447.9" fill="#14762d"/><polygon points="549.0,507.4 545.9,505.3 547.2,503.7 550.3,505.7" fill="#190388"/><polygon points="522.6,492.0 519.5,489.8 520.9,488.6 524.0,490.7" fill="#0a08b7"/><polygon points="502.5,480.2 499.4,478.1 500.9,477.3 504.0,479.4" fill="#060ddf"/><polygon points="485.6,470.5 482.5,468.4 484.0,468.0 487.1,470.0" fill="#0316e9"/><polygon points="552.2,509.5 549.0,507.4 550.3,505.7 553.4,507.7" fill="#1a0285"/><polygon points="457.8,454.8 454.7,453.0 456.4,453.4 459.5,455.1" fill="#035c65"/><polygon points="525.7,494.1 522.6,492.0 524.0,490.7 527.1,492.7" fill="#0b07ac"/><polygon points="471.7,462.6 468.6,460.7 470.2,460.7 473.3,462.6" fill="#0132bd"/><polygon points="555.3,511.6 552.2,509.5 553.4,507.7 556.6,509.8" fill="#1c0281"/><polygon points="505.6,482.4 502.5,480.2 504.0,479.4 507.1,481.4" fill="#060cdb"/><polygon points="558.5,513.6 555.3,511.6 556.6,509.8 559.7,511.8" fill="#1e017e"/><polygon points="528.9,496.2 525.7,494.1 527.1,492.7 530.2,494.8" fill="#0d07a7"/><polygon points="488.7,472.5 485.6,470.5 487.1,470.0 490.2,472.0" fill="#0414e9"/><polygon points="446.9,448.9 443.8,447.2 445.6,447.9 448.6,449.5" fill="#117137"/><polygon points="561.7,515.7 558.5,513.6 559.7,511.8 562.9,513.8" fill="#20017b"/><polygon points="564.9,517.7 561.7,515.7 562.9,513.8 566.1,515.8" fill="#220078"/><polygon points="532.0,498.4 528.9,496.2 530.2,494.8 533.3,496.9" fill="#0f06a1"/><polygon points="436.0,443.0 432.9,441.4 434.8,442.4 437.8,443.9" fill="#23861a" stroke="#15500f" stroke-width="0.3"/><polygon points="508.7,484.5 505.6,482.4 507.1,481.4 510.2,483.5" fill="#070bd8"/><polygon points="474.8,464.6 471.7,462.6 473.3,462.6 476.4,464.5" fill="#0228d1"/><polygon points="460.8,456.7 457.8,454.8 459.5,455.1 462.5,456.9" fill="#005771"/><polygon points="568.0,519.7 564.9,517.7 566.1,515.8 569.3,517.8" fill="#230075"/><polygon points="491.8,474.6 488.7,472.5 490.2,472.0 493.3,474.0" fill="#0411e9"/><polygon points="535.1,500.5 532.0,498.4 533.3,496.9 536.4,499.0" fill="#11059c"/><polygon points="571.2,521.7 568.0,519.7 569.3,517.8 572.5,519.8" fill="#240073"/><polygon points="511.9,486.7 508.7,484.5 510.2,483.5 513.3,485.6" fill="#070ad5"/><polygon points="574.5,523.7 571.2,521.7 572.5,519.8 575.6,521.7" fill="#250072"/><polygon points="538.3,502.7 535.1,500.5 536.4,499.0 539.6,501.1" fill="#130596"/><polygon points="449.9,450.7 446.9,448.9 448.6,449.5 451.7,451.2" fill="#0e6d41"/><polygon points="577.7,525.6 574.5,523.7 575.6,521.7 578.8,523.7" fill="#260070"/><polygon points="477.9,466.7 474.8,464.6 476.4,464.5 479.4,466.4" fill="#021ee5"/><polygon points="494.9,476.7 491.8,474.6 493.3,474.0 496.4,476.1" fill="#0510e6"/><polygon points="515.0,488.8 511.9,486.7 513.3,485.6 516.4,487.7" fill="#0809cf"/><polygon points="541.4,504.8 538.3,502.7 539.6,501.1 542.7,503.2" fill="#150491"/><polygon points="580.9,527.5 577.7,525.6 578.8,523.7 582.1,525.6" fill="#26006f"/><polygon points="463.9,458.6 460.8,456.7 462.5,456.9 465.6,458.8" fill="#004f82"/><polygon points="439.0,444.6 436.0,443.0 437.8,443.9 440.8,445.5" fill="#1f821d" stroke="#124e11" stroke-width="0.3"/><polygon points="544.6,507.0 541.4,504.8 542.7,503.2 545.9,505.3" fill="#17048b"/><polygon points="518.1,491.0 515.0,488.8 516.4,487.7 519.5,489.8" fill="#0909c4"/><polygon points="547.7,509.1 544.6,507.0 545.9,505.3 549.0,507.4" fill="#190387"/><polygon points="498.0,478.9 494.9,476.7 496.4,476.1 499.4,478.1" fill="#050fe3"/><polygon points="480.9,468.7 477.9,466.7 479.4,466.4 482.5,468.4" fill="#031ae8"/><polygon points="550.9,511.2 547.7,509.1 549.0,507.4 552.2,509.5" fill="#1b0284"/><polygon points="453.0,452.5 449.9,450.7 451.7,451.2 454.7,453.0" fill="#0b684c"/><polygon points="521.2,493.2 518.1,491.0 519.5,489.8 522.6,492.0" fill="#0a08b9"/><polygon points="467.0,460.6 463.9,458.6 465.6,458.8 468.6,460.7" fill="#004595"/><polygon points="554.1,513.3 550.9,511.2 552.2,509.5 555.3,511.6" fill="#1d0281"/><polygon points="501.1,481.0 498.0,478.9 499.4,478.1 502.5,480.2" fill="#060ee0"/><polygon points="524.4,495.4 521.2,493.2 522.6,492.0 525.7,494.1" fill="#0b07ad"/><polygon points="557.2,515.4 554.1,513.3 555.3,511.6 558.5,513.6" fill="#1e017d"/><polygon points="484.0,470.8 480.9,468.7 482.5,468.4 485.6,470.5" fill="#0318e8"/><polygon points="442.0,446.4 439.0,444.6 440.8,445.5 443.8,447.2" fill="#1a7e1f" stroke="#0f4b12" stroke-width="0.3"/><polygon points="560.4,517.5 557.2,515.4 558.5,513.6 561.7,515.7" fill="#20007a"/><polygon points="527.5,497.6 524.4,495.4 525.7,494.1 528.9,496.2" fill="#0d07a7"/><polygon points="504.2,483.2 501.1,481.0 502.5,480.2 505.6,482.4" fill="#060ddc"/><polygon points="563.6,519.5 560.4,517.5 561.7,515.7 564.9,517.7" fill="#220077"/><polygon points="470.1,462.6 467.0,460.6 468.6,460.7 471.7,462.6" fill="#013ba9"/><polygon points="456.1,454.4 453.0,452.5 454.7,453.0 457.8,454.8" fill="#086357"/><polygon points="566.8,521.6 563.6,519.5 564.9,517.7 568.0,519.7" fill="#240074"/><polygon points="530.6,499.8 527.5,497.6 528.9,496.2 532.0,498.4" fill="#0f06a1"/><polygon points="487.1,473.0 484.0,470.8 485.6,470.5 488.7,472.5" fill="#0415e8"/><polygon points="570.0,523.6 566.8,521.6 568.0,519.7 571.2,521.7" fill="#240073"/><polygon points="507.3,485.4 504.2,483.2 505.6,482.4 508.7,484.5" fill="#060cd9"/><polygon points="533.8,502.0 530.6,499.8 532.0,498.4 535.1,500.5" fill="#11059b"/><polygon points="573.3,525.6 570.0,523.6 571.2,521.7 574.5,523.7" fill="#250071"/><polygon points="445.1,448.2 442.0,446.4 443.8,447.2 446.9,448.9" fill="#167926" stroke="#0d4816" stroke-width="0.3"/><polygon points="576.5,527.5 573.3,525.6 574.5,523.7 577.7,525.6" fill="#260070"/><polygon points="536.9,504.2 533.8,502.0 535.1,500.5 538.3,502.7" fill="#130596"/><polygon points="473.2,464.7 470.1,462.6 471.7,462.6 474.8,464.6" fill="#0131be"/><polygon points="510.4,487.6 507.3,485.4 508.7,484.5 511.9,486.7" fill="#070ad5"/><polygon points="490.2,475.1 487.1,473.0 488.7,472.5 491.8,474.6" fill="#0413e9"/><polygon points="579.7,529.5 576.5,527.5 577.7,525.6 580.9,527.5" fill="#27006e"/><polygon points="459.2,456.4 456.1,454.4 457.8,454.8 460.8,456.7" fill="#045d62"/><polygon points="540.1,506.4 536.9,504.2 538.3,502.7 541.4,504.8" fill="#150490"/><polygon points="434.1,441.9 431.0,440.3 432.9,441.4 436.0,443.0" fill="#2c8e14" stroke="#1a550c" stroke-width="0.3"/><polygon points="513.6,489.9 510.4,487.6 511.9,486.7 515.0,488.8" fill="#0709d1"/><polygon points="543.3,508.5 540.1,506.4 541.4,504.8 544.6,507.0" fill="#17048b"/><polygon points="493.4,477.3 490.2,475.1 491.8,474.6 494.9,476.7" fill="#0511e7"/><polygon points="476.3,466.8 473.2,464.7 474.8,464.6 477.9,466.7" fill="#0226d4"/><polygon points="546.4,510.7 543.3,508.5 544.6,507.0 547.7,509.1" fill="#190387"/><polygon points="516.7,492.1 513.6,489.9 515.0,488.8 518.1,491.0" fill="#0909c6"/><polygon points="448.2,450.0 445.1,448.2 446.9,448.9 449.9,450.7" fill="#137430" stroke="#0b451c" stroke-width="0.3"/><polygon points="549.6,512.9 546.4,510.7 547.7,509.1 550.9,511.2" fill="#1b0283"/><polygon points="462.2,458.4 459.2,456.4 460.8,456.7 463.9,458.6" fill="#01586e"/><polygon points="496.5,479.5 493.4,477.3 494.9,476.7 498.0,478.9" fill="#050fe4"/><polygon points="552.8,515.0 549.6,512.9 550.9,511.2 554.1,513.3" fill="#1d0280"/><polygon points="519.8,494.4 516.7,492.1 518.1,491.0 521.2,493.2" fill="#0a08ba"/><polygon points="437.2,443.6 434.1,441.9 436.0,443.0 439.0,444.6" fill="#288a17" stroke="#18520d" stroke-width="0.3"/><polygon points="479.4,468.9 476.3,466.8 477.9,466.7 480.9,468.7" fill="#021ce7"/><polygon points="556.0,517.1 552.8,515.0 554.1,513.3 557.2,515.4" fill="#1f017d"/><polygon points="523.0,496.6 519.8,494.4 521.2,493.2 524.4,495.4" fill="#0b08ae"/><polygon points="559.2,519.3 556.0,517.1 557.2,515.4 560.4,517.5" fill="#210079"/><polygon points="499.6,481.8 496.5,479.5 498.0,478.9 501.1,481.0" fill="#050ee1"/><polygon points="562.4,521.3 559.2,519.3 560.4,517.5 563.6,519.5" fill="#220076"/><polygon points="465.3,460.4 462.2,458.4 463.9,458.6 467.0,460.6" fill="#004f80"/><polygon points="451.3,451.9 448.2,450.0 449.9,450.7 453.0,452.5" fill="#106f3b" stroke="#094223" stroke-width="0.3"/><polygon points="526.1,498.9 523.0,496.6 524.4,495.4 527.5,497.6" fill="#0d07a7"/><polygon points="565.6,523.4 562.4,521.3 563.6,519.5 566.8,521.6" fill="#240074"/><polygon points="482.5,471.1 479.4,468.9 480.9,468.7 484.0,470.8" fill="#031ae8"/><polygon points="502.7,484.0 499.6,481.8 501.1,481.0 504.2,483.2" fill="#060ddd"/><polygon points="568.8,525.4 565.6,523.4 566.8,521.6 570.0,523.6" fill="#240072"/><polygon points="529.3,501.1 526.1,498.9 527.5,497.6 530.6,499.8" fill="#0f06a1"/><polygon points="572.0,527.4 568.8,525.4 570.0,523.6 573.3,525.6" fill="#250071"/><polygon points="440.2,445.4 437.2,443.6 439.0,444.6 442.0,446.4" fill="#23861a" stroke="#15500f" stroke-width="0.3"/><polygon points="532.4,503.4 529.3,501.1 530.6,499.8 533.8,502.0" fill="#11069c"/><polygon points="575.3,529.4 572.0,527.4 573.3,525.6 576.5,527.5" fill="#26006f"/><polygon points="505.9,486.3 502.7,484.0 504.2,483.2 507.3,485.4" fill="#060cda"/><polygon points="468.4,462.5 465.3,460.4 467.0,460.6 470.1,462.6" fill="#004595"/><polygon points="485.6,473.3 482.5,471.1 484.0,470.8 487.1,473.0" fill="#0317e8"/><polygon points="578.5,531.4 575.3,529.4 576.5,527.5 579.7,529.5" fill="#27006e"/><polygon points="535.6,505.6 532.4,503.4 533.8,502.0 536.9,504.2" fill="#130596"/><polygon points="454.4,453.9 451.3,451.9 453.0,452.5 456.1,454.4" fill="#0c6a47" stroke="#073f2a" stroke-width="0.3"/><polygon points="538.8,507.8 535.6,505.6 536.9,504.2 540.1,506.4" fill="#150490"/><polygon points="509.0,488.6 505.9,486.3 507.3,485.4 510.4,487.6" fill="#070bd6"/><polygon points="542.0,510.1 538.8,507.8 540.1,506.4 543.3,508.5" fill="#17048a"/><polygon points="488.7,475.6 485.6,473.3 487.1,473.0 490.2,475.1" fill="#0414e8"/><polygon points="471.5,464.7 468.4,462.5 470.1,462.6 473.2,464.7" fill="#013aaa"/><polygon points="512.1,490.9 509.0,488.6 510.4,487.6 513.6,489.9" fill="#070ad2"/><polygon points="545.1,512.3 542.0,510.1 543.3,508.5 546.4,510.7" fill="#190386"/><polygon points="443.3,447.3 440.2,445.4 442.0,446.4 445.1,448.2" fill="#1e811d" stroke="#124d11" stroke-width="0.3"/><polygon points="457.4,455.9 454.4,453.9 456.1,454.4 459.2,456.4" fill="#096453" stroke="#053c31" stroke-width="0.3"/><polygon points="548.3,514.5 545.1,512.3 546.4,510.7 549.6,512.9" fill="#1b0283"/><polygon points="491.8,477.8 488.7,475.6 490.2,475.1 493.4,477.3" fill="#0411e8"/><polygon points="515.3,493.2 512.1,490.9 513.6,489.9 516.7,492.1" fill="#0809c8"/><polygon points="551.5,516.7 548.3,514.5 549.6,512.9 552.8,515.0" fill="#1d0280"/><polygon points="432.2,440.7 429.1,439.0 431.0,440.3 434.1,441.9" fill="#38980d" stroke="#215b07" stroke-width="0.3"/><polygon points="474.7,466.8 471.5,464.7 473.2,464.7 476.3,466.8" fill="#012fc1"/><polygon points="554.7,518.8 551.5,516.7 552.8,515.0 556.0,517.1" fill="#1f017c"/><polygon points="518.4,495.5 515.3,493.2 516.7,492.1 519.8,494.4" fill="#0908bc"/><polygon points="557.9,521.0 554.7,518.8 556.0,517.1 559.2,519.3" fill="#210079"/><polygon points="495.0,480.1 491.8,477.8 493.4,477.3 496.5,479.5" fill="#0510e5"/><polygon points="561.1,523.1 557.9,521.0 559.2,519.3 562.4,521.3" fill="#230075"/><polygon points="521.6,497.8 518.4,495.5 519.8,494.4 523.0,496.6" fill="#0b08b0"/><polygon points="460.5,458.0 457.4,455.9 459.2,456.4 462.2,458.4" fill="#055e60"/><polygon points="446.4,449.3 443.3,447.3 445.1,448.2 448.2,450.0" fill="#187c20" stroke="#0e4a13" stroke-width="0.3"/><polygon points="564.4,525.2 561.1,523.1 562.4,521.3 565.6,523.4" fill="#240073"/><polygon points="477.8,469.1 474.7,466.8 476.3,466.8 479.4,468.9" fill="#0224d7"/><polygon points="524.8,500.1 521.6,497.8 523.0,496.6 526.1,498.9" fill="#0c07a8"/><polygon points="567.6,527.3 564.4,525.2 565.6,523.4 568.8,525.4" fill="#250072"/><polygon points="498.1,482.4 495.0,480.1 496.5,479.5 499.6,481.8" fill="#050fe2"/><polygon points="570.8,529.3 567.6,527.3 568.8,525.4 572.0,527.4" fill="#250070"/><polygon points="527.9,502.4 524.8,500.1 526.1,498.9 529.3,501.1" fill="#0f06a2"/><polygon points="435.3,442.5 432.2,440.7 434.1,441.9 437.2,443.6" fill="#339310" stroke="#1e5809" stroke-width="0.3"/><polygon points="574.1,531.3 570.8,529.3 572.0,527.4 575.3,529.4" fill="#26006f"/><polygon points="501.2,484.7 498.1,482.4 499.6,481.8 502.7,484.0" fill="#060ede"/><polygon points="463.7,460.2 460.5,458.0 462.2,458.4 465.3,460.4" fill="#01586d"/><polygon points="577.3,533.3 574.1,531.3 575.3,529.4 578.5,531.4" fill="#27006d"/><polygon points="531.1,504.7 527.9,502.4 529.3,501.1 532.4,503.4" fill="#11069c"/><polygon points="480.9,471.3 477.8,469.1 479.4,468.9 482.5,471.1" fill="#031ce7"/><polygon points="449.5,451.2 446.4,449.3 448.2,450.0 451.3,451.9" fill="#14772b" stroke="#0c4719" stroke-width="0.3"/><polygon points="534.3,507.0 531.1,504.7 532.4,503.4 535.6,505.6" fill="#130596"/><polygon points="504.4,487.1 501.2,484.7 502.7,484.0 505.9,486.3" fill="#060cdb"/><polygon points="537.4,509.3 534.3,507.0 535.6,505.6 538.8,507.8" fill="#150490"/><polygon points="484.0,473.6 480.9,471.3 482.5,471.1 485.6,473.3" fill="#0319e7"/><polygon points="540.6,511.6 537.4,509.3 538.8,507.8 542.0,510.1" fill="#17048a"/><polygon points="466.8,462.3 463.7,460.2 465.3,460.4 468.4,462.5" fill="#00507f"/><polygon points="507.5,489.4 504.4,487.1 505.9,486.3 509.0,488.6" fill="#070bd7"/><polygon points="438.4,444.4 435.3,442.5 437.2,443.6 440.2,445.4" fill="#2e8f13" stroke="#1b550b" stroke-width="0.3"/><polygon points="543.8,513.8 540.6,511.6 542.0,510.1 545.1,512.3" fill="#190386"/><polygon points="452.6,453.3 449.5,451.2 451.3,451.9 454.4,453.9" fill="#117137" stroke="#0a4321" stroke-width="0.3"/><polygon points="547.0,516.1 543.8,513.8 545.1,512.3 548.3,514.5" fill="#1b0283"/><polygon points="510.7,491.8 507.5,489.4 509.0,488.6 512.1,490.9" fill="#070ad3"/><polygon points="487.2,475.9 484.0,473.6 485.6,473.3 488.7,475.6" fill="#0316e7"/><polygon points="550.2,518.3 547.0,516.1 548.3,514.5 551.5,516.7" fill="#1d027f"/><polygon points="469.9,464.5 466.8,462.3 468.4,462.5 471.5,464.7" fill="#004595"/><polygon points="553.4,520.5 550.2,518.3 551.5,516.7 554.7,518.8" fill="#1f017c"/><polygon points="513.9,494.1 510.7,491.8 512.1,490.9 515.3,493.2" fill="#0809cb"/><polygon points="556.7,522.7 553.4,520.5 554.7,518.8 557.9,521.0" fill="#210078"/><polygon points="490.3,478.2 487.2,475.9 488.7,475.6 491.8,477.8" fill="#0413e8"/><polygon points="517.0,496.5 513.9,494.1 515.3,493.2 518.4,495.5" fill="#0908bf"/><polygon points="559.9,524.8 556.7,522.7 557.9,521.0 561.1,523.1" fill="#230075"/><polygon points="441.5,446.4 438.4,444.4 440.2,445.4 443.3,447.3" fill="#288a16" stroke="#18520d" stroke-width="0.3"/><polygon points="455.7,455.4 452.6,453.3 454.4,453.9 457.4,455.9" fill="#0d6b43" stroke="#074028" stroke-width="0.3"/><polygon points="563.1,527.0 559.9,524.8 561.1,523.1 564.4,525.2" fill="#240073"/><polygon points="520.2,498.9 517.0,496.5 518.4,495.5 521.6,497.8" fill="#0a08b3"/><polygon points="473.0,466.8 469.9,464.5 471.5,464.7 474.7,466.8" fill="#0139ac"/><polygon points="566.4,529.0 563.1,527.0 564.4,525.2 567.6,527.3" fill="#250071"/><polygon points="493.5,480.6 490.3,478.2 491.8,477.8 495.0,480.1" fill="#0411e7"/><polygon points="569.6,531.1 566.4,529.0 567.6,527.3 570.8,529.3" fill="#250070"/><polygon points="523.4,501.2 520.2,498.9 521.6,497.8 524.8,500.1" fill="#0c07a9"/><polygon points="430.3,439.4 427.2,437.6 429.1,439.0 432.2,440.7" fill="#46a204" stroke="#2a6102" stroke-width="0.3"/><polygon points="572.9,533.1 569.6,531.1 570.8,529.3 574.1,531.3" fill="#26006e"/><polygon points="576.1,535.1 572.9,533.1 574.1,531.3 577.3,533.3" fill="#27006d"/><polygon points="526.5,503.6 523.4,501.2 524.8,500.1 527.9,502.4" fill="#0e06a2"/><polygon points="496.6,483.0 493.5,480.6 495.0,480.1 498.1,482.4" fill="#050fe3"/><polygon points="458.8,457.6 455.7,455.4 457.4,455.9 460.5,458.0" fill="#096550"/><polygon points="476.2,469.1 473.0,466.8 474.7,466.8 477.8,469.1" fill="#022dc4"/><polygon points="444.6,448.4 441.5,446.4 443.3,447.3 446.4,449.3" fill="#23851a" stroke="#154f0f" stroke-width="0.3"/><polygon points="529.7,506.0 526.5,503.6 527.9,502.4 531.1,504.7" fill="#10069c"/><polygon points="499.8,485.4 496.6,483.0 498.1,482.4 501.2,484.7" fill="#050edf"/><polygon points="532.9,508.3 529.7,506.0 531.1,504.7 534.3,507.0" fill="#120596"/><polygon points="536.1,510.7 532.9,508.3 534.3,507.0 537.4,509.3" fill="#150490"/><polygon points="479.3,471.4 476.2,469.1 477.8,469.1 480.9,471.3" fill="#0222dc"/><polygon points="462.0,459.8 458.8,457.6 460.5,458.0 463.7,460.2" fill="#055f5e"/><polygon points="502.9,487.8 499.8,485.4 501.2,484.7 504.4,487.1" fill="#060ddc"/><polygon points="433.4,441.3 430.3,439.4 432.2,440.7 435.3,442.5" fill="#419d07" stroke="#275e04" stroke-width="0.3"/><polygon points="539.3,513.0 536.1,510.7 537.4,509.3 540.6,511.6" fill="#17048a"/><polygon points="542.5,515.3 539.3,513.0 540.6,511.6 543.8,513.8" fill="#190386"/><polygon points="447.7,450.5 444.6,448.4 446.4,449.3 449.5,451.2" fill="#1d7f1d" stroke="#114c11" stroke-width="0.3"/><polygon points="506.1,490.2 502.9,487.8 504.4,487.1 507.5,489.4" fill="#060cd8"/><polygon points="545.7,517.6 542.5,515.3 543.8,513.8 547.0,516.1" fill="#1b0283"/><polygon points="482.4,473.8 479.3,471.4 480.9,471.3 484.0,473.6" fill="#031be7"/><polygon points="548.9,519.9 545.7,517.6 547.0,516.1 550.2,518.3" fill="#1d027f"/><polygon points="509.2,492.6 506.1,490.2 507.5,489.4 510.7,491.8" fill="#070ad4"/><polygon points="465.1,462.0 462.0,459.8 463.7,460.2 466.8,462.3" fill="#01596c"/><polygon points="552.2,522.1 548.9,519.9 550.2,518.3 553.4,520.5" fill="#1f017b"/><polygon points="555.4,524.3 552.2,522.1 553.4,520.5 556.7,522.7" fill="#210078"/><polygon points="485.6,476.2 482.4,473.8 484.0,473.6 487.2,475.9" fill="#0318e7"/><polygon points="558.6,526.5 555.4,524.3 556.7,522.7 559.9,524.8" fill="#230075"/><polygon points="512.4,495.0 509.2,492.6 510.7,491.8 513.9,494.1" fill="#0709cf"/><polygon points="436.5,443.3 433.4,441.3 435.3,442.5 438.4,444.4" fill="#3b980a" stroke="#235b06" stroke-width="0.3"/><polygon points="450.8,452.6 447.7,450.5 449.5,451.2 452.6,453.3" fill="#177a22" stroke="#0d4914" stroke-width="0.3"/><polygon points="561.9,528.7 558.6,526.5 559.9,524.8 563.1,527.0" fill="#240073"/><polygon points="565.1,530.8 561.9,528.7 563.1,527.0 566.4,529.0" fill="#250071"/><polygon points="515.6,497.5 512.4,495.0 513.9,494.1 517.0,496.5" fill="#0909c2"/><polygon points="468.2,464.3 465.1,462.0 466.8,462.3 469.9,464.5" fill="#004f7f"/><polygon points="488.8,478.6 485.6,476.2 487.2,475.9 490.3,478.2" fill="#0415e7"/><polygon points="568.4,532.9 565.1,530.8 566.4,529.0 569.6,531.1" fill="#250070"/><polygon points="518.8,499.9 515.6,497.5 517.0,496.5 520.2,498.9" fill="#0a08b6"/><polygon points="571.6,534.9 568.4,532.9 569.6,531.1 572.9,533.1" fill="#26006e"/><polygon points="574.9,536.9 571.6,534.9 572.9,533.1 576.1,535.1" fill="#27006d"/><polygon points="522.0,502.3 518.8,499.9 520.2,498.9 523.4,501.2" fill="#0b07aa"/><polygon points="491.9,481.0 488.8,478.6 490.3,478.2 493.5,480.6" fill="#0412e7"/><polygon points="454.0,454.8 450.8,452.6 452.6,453.3 455.7,455.4" fill="#13732f" stroke="#0b451c" stroke-width="0.3"/><polygon points="471.4,466.7 468.2,464.3 469.9,464.5 473.0,466.8" fill="#004497"/><polygon points="439.6,445.3 436.5,443.3 438.4,444.4 441.5,446.4" fill="#35930e" stroke="#1f5808" stroke-width="0.3"/><polygon points="525.2,504.8 522.0,502.3 523.4,501.2 526.5,503.6" fill="#0e06a3"/><polygon points="528.3,507.2 525.2,504.8 526.5,503.6 529.7,506.0" fill="#10069d"/><polygon points="495.1,483.4 491.9,481.0 493.5,480.6 496.6,483.0" fill="#0510e5"/><polygon points="531.5,509.6 528.3,507.2 529.7,506.0 532.9,508.3" fill="#120597"/><polygon points="474.5,469.0 471.4,466.7 473.0,466.8 476.2,469.1" fill="#0137af"/><polygon points="534.8,512.0 531.5,509.6 532.9,508.3 536.1,510.7" fill="#140491"/><polygon points="428.4,438.0 425.3,436.2 427.2,437.6 430.3,439.4" fill="#4fa200" stroke="#2f6100" stroke-width="0.3"/><polygon points="498.2,485.9 495.1,483.4 496.6,483.0 499.8,485.4" fill="#050fe1"/><polygon points="457.1,457.0 454.0,454.8 455.7,455.4 458.8,457.6" fill="#0f6d3d"/><polygon points="538.0,514.4 534.8,512.0 536.1,510.7 539.3,513.0" fill="#16048b"/><polygon points="442.8,447.4 439.6,445.3 441.5,446.4 444.6,448.4" fill="#2f8e11" stroke="#1c550a" stroke-width="0.3"/><polygon points="541.2,516.7 538.0,514.4 539.3,513.0 542.5,515.3" fill="#190386"/><polygon points="501.4,488.4 498.2,485.9 499.8,485.4 502.9,487.8" fill="#060ddd"/><polygon points="544.4,519.1 541.2,516.7 542.5,515.3 545.7,517.6" fill="#1b0283"/><polygon points="477.7,471.4 474.5,469.0 476.2,469.1 479.3,471.4" fill="#022bc8"/><polygon points="547.6,521.4 544.4,519.1 545.7,517.6 548.9,519.9" fill="#1d027f"/><polygon points="550.9,523.7 547.6,521.4 548.9,519.9 552.2,522.1" fill="#1f017b"/><polygon points="504.6,490.9 501.4,488.4 502.9,487.8 506.1,490.2" fill="#060cd9"/><polygon points="460.2,459.3 457.1,457.0 458.8,457.6 462.0,459.8" fill="#0b674b"/><polygon points="554.1,525.9 550.9,523.7 552.2,522.1 555.4,524.3" fill="#210078"/><polygon points="557.4,528.1 554.1,525.9 555.4,524.3 558.6,526.5" fill="#230074"/><polygon points="480.9,473.9 477.7,471.4 479.3,471.4 482.4,473.8" fill="#021fe2"/><polygon points="431.5,440.0 428.4,438.0 430.3,439.4 433.4,441.3" fill="#4ca300" stroke="#2d6100" stroke-width="0.3"/><polygon points="507.8,493.4 504.6,490.9 506.1,490.2 509.2,492.6" fill="#070bd5"/><polygon points="560.6,530.3 557.4,528.1 558.6,526.5 561.9,528.7" fill="#240073"/><polygon points="445.9,449.6 442.8,447.4 444.6,448.4 447.7,450.5" fill="#298815" stroke="#18510c" stroke-width="0.3"/><polygon points="563.9,532.5 560.6,530.3 561.9,528.7 565.1,530.8" fill="#250071"/><polygon points="511.0,495.9 507.8,493.4 509.2,492.6 512.4,495.0" fill="#0709d1"/><polygon points="567.1,534.6 563.9,532.5 565.1,530.8 568.4,532.9" fill="#25006f"/><polygon points="463.4,461.6 460.2,459.3 462.0,459.8 465.1,462.0" fill="#076059"/><polygon points="484.0,476.3 480.9,473.9 482.4,473.8 485.6,476.2" fill="#031ae6"/><polygon points="570.4,536.7 567.1,534.6 568.4,532.9 571.6,534.9" fill="#26006e"/><polygon points="514.2,498.4 511.0,495.9 512.4,495.0 515.6,497.5" fill="#0809c6"/><polygon points="573.7,538.7 570.4,536.7 571.6,534.9 574.9,536.9" fill="#27006c"/><polygon points="517.4,500.9 514.2,498.4 515.6,497.5 518.8,499.9" fill="#0a08b9"/><polygon points="487.2,478.8 484.0,476.3 485.6,476.2 488.8,478.6" fill="#0317e7"/><polygon points="449.0,451.8 445.9,449.6 447.7,450.5 450.8,452.6" fill="#238219" stroke="#154e0f" stroke-width="0.3"/><polygon points="434.6,442.0 431.5,440.0 433.4,441.3 436.5,443.3" fill="#48a101" stroke="#2b6000" stroke-width="0.3"/><polygon points="520.6,503.4 517.4,500.9 518.8,499.9 522.0,502.3" fill="#0b07ac"/><polygon points="466.6,464.0 463.4,461.6 465.1,462.0 468.2,464.3" fill="#025968"/><polygon points="523.8,505.8 520.6,503.4 522.0,502.3 525.2,504.8" fill="#0d07a5"/><polygon points="490.4,481.3 487.2,478.8 488.8,478.6 491.9,481.0" fill="#0414e7"/><polygon points="527.0,508.3 523.8,505.8 525.2,504.8 528.3,507.2" fill="#0f069e"/><polygon points="530.2,510.8 527.0,508.3 528.3,507.2 531.5,509.6" fill="#120598"/><polygon points="469.7,466.4 466.6,464.0 468.2,464.3 471.4,466.7" fill="#00507a"/><polygon points="452.2,454.0 449.0,451.8 450.8,452.6 454.0,454.8" fill="#1c7c1d" stroke="#104a11" stroke-width="0.3"/><polygon points="533.4,513.2 530.2,510.8 531.5,509.6 534.8,512.0" fill="#140492"/><polygon points="493.5,483.8 490.4,481.3 491.9,481.0 495.1,483.4" fill="#0411e6"/><polygon points="536.6,515.7 533.4,513.2 534.8,512.0 538.0,514.4" fill="#16048b"/><polygon points="437.7,444.1 434.6,442.0 436.5,443.3 439.6,445.3" fill="#439c04" stroke="#285d02" stroke-width="0.3"/><polygon points="539.8,518.1 536.6,515.7 538.0,514.4 541.2,516.7" fill="#180387"/><polygon points="496.7,486.4 493.5,483.8 495.1,483.4 498.2,485.9" fill="#050fe2"/><polygon points="543.1,520.5 539.8,518.1 541.2,516.7 544.4,519.1" fill="#1a0283"/><polygon points="472.9,468.9 469.7,466.4 471.4,466.7 474.5,469.0" fill="#004493"/><polygon points="546.3,522.8 543.1,520.5 544.4,519.1 547.6,521.4" fill="#1d027f"/><polygon points="549.6,525.1 546.3,522.8 547.6,521.4 550.9,523.7" fill="#1f017b"/><polygon points="499.9,488.9 496.7,486.4 498.2,485.9 501.4,488.4" fill="#050edf"/><polygon points="455.3,456.4 452.2,454.0 454.0,454.8 457.1,457.0" fill="#167623"/><polygon points="552.8,527.4 549.6,525.1 550.9,523.7 554.1,525.9" fill="#210078"/><polygon points="556.1,529.7 552.8,527.4 554.1,525.9 557.4,528.1" fill="#230074"/><polygon points="426.4,436.5 423.3,434.6 425.3,436.2 428.4,438.0" fill="#549902" stroke="#325b01" stroke-width="0.3"/><polygon points="559.3,531.9 556.1,529.7 557.4,528.1 560.6,530.3" fill="#240072"/><polygon points="503.1,491.5 499.9,488.9 501.4,488.4 504.6,490.9" fill="#060dda"/><polygon points="476.1,471.4 472.9,468.9 474.5,469.0 477.7,471.4" fill="#0137ad"/><polygon points="440.9,446.3 437.7,444.1 439.6,445.3 442.8,447.4" fill="#3c9608" stroke="#245a04" stroke-width="0.3"/><polygon points="562.6,534.1 559.3,531.9 560.6,530.3 563.9,532.5" fill="#250071"/><polygon points="565.9,536.3 562.6,534.1 563.9,532.5 567.1,534.6" fill="#25006f"/><polygon points="506.3,494.1 503.1,491.5 504.6,490.9 507.8,493.4" fill="#060bd6"/><polygon points="569.2,538.4 565.9,536.3 567.1,534.6 570.4,536.7" fill="#26006e"/><polygon points="458.5,458.7 455.3,456.4 457.1,457.0 460.2,459.3" fill="#116f31"/><polygon points="479.2,473.9 476.1,471.4 477.7,471.4 480.9,473.9" fill="#022ac7"/><polygon points="572.5,540.4 569.2,538.4 570.4,536.7 573.7,538.7" fill="#27006c"/><polygon points="509.5,496.6 506.3,494.1 507.8,493.4 511.0,495.9" fill="#070ad2"/><polygon points="512.7,499.2 509.5,496.6 511.0,495.9 514.2,498.4" fill="#0809ca"/><polygon points="429.5,438.6 426.4,436.5 428.4,438.0 431.5,440.0" fill="#519a01" stroke="#305c00" stroke-width="0.3"/><polygon points="444.1,448.6 440.9,446.3 442.8,447.4 445.9,449.6" fill="#36910c" stroke="#205707" stroke-width="0.3"/><polygon points="482.4,476.4 479.2,473.9 480.9,473.9 484.0,476.3" fill="#021de1"/><polygon points="515.9,501.8 512.7,499.2 514.2,498.4 517.4,500.9" fill="#0908bd"/><polygon points="461.7,461.1 458.5,458.7 460.2,459.3 463.4,461.6" fill="#0d683f"/><polygon points="519.1,504.3 515.9,501.8 517.4,500.9 520.6,503.4" fill="#0b08b0"/><polygon points="522.3,506.9 519.1,504.3 520.6,503.4 523.8,505.8" fill="#0c07a6"/><polygon points="485.6,479.0 482.4,476.4 484.0,476.3 487.2,478.8" fill="#0319e3"/><polygon points="525.6,509.4 522.3,506.9 523.8,505.8 527.0,508.3" fill="#0f06a0"/><polygon points="528.8,511.9 525.6,509.4 527.0,508.3 530.2,510.8" fill="#110599"/><polygon points="464.8,463.6 461.7,461.1 463.4,461.6 466.6,464.0" fill="#09604e"/><polygon points="447.2,450.8 444.1,448.6 445.9,449.6 449.0,451.8" fill="#2f8b10" stroke="#1c5309" stroke-width="0.3"/><polygon points="488.8,481.6 485.6,479.0 487.2,478.8 490.4,481.3" fill="#0316e3"/><polygon points="532.0,514.4 528.8,511.9 530.2,510.8 533.4,513.2" fill="#130593"/><polygon points="432.7,440.7 429.5,438.6 431.5,440.0 434.6,442.0" fill="#4e9b01" stroke="#2e5d00" stroke-width="0.3"/><polygon points="535.3,516.9 532.0,514.4 533.4,513.2 536.6,515.7" fill="#16048c"/><polygon points="538.5,519.4 535.3,516.9 536.6,515.7 539.8,518.1" fill="#180387"/><polygon points="492.0,484.2 488.8,481.6 490.4,481.3 493.5,483.8" fill="#0412e3"/><polygon points="541.7,521.8 538.5,519.4 539.8,518.1 543.1,520.5" fill="#1a0283"/><polygon points="545.0,524.2 541.7,521.8 543.1,520.5 546.3,522.8" fill="#1c027f"/><polygon points="468.0,466.1 464.8,463.6 466.6,464.0 469.7,466.4" fill="#04595d"/><polygon points="548.2,526.6 545.0,524.2 546.3,522.8 549.6,525.1" fill="#1e017c"/><polygon points="551.5,528.9 548.2,526.6 549.6,525.1 552.8,527.4" fill="#200078"/><polygon points="495.2,486.8 492.0,484.2 493.5,483.8 496.7,486.4" fill="#0410e1"/><polygon points="450.4,453.2 447.2,450.8 449.0,451.8 452.2,454.0" fill="#288414" stroke="#184f0c" stroke-width="0.3"/><polygon points="554.8,531.2 551.5,528.9 552.8,527.4 556.1,529.7" fill="#230074"/><polygon points="558.1,533.5 554.8,531.2 556.1,529.7 559.3,531.9" fill="#240072"/><polygon points="561.3,535.7 558.1,533.5 559.3,531.9 562.6,534.1" fill="#250071"/><polygon points="498.4,489.4 495.2,486.8 496.7,486.4 499.9,488.9" fill="#050fdd"/><polygon points="435.8,442.9 432.7,440.7 434.6,442.0 437.7,444.1" fill="#4b9b00" stroke="#2d5d00" stroke-width="0.3"/><polygon points="471.2,468.6 468.0,466.1 469.7,466.4 472.9,468.9" fill="#00526d"/><polygon points="564.6,537.9 561.3,535.7 562.6,534.1 565.9,536.3" fill="#25006f"/><polygon points="567.9,540.0 564.6,537.9 565.9,536.3 569.2,538.4" fill="#26006d"/><polygon points="501.6,492.0 498.4,489.4 499.9,488.9 503.1,491.5" fill="#060dd9"/><polygon points="571.3,542.1 567.9,540.0 569.2,538.4 572.5,540.4" fill="#27006c"/><polygon points="453.6,455.6 450.4,453.2 452.2,454.0 455.3,456.4" fill="#217d18"/><polygon points="474.4,471.2 471.2,468.6 472.9,468.9 476.1,471.4" fill="#004586"/><polygon points="504.8,494.7 501.6,492.0 503.1,491.5 506.3,494.1" fill="#060cd5"/><polygon points="508.0,497.3 504.8,494.7 506.3,494.1 509.5,496.6" fill="#070bd1"/><polygon points="424.4,434.9 421.3,432.9 423.3,434.6 426.4,436.5" fill="#569003" stroke="#335601" stroke-width="0.3"/><polygon points="439.0,445.1 435.8,442.9 437.7,444.1 440.9,446.3" fill="#489c00" stroke="#2b5d00" stroke-width="0.3"/><polygon points="511.2,499.9 508.0,497.3 509.5,496.6 512.7,499.2" fill="#0709cd"/><polygon points="477.6,473.8 474.4,471.2 476.1,471.4 479.2,473.9" fill="#0138a0"/><polygon points="456.7,458.1 453.6,455.6 455.3,456.4 458.5,458.7" fill="#1a761c"/><polygon points="514.5,502.6 511.2,499.9 512.7,499.2 515.9,501.8" fill="#0808c0"/><polygon points="517.7,505.2 514.5,502.6 515.9,501.8 519.1,504.3" fill="#0a08b2"/><polygon points="480.8,476.4 477.6,473.8 479.2,473.9 482.4,476.4" fill="#012abb"/><polygon points="520.9,507.8 517.7,505.2 519.1,504.3 522.3,506.9" fill="#0b07a6"/><polygon points="524.2,510.4 520.9,507.8 522.3,506.9 525.6,509.4" fill="#0e069f"/><polygon points="442.2,447.5 439.0,445.1 440.9,446.3 444.1,448.6" fill="#429703" stroke="#275a01" stroke-width="0.3"/><polygon points="459.9,460.6 456.7,458.1 458.5,458.7 461.7,461.1" fill="#146e24"/><polygon points="527.4,513.0 524.2,510.4 525.6,509.4 528.8,511.9" fill="#100699"/><polygon points="427.6,437.1 424.4,434.9 426.4,436.5 429.5,438.6" fill="#549002" stroke="#325601" stroke-width="0.3"/><polygon points="484.0,479.1 480.8,476.4 482.4,476.4 485.6,479.0" fill="#021dd5"/><polygon points="530.6,515.5 527.4,513.0 528.8,511.9 532.0,514.4" fill="#120592"/><polygon points="533.9,518.1 530.6,515.5 532.0,514.4 535.3,516.9" fill="#15048c"/><polygon points="537.1,520.6 533.9,518.1 535.3,516.9 538.5,519.4" fill="#170386"/><polygon points="540.4,523.1 537.1,520.6 538.5,519.4 541.7,521.8" fill="#190382"/><polygon points="487.2,481.7 484.0,479.1 485.6,479.0 488.8,481.6" fill="#0318d9"/><polygon points="543.7,525.5 540.4,523.1 541.7,521.8 545.0,524.2" fill="#1b027e"/><polygon points="546.9,528.0 543.7,525.5 545.0,524.2 548.2,526.6" fill="#1d017a"/><polygon points="463.1,463.1 459.9,460.6 461.7,461.1 464.8,463.6" fill="#0f6733"/><polygon points="550.2,530.3 546.9,528.0 548.2,526.6 551.5,528.9" fill="#1f0077"/><polygon points="553.5,532.7 550.2,530.3 551.5,528.9 554.8,531.2" fill="#220073"/><polygon points="445.4,449.8 442.2,447.5 444.1,448.6 447.2,450.8" fill="#3b9107" stroke="#235704" stroke-width="0.3"/><polygon points="490.4,484.4 487.2,481.7 488.8,481.6 492.0,484.2" fill="#0315d8"/><polygon points="556.8,535.0 553.5,532.7 554.8,531.2 558.1,533.5" fill="#230071"/><polygon points="560.1,537.2 556.8,535.0 558.1,533.5 561.3,535.7" fill="#24006f"/><polygon points="430.7,439.3 427.6,437.1 429.5,438.6 432.7,440.7" fill="#519102" stroke="#305701" stroke-width="0.3"/><polygon points="563.4,539.4 560.1,537.2 561.3,535.7 564.6,537.9" fill="#25006d"/><polygon points="493.6,487.1 490.4,484.4 492.0,484.2 495.2,486.8" fill="#0411d8"/><polygon points="466.3,465.7 463.1,463.1 464.8,463.6 468.0,466.1" fill="#0b5f42"/><polygon points="566.7,541.6 563.4,539.4 564.6,537.9 567.9,540.0" fill="#25006c"/><polygon points="570.0,543.7 566.7,541.6 567.9,540.0 571.3,542.1" fill="#26006a"/><polygon points="496.9,489.8 493.6,487.1 495.2,486.8 498.4,489.4" fill="#040fd6"/><polygon points="448.6,452.3 445.4,449.8 447.2,450.8 450.4,453.2" fill="#34890b" stroke="#1f5206" stroke-width="0.3"/><polygon points="500.1,492.5 496.9,489.8 498.4,489.4 501.6,492.0" fill="#050ed1"/><polygon points="469.5,468.3 466.3,465.7 468.0,466.1 471.2,468.6" fill="#065751"/><polygon points="503.3,495.2 500.1,492.5 501.6,492.0 504.8,494.7" fill="#050ccd"/><polygon points="433.9,441.5 430.7,439.3 432.7,440.7 435.8,442.9" fill="#4e9201" stroke="#2e5700" stroke-width="0.3"/><polygon points="506.5,497.9 503.3,495.2 504.8,494.7 508.0,497.3" fill="#060bc9"/><polygon points="472.7,470.9 469.5,468.3 471.2,468.6 474.4,471.2" fill="#015060"/><polygon points="451.8,454.8 448.6,452.3 450.4,453.2 453.6,455.6" fill="#2c820f"/><polygon points="509.8,500.6 506.5,497.9 508.0,497.3 511.2,499.9" fill="#060ac5"/><polygon points="513.0,503.3 509.8,500.6 511.2,499.9 514.5,502.6" fill="#0708bf"/><polygon points="475.9,473.6 472.7,470.9 474.4,471.2 477.6,473.8" fill="#004575"/><polygon points="516.2,506.0 513.0,503.3 514.5,502.6 517.7,505.2" fill="#0808b2"/><polygon points="519.5,508.7 516.2,506.0 517.7,505.2 520.9,507.8" fill="#0a07a4"/><polygon points="422.4,433.2 419.2,431.1 421.3,432.9 424.4,434.9" fill="#578604" stroke="#345002" stroke-width="0.3"/><polygon points="437.1,443.9 433.9,441.5 435.8,442.9 439.0,445.1" fill="#4b9201" stroke="#2d5700" stroke-width="0.3"/><polygon points="522.7,511.3 519.5,508.7 520.9,507.8 524.2,510.4" fill="#0c069b"/><polygon points="455.0,457.3 451.8,454.8 453.6,455.6 456.7,458.1" fill="#257a13"/><polygon points="526.0,514.0 522.7,511.3 524.2,510.4 527.4,513.0" fill="#0e0694"/><polygon points="479.2,476.3 475.9,473.6 477.6,473.8 480.8,476.4" fill="#01378f"/><polygon points="529.2,516.6 526.0,514.0 527.4,513.0 530.6,515.5" fill="#10058e"/><polygon points="532.5,519.2 529.2,516.6 530.6,515.5 533.9,518.1" fill="#120488"/><polygon points="535.8,521.8 532.5,519.2 533.9,518.1 537.1,520.6" fill="#150381"/><polygon points="539.0,524.3 535.8,521.8 537.1,520.6 540.4,523.1" fill="#17037d"/><polygon points="542.3,526.8 539.0,524.3 540.4,523.1 543.7,525.5" fill="#190279"/><polygon points="482.4,479.0 479.2,476.3 480.8,476.4 484.0,479.1" fill="#012aa8"/><polygon points="545.6,529.3 542.3,526.8 543.7,525.5 546.9,528.0" fill="#1b0175"/><polygon points="548.9,531.7 545.6,529.3 546.9,528.0 550.2,530.3" fill="#1d0172"/><polygon points="458.2,459.9 455.0,457.3 456.7,458.1 459.9,460.6" fill="#1d7217"/><polygon points="552.2,534.1 548.9,531.7 550.2,530.3 553.5,532.7" fill="#1f006e"/><polygon points="440.3,446.3 437.1,443.9 439.0,445.1 442.2,447.5" fill="#479300" stroke="#2a5800" stroke-width="0.3"/><polygon points="555.5,536.4 552.2,534.1 553.5,532.7 556.8,535.0" fill="#21006b"/><polygon points="558.8,538.7 555.5,536.4 556.8,535.0 560.1,537.2" fill="#22006a"/><polygon points="485.6,481.8 482.4,479.0 484.0,479.1 487.2,481.7" fill="#021dc2"/><polygon points="425.6,435.4 422.4,433.2 424.4,434.9 427.6,437.1" fill="#558703" stroke="#335101" stroke-width="0.3"/><polygon points="562.1,540.9 558.8,538.7 560.1,537.2 563.4,539.4" fill="#220068"/><polygon points="565.4,543.1 562.1,540.9 563.4,539.4 566.7,541.6" fill="#230067"/><polygon points="568.8,545.2 565.4,543.1 566.7,541.6 570.0,543.7" fill="#240065"/><polygon points="488.8,484.5 485.6,481.8 487.2,481.7 490.4,484.4" fill="#0216c9"/><polygon points="461.4,462.5 458.2,459.9 459.9,460.6 463.1,463.1" fill="#166b1b"/><polygon points="492.1,487.3 488.8,484.5 490.4,484.4 493.6,487.1" fill="#0313c8"/><polygon points="443.5,448.7 440.3,446.3 442.2,447.5 445.4,449.8" fill="#449400" stroke="#285800" stroke-width="0.3"/><polygon points="495.3,490.1 492.1,487.3 493.6,487.1 496.9,489.8" fill="#0310c7"/><polygon points="464.6,465.2 461.4,462.5 463.1,463.1 466.3,465.7" fill="#106327"/><polygon points="428.8,437.7 425.6,435.4 427.6,437.1 430.7,439.3" fill="#528703" stroke="#315101" stroke-width="0.3"/><polygon points="498.5,492.9 495.3,490.1 496.9,489.8 500.1,492.5" fill="#040ec4"/><polygon points="501.8,495.6 498.5,492.9 500.1,492.5 503.3,495.2" fill="#040cc0"/><polygon points="446.7,451.2 443.5,448.7 445.4,449.8 448.6,452.3" fill="#3d8c03" stroke="#245401" stroke-width="0.3"/><polygon points="467.8,467.9 464.6,465.2 466.3,465.7 469.5,468.3" fill="#0c5b36"/><polygon points="505.0,498.4 501.8,495.6 503.3,495.2 506.5,497.9" fill="#050bbc"/><polygon points="508.3,501.2 505.0,498.4 506.5,497.9 509.8,500.6" fill="#050ab9"/><polygon points="511.5,504.0 508.3,501.2 509.8,500.6 513.0,503.3" fill="#0609b5"/><polygon points="471.0,470.6 467.8,467.9 469.5,468.3 472.7,470.9" fill="#075344"/><polygon points="432.0,440.1 428.8,437.7 430.7,439.3 433.9,441.5" fill="#4f8802" stroke="#2f5101" stroke-width="0.3"/><polygon points="514.8,506.7 511.5,504.0 513.0,503.3 516.2,506.0" fill="#0708ad"/><polygon points="518.0,509.5 514.8,506.7 516.2,506.0 519.5,508.7" fill="#0807a0"/><polygon points="449.9,453.8 446.7,451.2 448.6,452.3 451.8,454.8" fill="#358407"/><polygon points="521.3,512.2 518.0,509.5 519.5,508.7 522.7,511.3" fill="#090694"/><polygon points="524.6,514.9 521.3,512.2 522.7,511.3 526.0,514.0" fill="#0b068c"/><polygon points="474.3,473.4 471.0,470.6 472.7,470.9 475.9,473.6" fill="#034b53"/><polygon points="527.8,517.6 524.6,514.9 526.0,514.0 529.2,516.6" fill="#0e0586"/><polygon points="531.1,520.2 527.8,517.6 529.2,516.6 532.5,519.2" fill="#100480"/><polygon points="534.4,522.8 531.1,520.2 532.5,519.2 535.8,521.8" fill="#12037a"/><polygon points="537.7,525.4 534.4,522.8 535.8,521.8 539.0,524.3" fill="#140375"/><polygon points="541.0,528.0 537.7,525.4 539.0,524.3 542.3,526.8" fill="#160271"/><polygon points="544.3,530.5 541.0,528.0 542.3,526.8 545.6,529.3" fill="#18016e"/><polygon points="547.6,533.0 544.3,530.5 545.6,529.3 548.9,531.7" fill="#1a016a"/><polygon points="550.9,535.4 547.6,533.0 548.9,531.7 552.2,534.1" fill="#1c0067"/><polygon points="477.5,476.1 474.3,473.4 475.9,473.6 479.2,476.3" fill="#004264"/><polygon points="554.2,537.8 550.9,535.4 552.2,534.1 555.5,536.4" fill="#1d0064"/><polygon points="453.1,456.4 449.9,453.8 451.8,454.8 455.0,457.3" fill="#2d7c0b"/><polygon points="435.2,442.5 432.0,440.1 433.9,441.5 437.1,443.9" fill="#4c8802" stroke="#2d5101" stroke-width="0.3"/><polygon points="557.5,540.1 554.2,537.8 555.5,536.4 558.8,538.7" fill="#1f0062"/><polygon points="420.3,431.5 417.1,429.3 419.2,431.1 422.4,433.2" fill="#577d04" stroke="#344b02" stroke-width="0.3"/><polygon points="560.8,542.3 557.5,540.1 558.8,538.7 562.1,540.9" fill="#1f0061"/><polygon points="564.2,544.6 560.8,542.3 562.1,540.9 565.4,543.1" fill="#20005f"/><polygon points="480.7,478.9 477.5,476.1 479.2,476.3 482.4,479.0" fill="#00357c"/><polygon points="567.5,546.7 564.2,544.6 565.4,543.1 568.8,545.2" fill="#21005e"/><polygon points="456.4,459.1 453.1,456.4 455.0,457.3 458.2,459.9" fill="#26740f"/><polygon points="484.0,481.8 480.7,478.9 482.4,479.0 485.6,481.8" fill="#012894"/><polygon points="438.4,445.0 435.2,442.5 437.1,443.9 440.3,446.3" fill="#498901" stroke="#2b5200" stroke-width="0.3"/><polygon points="487.2,484.6 484.0,481.8 485.6,481.8 488.8,484.5" fill="#021bab"/><polygon points="423.5,433.7 420.3,431.5 422.4,433.2 425.6,435.4" fill="#547d04" stroke="#324b02" stroke-width="0.3"/><polygon points="459.6,461.8 456.4,459.1 458.2,459.9 461.4,462.5" fill="#1e6c13"/><polygon points="490.5,487.4 487.2,484.6 488.8,484.5 492.1,487.3" fill="#0214b3"/><polygon points="493.7,490.3 490.5,487.4 492.1,487.3 495.3,490.1" fill="#0311b1"/><polygon points="441.6,447.5 438.4,445.0 440.3,446.3 443.5,448.7" fill="#458a01" stroke="#295200" stroke-width="0.3"/><polygon points="497.0,493.1 493.7,490.3 495.3,490.1 498.5,492.9" fill="#030eb1"/><polygon points="462.8,464.6 459.6,461.8 461.4,462.5 464.6,465.2" fill="#176417"/><polygon points="500.2,496.0 497.0,493.1 498.5,492.9 501.8,495.6" fill="#030caf"/><polygon points="503.5,498.9 500.2,496.0 501.8,495.6 505.0,498.4" fill="#040bab"/><polygon points="426.7,436.1 423.5,433.7 425.6,435.4 428.8,437.7" fill="#517e03" stroke="#304b01" stroke-width="0.3"/><polygon points="506.8,501.7 503.5,498.9 505.0,498.4 508.3,501.2" fill="#040aa7"/><polygon points="466.1,467.3 462.8,464.6 464.6,465.2 467.8,467.9" fill="#105c1e"/><polygon points="510.0,504.5 506.8,501.7 508.3,501.2 511.5,504.0" fill="#0509a4"/><polygon points="444.8,450.1 441.6,447.5 443.5,448.7 446.7,451.2" fill="#418800" stroke="#275100" stroke-width="0.3"/><polygon points="513.3,507.4 510.0,504.5 511.5,504.0 514.8,506.7" fill="#0507a0"/><polygon points="516.6,510.2 513.3,507.4 514.8,506.7 518.0,509.5" fill="#060797"/><polygon points="519.9,512.9 516.6,510.2 518.0,509.5 521.3,512.2" fill="#07068c"/><polygon points="523.1,515.7 519.9,512.9 521.3,512.2 524.6,514.9" fill="#090581"/><polygon points="526.4,518.4 523.1,515.7 524.6,514.9 527.8,517.6" fill="#0b057b"/><polygon points="469.3,470.2 466.1,467.3 467.8,467.9 471.0,470.6" fill="#0c542c"/><polygon points="529.7,521.2 526.4,518.4 527.8,517.6 531.1,520.2" fill="#0d0476"/><polygon points="533.0,523.8 529.7,521.2 531.1,520.2 534.4,522.8" fill="#0f0370"/><polygon points="536.3,526.5 533.0,523.8 534.4,522.8 537.7,525.4" fill="#10036b"/><polygon points="539.6,529.1 536.3,526.5 537.7,525.4 541.0,528.0" fill="#120267"/><polygon points="542.9,531.6 539.6,529.1 541.0,528.0 544.3,530.5" fill="#140264"/><polygon points="546.2,534.1 542.9,531.6 544.3,530.5 547.6,533.0" fill="#160161"/><polygon points="549.5,536.6 546.2,534.1 547.6,533.0 550.9,535.4" fill="#18005e"/><polygon points="552.9,539.0 549.5,536.6 550.9,535.4 554.2,537.8" fill="#19005b"/><polygon points="430.0,438.5 426.7,436.1 428.8,437.7 432.0,440.1" fill="#4e7f03" stroke="#2e4c01" stroke-width="0.3"/><polygon points="556.2,541.4 552.9,539.0 554.2,537.8 557.5,540.1" fill="#1b0058"/><polygon points="448.1,452.8 444.8,450.1 446.7,451.2 449.9,453.8" fill="#3b8401"/><polygon points="559.6,543.7 556.2,541.4 557.5,540.1 560.8,542.3" fill="#1b0057"/><polygon points="472.6,473.0 469.3,470.2 471.0,470.6 474.3,473.4" fill="#074c3a"/><polygon points="562.9,545.9 559.6,543.7 560.8,542.3 564.2,544.6" fill="#1c0056"/><polygon points="566.3,548.1 562.9,545.9 564.2,544.6 567.5,546.7" fill="#1d0054"/><polygon points="475.8,475.9 472.6,473.0 474.3,473.4 477.5,476.1" fill="#034447"/><polygon points="451.3,455.5 448.1,452.8 449.9,453.8 453.1,456.4" fill="#337b05"/><polygon points="479.1,478.7 475.8,475.9 477.5,476.1 480.7,478.9" fill="#003b55"/><polygon points="433.2,441.0 430.0,438.5 432.0,440.1 435.2,442.5" fill="#4b7f02" stroke="#2d4c01" stroke-width="0.3"/><polygon points="418.2,429.6 415.0,427.3 417.1,429.3 420.3,431.5" fill="#557405" stroke="#334503" stroke-width="0.3"/><polygon points="482.3,481.6 479.1,478.7 480.7,478.9 484.0,481.8" fill="#002f6b"/><polygon points="454.6,458.2 451.3,455.5 453.1,456.4 456.4,459.1" fill="#2b7209"/><polygon points="485.6,484.6 482.3,481.6 484.0,481.8 487.2,484.6" fill="#01237f"/><polygon points="488.9,487.5 485.6,484.6 487.2,484.6 490.5,487.4" fill="#011794"/><polygon points="436.4,443.6 433.2,441.0 435.2,442.5 438.4,445.0" fill="#488002" stroke="#2b4c01" stroke-width="0.3"/><polygon points="457.8,461.0 454.6,458.2 456.4,459.1 459.6,461.8" fill="#246a0c"/><polygon points="492.1,490.4 488.9,487.5 490.5,487.4 493.7,490.3" fill="#02119a"/><polygon points="421.5,432.0 418.2,429.6 420.3,431.5 423.5,433.7" fill="#537504" stroke="#314602" stroke-width="0.3"/><polygon points="495.4,493.3 492.1,490.4 493.7,490.3 497.0,493.1" fill="#020e98"/><polygon points="498.7,496.3 495.4,493.3 497.0,493.1 500.2,496.0" fill="#030c98"/><polygon points="502.0,499.2 498.7,496.3 500.2,496.0 503.5,498.9" fill="#030a96"/><polygon points="461.1,463.9 457.8,461.0 459.6,461.8 462.8,464.6" fill="#1c6110"/><polygon points="439.7,446.2 436.4,443.6 438.4,445.0 441.6,447.5" fill="#458001" stroke="#294c00" stroke-width="0.3"/><polygon points="505.2,502.1 502.0,499.2 503.5,498.9 506.8,501.7" fill="#030993"/><polygon points="508.5,505.0 505.2,502.1 506.8,501.7 510.0,504.5" fill="#040890"/><polygon points="511.8,507.9 508.5,505.0 510.0,504.5 513.3,507.4" fill="#04078d"/><polygon points="515.1,510.8 511.8,507.9 513.3,507.4 516.6,510.2" fill="#05068a"/><polygon points="518.4,513.6 515.1,510.8 516.6,510.2 519.9,512.9" fill="#060580"/><polygon points="521.7,516.5 518.4,513.6 519.9,512.9 523.1,515.7" fill="#070575"/><polygon points="525.0,519.2 521.7,516.5 523.1,515.7 526.4,518.4" fill="#08046e"/><polygon points="528.3,522.0 525.0,519.2 526.4,518.4 529.7,521.2" fill="#0a0469"/><polygon points="464.3,466.7 461.1,463.9 462.8,464.6 466.1,467.3" fill="#155913"/><polygon points="531.6,524.7 528.3,522.0 529.7,521.2 533.0,523.8" fill="#0b0364"/><polygon points="534.9,527.4 531.6,524.7 533.0,523.8 536.3,526.5" fill="#0d035f"/><polygon points="538.2,530.1 534.9,527.4 536.3,526.5 539.6,529.1" fill="#0f025b"/><polygon points="541.6,532.7 538.2,530.1 539.6,529.1 542.9,531.6" fill="#100258"/><polygon points="544.9,535.2 541.6,532.7 542.9,531.6 546.2,534.1" fill="#120155"/><polygon points="548.2,537.8 544.9,535.2 546.2,534.1 549.5,536.6" fill="#130152"/><polygon points="551.6,540.2 548.2,537.8 549.5,536.6 552.9,539.0" fill="#150050"/><polygon points="424.7,434.4 421.5,432.0 423.5,433.7 426.7,436.1" fill="#507604" stroke="#304602" stroke-width="0.3"/><polygon points="554.9,542.6 551.6,540.2 552.9,539.0 556.2,541.4" fill="#16004d"/><polygon points="558.3,544.9 554.9,542.6 556.2,541.4 559.6,543.7" fill="#17004c"/><polygon points="561.6,547.2 558.3,544.9 559.6,543.7 562.9,545.9" fill="#18004a"/><polygon points="442.9,448.9 439.7,446.2 441.6,447.5 444.8,450.1" fill="#407e01" stroke="#264b00" stroke-width="0.3"/><polygon points="565.0,549.4 561.6,547.2 562.9,545.9 566.3,548.1" fill="#180049"/><polygon points="467.6,469.6 464.3,466.7 466.1,467.3 469.3,470.2" fill="#0f5119"/><polygon points="470.9,472.5 467.6,469.6 469.3,470.2 472.6,473.0" fill="#0a4925"/><polygon points="446.2,451.6 442.9,448.9 444.8,450.1 448.1,452.8" fill="#3b7b00"/><polygon points="428.0,436.9 424.7,434.4 426.7,436.1 430.0,438.5" fill="#4d7603" stroke="#2e4601" stroke-width="0.3"/><polygon points="474.1,475.5 470.9,472.5 472.6,473.0 475.8,475.9" fill="#064231"/><polygon points="477.4,478.5 474.1,475.5 475.8,475.9 479.1,478.7" fill="#033a3d"/><polygon points="449.5,454.4 446.2,451.6 448.1,452.8 451.3,455.5" fill="#367800"/><polygon points="480.7,481.4 477.4,478.5 479.1,478.7 482.3,481.6" fill="#003249"/><polygon points="431.2,439.5 428.0,436.9 430.0,438.5 433.2,441.0" fill="#4a7703" stroke="#2c4701" stroke-width="0.3"/><polygon points="484.0,484.4 480.7,481.4 482.3,481.6 485.6,484.6" fill="#00275b"/><polygon points="416.1,427.7 412.9,425.3 415.0,427.3 418.2,429.6" fill="#536e05" stroke="#314203" stroke-width="0.3"/><polygon points="452.7,457.3 449.5,454.4 451.3,455.5 454.6,458.2" fill="#2e6e04"/><polygon points="487.3,487.4 484.0,484.4 485.6,484.6 488.9,487.5" fill="#011c6c"/><polygon points="490.5,490.4 487.3,487.4 488.9,487.5 492.1,490.4" fill="#01127c"/><polygon points="493.8,493.4 490.5,490.4 492.1,490.4 495.4,493.3" fill="#010e7f"/><polygon points="434.5,442.1 431.2,439.5 433.2,441.0 436.4,443.6" fill="#477702" stroke="#2a4701" stroke-width="0.3"/><polygon points="456.0,460.2 452.7,457.3 454.6,458.2 457.8,461.0" fill="#276607"/><polygon points="497.1,496.4 493.8,493.4 495.4,493.3 498.7,496.3" fill="#020b7f"/><polygon points="500.4,499.4 497.1,496.4 498.7,496.3 502.0,499.2" fill="#02097f"/><polygon points="503.7,502.4 500.4,499.4 502.0,499.2 505.2,502.1" fill="#02087d"/><polygon points="507.0,505.4 503.7,502.4 505.2,502.1 508.5,505.0" fill="#03077a"/><polygon points="419.4,430.1 416.1,427.7 418.2,429.6 421.5,432.0" fill="#506e05" stroke="#304203" stroke-width="0.3"/><polygon points="510.3,508.4 507.0,505.4 508.5,505.0 511.8,507.9" fill="#030677"/><polygon points="513.6,511.3 510.3,508.4 511.8,507.9 515.1,510.8" fill="#040574"/><polygon points="543.5,536.3 540.2,533.7 541.6,532.7 544.9,535.2" fill="#0e0148"/><polygon points="540.2,533.7 536.8,531.0 538.2,530.1 541.6,532.7" fill="#0d024a"/><polygon points="536.8,531.0 533.5,528.3 534.9,527.4 538.2,530.1" fill="#0b024e"/><polygon points="546.9,538.8 543.5,536.3 544.9,535.2 548.2,537.8" fill="#0f0146"/><polygon points="533.5,528.3 530.2,525.6 531.6,524.7 534.9,527.4" fill="#0a0252"/><polygon points="516.9,514.2 513.6,511.3 515.1,510.8 518.4,513.6" fill="#040570"/><polygon points="550.2,541.3 546.9,538.8 548.2,537.8 551.6,540.2" fill="#110044"/><polygon points="530.2,525.6 526.9,522.8 528.3,522.0 531.6,524.7" fill="#090356"/><polygon points="520.2,517.1 516.9,514.2 518.4,513.6 521.7,516.5" fill="#050467"/><polygon points="526.9,522.8 523.5,520.0 525.0,519.2 528.3,522.0" fill="#07035a"/><polygon points="523.5,520.0 520.2,517.1 521.7,516.5 525.0,519.2" fill="#06045f"/><polygon points="553.6,543.7 550.2,541.3 551.6,540.2 554.9,542.6" fill="#120042"/><polygon points="459.3,463.1 456.0,460.2 457.8,461.0 461.1,463.9" fill="#1f5d0b"/><polygon points="557.0,546.1 553.6,543.7 554.9,542.6 558.3,544.9" fill="#130040"/><polygon points="560.4,548.4 557.0,546.1 558.3,544.9 561.6,547.2" fill="#14003f"/><polygon points="563.7,550.6 560.4,548.4 561.6,547.2 565.0,549.4" fill="#14003e"/><polygon points="437.7,444.8 434.5,442.1 436.4,443.6 439.7,446.2" fill="#447802" stroke="#284801" stroke-width="0.3"/><polygon points="462.6,466.0 459.3,463.1 461.1,463.9 464.3,466.7" fill="#18550e"/><polygon points="422.6,432.6 419.4,430.1 421.5,432.0 424.7,434.4" fill="#4e6f04" stroke="#2e4202" stroke-width="0.3"/><polygon points="465.8,469.0 462.6,466.0 464.3,466.7 467.6,469.6" fill="#124d11"/><polygon points="441.0,447.6 437.7,444.8 439.7,446.2 442.9,448.9" fill="#3f7501" stroke="#254600" stroke-width="0.3"/><polygon points="469.1,472.0 465.8,469.0 467.6,469.6 470.9,472.5" fill="#0c4516"/><polygon points="444.3,450.4 441.0,447.6 442.9,448.9 446.2,451.6" fill="#3a7200"/><polygon points="472.4,475.0 469.1,472.0 470.9,472.5 474.1,475.5" fill="#083d21"/><polygon points="425.9,435.2 422.6,432.6 424.7,434.4 428.0,436.9" fill="#4b6f04" stroke="#2d4202" stroke-width="0.3"/><polygon points="475.7,478.1 472.4,475.0 474.1,475.5 477.4,478.5" fill="#05362b"/><polygon points="479.0,481.1 475.7,478.1 477.4,478.5 480.7,481.4" fill="#012f34"/><polygon points="447.6,453.3 444.3,450.4 446.2,451.6 449.5,454.4" fill="#356e00"/><polygon points="482.3,484.2 479.0,481.1 480.7,481.4 484.0,484.4" fill="#00273f"/><polygon points="429.2,437.9 425.9,435.2 428.0,436.9 431.2,439.5" fill="#487003" stroke="#2b4301" stroke-width="0.3"/><polygon points="485.6,487.3 482.3,484.2 484.0,484.4 487.3,487.4" fill="#001d4d"/><polygon points="450.9,456.2 447.6,453.3 449.5,454.4 452.7,457.3" fill="#2f6901"/><polygon points="488.9,490.4 485.6,487.3 487.3,487.4 490.5,490.4" fill="#00145a"/><polygon points="414.0,425.6 410.7,423.2 412.9,425.3 416.1,427.7" fill="#516905" stroke="#303f03" stroke-width="0.3"/><polygon points="492.2,493.5 488.9,490.4 490.5,490.4 493.8,493.4" fill="#010c66"/><polygon points="495.5,496.5 492.2,493.5 493.8,493.4 497.1,496.4" fill="#010a66"/><polygon points="545.5,539.8 542.2,537.2 543.5,536.3 546.9,538.8" fill="#0c0139"/><polygon points="548.9,542.3 545.5,539.8 546.9,538.8 550.2,541.3" fill="#0d0037"/><polygon points="498.8,499.6 495.5,496.5 497.1,496.4 500.4,499.4" fill="#010866"/><polygon points="542.2,537.2 538.8,534.5 540.2,533.7 543.5,536.3" fill="#0b013b"/><polygon points="538.8,534.5 535.4,531.8 536.8,531.0 540.2,533.7" fill="#0a013d"/><polygon points="552.3,544.7 548.9,542.3 550.2,541.3 553.6,543.7" fill="#0e0035"/><polygon points="535.4,531.8 532.1,529.1 533.5,528.3 536.8,531.0" fill="#090240"/><polygon points="555.7,547.1 552.3,544.7 553.6,543.7 557.0,546.1" fill="#0f0034"/><polygon points="532.1,529.1 528.8,526.3 530.2,525.6 533.5,528.3" fill="#070243"/><polygon points="502.2,502.7 498.8,499.6 500.4,499.4 503.7,502.4" fill="#020765"/><polygon points="528.8,526.3 525.4,523.4 526.9,522.8 530.2,525.6" fill="#060247"/><polygon points="559.1,549.5 555.7,547.1 557.0,546.1 560.4,548.4" fill="#0f0033"/><polygon points="505.5,505.7 502.2,502.7 503.7,502.4 507.0,505.4" fill="#020663"/><polygon points="525.4,523.4 522.1,520.6 523.5,520.0 526.9,522.8" fill="#05034a"/><polygon points="522.1,520.6 518.8,517.7 520.2,517.1 523.5,520.0" fill="#040350"/><polygon points="508.8,508.7 505.5,505.7 507.0,505.4 510.3,508.4" fill="#020561"/><polygon points="454.2,459.2 450.9,456.2 452.7,457.3 456.0,460.2" fill="#276004"/><polygon points="518.8,517.7 515.4,514.7 516.9,514.2 520.2,517.1" fill="#030457"/><polygon points="512.1,511.7 508.8,508.7 510.3,508.4 513.6,511.3" fill="#03055f"/><polygon points="515.4,514.7 512.1,511.7 513.6,511.3 516.9,514.2" fill="#03045d"/><polygon points="562.5,551.7 559.1,549.5 560.4,548.4 563.7,550.6" fill="#100032"/><polygon points="432.5,440.6 429.2,437.9 431.2,439.5 434.5,442.1" fill="#457003" stroke="#294301" stroke-width="0.3"/><polygon points="457.5,462.2 454.2,459.2 456.0,460.2 459.3,463.1" fill="#205707"/><polygon points="417.3,428.2 414.0,425.6 416.1,427.7 419.4,430.1" fill="#4e6905" stroke="#2e3f03" stroke-width="0.3"/><polygon points="435.8,443.4 432.5,440.6 434.5,442.1 437.7,444.8" fill="#427102" stroke="#274301" stroke-width="0.3"/><polygon points="460.8,465.2 457.5,462.2 459.3,463.1 462.6,466.0" fill="#1a4f0a"/><polygon points="464.1,468.3 460.8,465.2 462.6,466.0 465.8,469.0" fill="#13460c"/><polygon points="420.5,430.7 417.3,428.2 419.4,430.1 422.6,432.6" fill="#4c6a04" stroke="#2d3f02" stroke-width="0.3"/><polygon points="439.1,446.2 435.8,443.4 437.7,444.8 441.0,447.6" fill="#3d6e01" stroke="#244200" stroke-width="0.3"/><polygon points="467.4,471.4 464.1,468.3 465.8,469.0 469.1,472.0" fill="#0d3f0f"/><polygon points="470.7,474.5 467.4,471.4 469.1,472.0 472.4,475.0" fill="#093715"/><polygon points="442.4,449.1 439.1,446.2 441.0,447.6 444.3,450.4" fill="#386a01"/><polygon points="474.0,477.6 470.7,474.5 472.4,475.0 475.7,478.1" fill="#06301e"/><polygon points="423.8,433.4 420.5,430.7 422.6,432.6 425.9,435.2" fill="#496a04" stroke="#2b3f02" stroke-width="0.3"/><polygon points="477.3,480.8 474.0,477.6 475.7,478.1 479.0,481.1" fill="#032925"/><polygon points="480.6,483.9 477.3,480.8 479.0,481.1 482.3,484.2" fill="#00232c"/><polygon points="445.7,452.1 442.4,449.1 444.3,450.4 447.6,453.3" fill="#336600"/><polygon points="484.0,487.1 480.6,483.9 482.3,484.2 485.6,487.3" fill="#001b36"/><polygon points="487.3,490.2 484.0,487.1 485.6,487.3 488.9,490.4" fill="#00133f"/><polygon points="547.5,543.2 544.2,540.6 545.5,539.8 548.9,542.3" fill="#09002b"/><polygon points="544.2,540.6 540.8,538.0 542.2,537.2 545.5,539.8" fill="#09002d"/><polygon points="550.9,545.6 547.5,543.2 548.9,542.3 552.3,544.7" fill="#0a002a"/><polygon points="540.8,538.0 537.4,535.3 538.8,534.5 542.2,537.2" fill="#08012e"/><polygon points="554.3,548.1 550.9,545.6 552.3,544.7 555.7,547.1" fill="#0b0029"/><polygon points="537.4,535.3 534.0,532.5 535.4,531.8 538.8,534.5" fill="#070130"/><polygon points="557.8,550.4 554.3,548.1 555.7,547.1 559.1,549.5" fill="#0c0027"/><polygon points="534.0,532.5 530.7,529.7 532.1,529.1 535.4,531.8" fill="#060133"/><polygon points="490.6,493.4 487.3,490.2 488.9,490.4 492.2,493.5" fill="#000c49"/><polygon points="427.1,436.2 423.8,433.4 425.9,435.2 429.2,437.9" fill="#476b03" stroke="#2a4001" stroke-width="0.3"/><polygon points="530.7,529.7 527.3,526.9 528.8,526.3 532.1,529.1" fill="#050235"/><polygon points="561.2,552.7 557.8,550.4 559.1,549.5 562.5,551.7" fill="#0c0027"/><polygon points="527.3,526.9 524.0,524.0 525.4,523.4 528.8,526.3" fill="#040238"/><polygon points="493.9,496.5 490.6,493.4 492.2,493.5 495.5,496.5" fill="#01094f"/><polygon points="524.0,524.0 520.6,521.1 522.1,520.6 525.4,523.4" fill="#03023b"/><polygon points="449.0,455.1 445.7,452.1 447.6,453.3 450.9,456.2" fill="#2e6200"/><polygon points="520.6,521.1 517.3,518.1 518.8,517.7 522.1,520.6" fill="#030240"/><polygon points="497.3,499.7 493.9,496.5 495.5,496.5 498.8,499.6" fill="#01074f"/><polygon points="517.3,518.1 513.9,515.1 515.4,514.7 518.8,517.7" fill="#020346"/><polygon points="500.6,502.8 497.3,499.7 498.8,499.6 502.2,502.7" fill="#01064f"/><polygon points="513.9,515.1 510.6,512.1 512.1,511.7 515.4,514.7" fill="#020348"/><polygon points="503.9,505.9 500.6,502.8 502.2,502.7 505.5,505.7" fill="#01054e"/><polygon points="510.6,512.1 507.3,509.0 508.8,508.7 512.1,511.7" fill="#02044a"/><polygon points="507.3,509.0 503.9,505.9 505.5,505.7 508.8,508.7" fill="#02044c"/><polygon points="411.8,423.6 408.5,421.1 410.7,423.2 414.0,425.6" fill="#506605" stroke="#303d03" stroke-width="0.3"/><polygon points="452.3,458.1 449.0,455.1 450.9,456.2 454.2,459.2" fill="#275a02"/><polygon points="430.4,439.0 427.1,436.2 429.2,437.9 432.5,440.6" fill="#446b03" stroke="#284001" stroke-width="0.3"/><polygon points="455.6,461.2 452.3,458.1 454.2,459.2 457.5,462.2" fill="#205105"/><polygon points="415.1,426.2 411.8,423.6 414.0,425.6 417.3,428.2" fill="#4d6605" stroke="#2e3d03" stroke-width="0.3"/><polygon points="458.9,464.3 455.6,461.2 457.5,462.2 460.8,465.2" fill="#194807"/><polygon points="433.8,441.8 430.4,439.0 432.5,440.6 435.8,443.4" fill="#416c02" stroke="#274001" stroke-width="0.3"/><polygon points="462.3,467.5 458.9,464.3 460.8,465.2 464.1,468.3" fill="#13400a"/><polygon points="437.1,444.8 433.8,441.8 435.8,443.4 439.1,446.2" fill="#3c6802" stroke="#243e01" stroke-width="0.3"/><polygon points="418.4,428.8 415.1,426.2 417.3,428.2 420.5,430.7" fill="#4b6704" stroke="#2d3d02" stroke-width="0.3"/><polygon points="465.6,470.7 462.3,467.5 464.1,468.3 467.4,471.4" fill="#0e380c"/><polygon points="468.9,473.8 465.6,470.7 467.4,471.4 470.7,474.5" fill="#09310e"/><polygon points="472.3,477.1 468.9,473.8 470.7,474.5 474.0,477.6" fill="#062a15"/><polygon points="440.4,447.8 437.1,444.8 439.1,446.2 442.4,449.1" fill="#366401"/><polygon points="475.6,480.3 472.3,477.1 474.0,477.6 477.3,480.8" fill="#03241b"/><polygon points="421.7,431.6 418.4,428.8 420.5,430.7 423.8,433.4" fill="#486704" stroke="#2b3d02" stroke-width="0.3"/><polygon points="546.2,543.9 542.8,541.3 544.2,540.6 547.5,543.2" fill="#070021"/><polygon points="549.6,546.4 546.2,543.9 547.5,543.2 550.9,545.6" fill="#070020"/><polygon points="478.9,483.5 475.6,480.3 477.3,480.8 480.6,483.9" fill="#011e20"/><polygon points="542.8,541.3 539.4,538.6 540.8,538.0 544.2,540.6" fill="#060022"/><polygon points="553.0,548.9 549.6,546.4 550.9,545.6 554.3,548.1" fill="#08001f"/><polygon points="539.4,538.6 536.0,535.9 537.4,535.3 540.8,538.0" fill="#060123"/><polygon points="556.4,551.3 553.0,548.9 554.3,548.1 557.8,550.4" fill="#08001e"/><polygon points="536.0,535.9 532.6,533.1 534.0,532.5 537.4,535.3" fill="#050125"/><polygon points="559.9,553.6 556.4,551.3 557.8,550.4 561.2,552.7" fill="#09001d"/><polygon points="532.6,533.1 529.2,530.3 530.7,529.7 534.0,532.5" fill="#040127"/><polygon points="482.3,486.7 478.9,483.5 480.6,483.9 484.0,487.1" fill="#001726"/><polygon points="529.2,530.3 525.9,527.4 527.3,526.9 530.7,529.7" fill="#040129"/><polygon points="443.7,450.8 440.4,447.8 442.4,449.1 445.7,452.1" fill="#315f00"/><polygon points="525.9,527.4 522.5,524.5 524.0,524.0 527.3,526.9" fill="#03012b"/><polygon points="485.6,490.0 482.3,486.7 484.0,487.1 487.3,490.2" fill="#00102c"/><polygon points="522.5,524.5 519.1,521.5 520.6,521.1 524.0,524.0" fill="#02022d"/><polygon points="519.1,521.5 515.8,518.5 517.3,518.1 520.6,521.1" fill="#020232"/><polygon points="489.0,493.2 485.6,490.0 487.3,490.2 490.6,493.4" fill="#000b34"/><polygon points="515.8,518.5 512.4,515.4 513.9,515.1 517.3,518.1" fill="#020236"/><polygon points="492.3,496.4 489.0,493.2 490.6,493.4 493.9,496.5" fill="#00073b"/><polygon points="512.4,515.4 509.1,512.3 510.6,512.1 513.9,515.1" fill="#010237"/><polygon points="495.6,499.6 492.3,496.4 493.9,496.5 497.3,499.7" fill="#00063b"/><polygon points="509.1,512.3 505.7,509.2 507.3,509.0 510.6,512.1" fill="#010338"/><polygon points="505.7,509.2 502.3,506.0 503.9,505.9 507.3,509.0" fill="#01033a"/><polygon points="499.0,502.8 495.6,499.6 497.3,499.7 500.6,502.8" fill="#01053c"/><polygon points="502.3,506.0 499.0,502.8 500.6,502.8 503.9,505.9" fill="#01043b"/><polygon points="425.1,434.4 421.7,431.6 423.8,433.4 427.1,436.2" fill="#466803" stroke="#2a3e01" stroke-width="0.3"/><polygon points="447.1,453.9 443.7,450.8 445.7,452.1 449.0,455.1" fill="#2c5b00"/><polygon points="450.4,457.0 447.1,453.9 449.0,455.1 452.3,458.1" fill="#265500"/><polygon points="428.4,437.3 425.1,434.4 427.1,436.2 430.4,439.0" fill="#436803" stroke="#283e01" stroke-width="0.3"/><polygon points="453.7,460.2 450.4,457.0 452.3,458.1 455.6,461.2" fill="#1f4c03"/><polygon points="457.1,463.4 453.7,460.2 455.6,461.2 458.9,464.3" fill="#194306"/><polygon points="431.7,440.2 428.4,437.3 430.4,439.0 433.8,441.8" fill="#406902" stroke="#263f01" stroke-width="0.3"/><polygon points="460.4,466.6 457.1,463.4 458.9,464.3 462.3,467.5" fill="#133b08"/><polygon points="463.8,469.8 460.4,466.6 462.3,467.5 465.6,470.7" fill="#0d3309"/><polygon points="435.1,443.2 431.7,440.2 433.8,441.8 437.1,444.8" fill="#3b6502" stroke="#233c01" stroke-width="0.3"/><polygon points="467.1,473.1 463.8,469.8 465.6,470.7 468.9,473.8" fill="#092c0b"/><polygon points="470.5,476.4 467.1,473.1 468.9,473.8 472.3,477.1" fill="#062510"/><polygon points="548.3,547.1 544.8,544.5 546.2,543.9 549.6,546.4" fill="#050018"/><polygon points="544.8,544.5 541.4,541.9 542.8,541.3 546.2,543.9" fill="#050019"/><polygon points="551.7,549.6 548.3,547.1 549.6,546.4 553.0,548.9" fill="#060017"/><polygon points="541.4,541.9 538.0,539.2 539.4,538.6 542.8,541.3" fill="#04001a"/><polygon points="555.1,552.0 551.7,549.6 553.0,548.9 556.4,551.3" fill="#060017"/><polygon points="538.0,539.2 534.6,536.4 536.0,535.9 539.4,538.6" fill="#04001b"/><polygon points="534.6,536.4 531.2,533.6 532.6,533.1 536.0,535.9" fill="#04001c"/><polygon points="558.6,554.3 555.1,552.0 556.4,551.3 559.9,553.6" fill="#070016"/><polygon points="473.9,479.7 470.5,476.4 472.3,477.1 475.6,480.3" fill="#031f15"/><polygon points="438.4,446.3 435.1,443.2 437.1,444.8 440.4,447.8" fill="#356001"/><polygon points="531.2,533.6 527.8,530.7 529.2,530.3 532.6,533.1" fill="#03011d"/><polygon points="527.8,530.7 524.4,527.8 525.9,527.4 529.2,530.3" fill="#02011f"/><polygon points="524.4,527.8 521.0,524.8 522.5,524.5 525.9,527.4" fill="#020120"/><polygon points="477.2,483.0 473.9,479.7 475.6,480.3 478.9,483.5" fill="#011919"/><polygon points="521.0,524.8 517.6,521.8 519.1,521.5 522.5,524.5" fill="#020123"/><polygon points="480.6,486.3 477.2,483.0 478.9,483.5 482.3,486.7" fill="#00141c"/><polygon points="517.6,521.8 514.3,518.7 515.8,518.5 519.1,521.5" fill="#010126"/><polygon points="514.3,518.7 510.9,515.6 512.4,515.4 515.8,518.5" fill="#010229"/><polygon points="483.9,489.6 480.6,486.3 482.3,486.7 485.6,490.0" fill="#000e20"/><polygon points="510.9,515.6 507.5,512.4 509.1,512.3 512.4,515.4" fill="#01022a"/><polygon points="487.3,492.9 483.9,489.6 485.6,490.0 489.0,493.2" fill="#000925"/><polygon points="507.5,512.4 504.1,509.2 505.7,509.2 509.1,512.3" fill="#01022b"/><polygon points="490.7,496.2 487.3,492.9 489.0,493.2 492.3,496.4" fill="#00062c"/><polygon points="504.1,509.2 500.8,506.0 502.3,506.0 505.7,509.2" fill="#01032c"/><polygon points="441.8,449.4 438.4,446.3 440.4,447.8 443.7,450.8" fill="#305c00"/><polygon points="500.8,506.0 497.4,502.8 499.0,502.8 502.3,506.0" fill="#00032d"/><polygon points="494.0,499.5 490.7,496.2 492.3,496.4 495.6,499.6" fill="#00042d"/><polygon points="497.4,502.8 494.0,499.5 495.6,499.6 499.0,502.8" fill="#00042d"/><polygon points="445.1,452.6 441.8,449.4 443.7,450.8 447.1,453.9" fill="#2a5700"/><polygon points="448.5,455.8 445.1,452.6 447.1,453.9 450.4,457.0" fill="#255200"/><polygon points="451.9,459.0 448.5,455.8 450.4,457.0 453.7,460.2" fill="#1f4902"/><polygon points="455.2,462.3 451.9,459.0 453.7,460.2 457.1,463.4" fill="#184005"/><polygon points="458.6,465.6 455.2,462.3 457.1,463.4 460.4,466.6" fill="#123807"/><polygon points="462.0,468.9 458.6,465.6 460.4,466.6 463.8,469.8" fill="#0d3008"/><polygon points="546.9,547.6 543.5,545.0 544.8,544.5 548.3,547.1" fill="#040014"/><polygon points="543.5,545.0 540.0,542.4 541.4,541.9 544.8,544.5" fill="#040015"/><polygon points="550.3,550.1 546.9,547.6 548.3,547.1 551.7,549.6" fill="#050013"/><polygon points="540.0,542.4 536.6,539.6 538.0,539.2 541.4,541.9" fill="#040015"/><polygon points="465.3,472.3 462.0,468.9 463.8,469.8 467.1,473.1" fill="#09290a"/><polygon points="553.8,552.5 550.3,550.1 551.7,549.6 555.1,552.0" fill="#050013"/><polygon points="536.6,539.6 533.2,536.8 534.6,536.4 538.0,539.2" fill="#030016"/><polygon points="557.3,554.8 553.8,552.5 555.1,552.0 558.6,554.3" fill="#050012"/><polygon points="533.2,536.8 529.7,534.0 531.2,533.6 534.6,536.4" fill="#030017"/><polygon points="529.7,534.0 526.3,531.0 527.8,530.7 531.2,533.6" fill="#020018"/><polygon points="468.7,475.7 465.3,472.3 467.1,473.1 470.5,476.4" fill="#05220d"/><polygon points="526.3,531.0 522.9,528.1 524.4,527.8 527.8,530.7" fill="#02011a"/><polygon points="522.9,528.1 519.5,525.0 521.0,524.8 524.4,527.8" fill="#01011b"/><polygon points="472.1,479.0 468.7,475.7 470.5,476.4 473.9,479.7" fill="#031c12"/><polygon points="519.5,525.0 516.1,521.9 517.6,521.8 521.0,524.8" fill="#01011d"/><polygon points="516.1,521.9 512.7,518.8 514.3,518.7 517.6,521.8" fill="#010120"/><polygon points="475.5,482.4 472.1,479.0 473.9,479.7 477.2,483.0" fill="#011715"/><polygon points="512.7,518.8 509.3,515.6 510.9,515.6 514.3,518.7" fill="#010122"/><polygon points="509.3,515.6 505.9,512.4 507.5,512.4 510.9,515.6" fill="#010122"/><polygon points="478.8,485.8 475.5,482.4 477.2,483.0 480.6,486.3" fill="#001217"/><polygon points="505.9,512.4 502.5,509.2 504.1,509.2 507.5,512.4" fill="#000223"/><polygon points="482.2,489.2 478.8,485.8 480.6,486.3 483.9,489.6" fill="#000c1a"/><polygon points="502.5,509.2 499.2,505.9 500.8,506.0 504.1,509.2" fill="#000224"/><polygon points="485.6,492.5 482.2,489.2 483.9,489.6 487.3,492.9" fill="#00081d"/><polygon points="499.2,505.9 495.8,502.6 497.4,502.8 500.8,506.0" fill="#000225"/><polygon points="489.0,495.9 485.6,492.5 487.3,492.9 490.7,496.2" fill="#000523"/><polygon points="495.8,502.6 492.4,499.2 494.0,499.5 497.4,502.8" fill="#000325"/><polygon points="492.4,499.2 489.0,495.9 490.7,496.2 494.0,499.5" fill="#000425"/></g><g font-family="Liberation Sans, sans-serif"><line x1="415.8" y1="530.4" x2="413.3" y2="531.0" stroke="#555" stroke-width="0.7"/><text x="412.8" y="534.6" text-anchor="end" font-size="7.6" fill="#2a2a2a">0</text><line x1="414.1" y1="504.7" x2="411.6" y2="505.3" stroke="#555" stroke-width="0.7"/><text x="411.1" y="508.9" text-anchor="end" font-size="7.6" fill="#2a2a2a">10</text><line x1="412.3" y1="478.0" x2="409.8" y2="478.6" stroke="#555" stroke-width="0.7"/><text x="409.3" y="482.2" text-anchor="end" font-size="7.6" fill="#2a2a2a">20</text><line x1="410.5" y1="450.2" x2="408.0" y2="450.8" stroke="#555" stroke-width="0.7"/><text x="407.5" y="454.4" text-anchor="end" font-size="7.6" fill="#2a2a2a">30</text><line x1="408.5" y1="421.4" x2="406.0" y2="422.0" stroke="#555" stroke-width="0.7"/><text x="405.5" y="425.6" text-anchor="end" font-size="7.6" fill="#2a2a2a">40</text><line x1="406.5" y1="391.3" x2="404.0" y2="391.9" stroke="#555" stroke-width="0.7"/><text x="403.5" y="395.5" text-anchor="end" font-size="7.6" fill="#2a2a2a">50</text><line x1="437.7" y1="535.8" x2="436.2" y2="537.8" stroke="#555" stroke-width="0.7"/><text x="430.4" y="545.2" text-anchor="middle" font-size="7.5" fill="#2a2a2a">2.0</text><line x1="465.8" y1="542.6" x2="464.3" y2="544.6" stroke="#555" stroke-width="0.7"/><text x="458.5" y="552.0" text-anchor="middle" font-size="7.5" fill="#2a2a2a">1.5</text><line x1="495.1" y1="549.8" x2="493.6" y2="551.8" stroke="#555" stroke-width="0.7"/><text x="487.8" y="559.2" text-anchor="middle" font-size="7.5" fill="#2a2a2a">1.0</text><line x1="525.4" y1="557.2" x2="523.9" y2="559.2" stroke="#555" stroke-width="0.7"/><text x="518.1" y="566.6" text-anchor="middle" font-size="7.5" fill="#2a2a2a">0.5</text><line x1="556.9" y1="564.9" x2="555.4" y2="566.9" stroke="#555" stroke-width="0.7"/><text x="549.6" y="574.3" text-anchor="middle" font-size="7.5" fill="#2a2a2a">0.0</text><line x1="556.9" y1="564.9" x2="559.4" y2="565.4" stroke="#555" stroke-width="0.7"/><text x="565.9" y="569.1" text-anchor="middle" font-size="7.5" fill="#2a2a2a">0.0</text><line x1="566.5" y1="551.5" x2="569.0" y2="552.0" stroke="#555" stroke-width="0.7"/><text x="575.5" y="555.7" text-anchor="middle" font-size="7.5" fill="#2a2a2a">0.2</text><line x1="575.6" y1="538.9" x2="578.1" y2="539.4" stroke="#555" stroke-width="0.7"/><text x="584.6" y="543.2" text-anchor="middle" font-size="7.5" fill="#2a2a2a">0.4</text><line x1="584.1" y1="527.1" x2="586.6" y2="527.6" stroke="#555" stroke-width="0.7"/><text x="593.1" y="531.3" text-anchor="middle" font-size="7.5" fill="#2a2a2a">0.6</text><line x1="592.1" y1="515.9" x2="594.6" y2="516.4" stroke="#555" stroke-width="0.7"/><text x="601.1" y="520.2" text-anchor="middle" font-size="7.5" fill="#2a2a2a">0.8</text><line x1="599.7" y1="505.4" x2="602.2" y2="505.9" stroke="#555" stroke-width="0.7"/><text x="608.7" y="509.6" text-anchor="middle" font-size="7.5" fill="#2a2a2a">1.0</text><line x1="606.8" y1="495.4" x2="609.3" y2="495.9" stroke="#555" stroke-width="0.7"/><text x="615.8" y="499.6" text-anchor="middle" font-size="7.5" fill="#2a2a2a">1.2</text><text transform="translate(481.3,574.5) rotate(14)" text-anchor="middle" font-size="8.2" font-style="italic" fill="#2a2a2a">Mn (mM)</text><text transform="translate(610.5,533) rotate(-53)" text-anchor="middle" font-size="8.6" fill="#2a2a2a">Cu (mM)</text><text transform="translate(395.6,464.5) rotate(-93.6)" text-anchor="middle" font-size="8.8" fill="#2a2a2a">MnP activity (U&#183;L<tspan font-size="6" dy="-3.5">-1</tspan><tspan dy="3.5">)</tspan></text><rect x="645.7" y="382.7" width="38" height="63.5" fill="#fff" stroke="#444" stroke-width="1"/><line x1="684.2" y1="383.5" x2="684.2" y2="447" stroke="#999" stroke-width="1.2"/><rect x="650.3" y="388.90" width="15.2" height="5.3" fill="#0a0a70" stroke="#222" stroke-width="0.7"/><text x="669.3" y="393.90" font-size="7.2" fill="#2a2a2a">0</text><rect x="650.3" y="398.05" width="15.2" height="5.3" fill="#0000e8" stroke="#222" stroke-width="0.7"/><text x="669.3" y="403.05" font-size="7.2" fill="#2a2a2a">10</text><rect x="650.3" y="407.20" width="15.2" height="5.3" fill="#007070" stroke="#222" stroke-width="0.7"/><text x="669.3" y="412.20" font-size="7.2" fill="#2a2a2a">20</text><rect x="650.3" y="416.35" width="15.2" height="5.3" fill="#5ad800" stroke="#222" stroke-width="0.7"/><text x="669.3" y="421.35" font-size="7.2" fill="#2a2a2a">30</text><rect x="650.3" y="425.50" width="15.2" height="5.3" fill="#ffde00" stroke="#222" stroke-width="0.7"/><text x="669.3" y="430.50" font-size="7.2" fill="#2a2a2a">40</text><rect x="650.3" y="434.65" width="15.2" height="5.3" fill="#ff6a00" stroke="#222" stroke-width="0.7"/><text x="669.3" y="439.65" font-size="7.2" fill="#2a2a2a">50</text><text x="603.8" y="356.5" font-size="27" font-weight="bold" font-family="Liberation Serif, serif">d</text></g></g><line x1="10" y1="653.1" x2="39.4" y2="653.1" stroke="#000000" stroke-width="1"/><rect x="21.21" y="649.62" width="6.97" height="6.97" fill="#000000"/><text transform="translate(43.5,657.9) scale(0.952,1)" font-size="14">Control (culture medium)</text><line x1="184.2" y1="653.1" x2="213.9" y2="653.1" stroke="#ff0000" stroke-width="1"/><circle cx="199.05" cy="653.10" r="3.36" fill="#ff0000"/><text transform="translate(217.8,657.9) scale(0.952,1)" font-size="14">25.5 mg Cu L<tspan font-size="9" dy="-5.5">-1</tspan><tspan dy="5.5"></tspan></text><line x1="302.7" y1="653.1" x2="332.5" y2="653.1" stroke="#3333ff" stroke-width="1"/><polygon points="317.60,648.59 321.91,656.38 313.30,656.38" fill="#0000ff"/><text transform="translate(336.8,657.9) scale(0.952,1)" font-size="14">72.8 mg Mn L<tspan font-size="9" dy="-5.5">-1</tspan><tspan dy="5.5"></tspan></text><line x1="10" y1="672.4" x2="39.4" y2="672.4" stroke="#ff00ff" stroke-width="1"/><polygon points="24.70,676.91 29.00,669.12 20.39,669.12" fill="#ff00ff"/><text transform="translate(43.5,677.1999999999999) scale(0.952,1)" font-size="14">25.5 mg Cu L<tspan font-size="9" dy="-5.5">-1</tspan><tspan dy="5.5"> and 72.8 mg Mn L</tspan><tspan font-size="9" dy="-5.5">-1</tspan><tspan dy="5.5"></tspan></text><line x1="238.8" y1="672.4" x2="268.5" y2="672.4" stroke="#008000" stroke-width="1"/><polygon points="253.65,667.48 258.57,672.40 253.65,677.32 248.73,672.40" fill="#008000"/><text transform="translate(273,677.1999999999999) scale(0.952,1)" font-size="14">30.7 mg Cu L<tspan font-size="9" dy="-5.5">-1</tspan><tspan dy="5.5"> and 36.4 mg Mn L</tspan><tspan font-size="9" dy="-5.5">-1</tspan><tspan dy="5.5"></tspan></text><line x1="10" y1="691.4" x2="39.4" y2="691.4" stroke="#000080" stroke-width="1"/><polygon points="20.19,691.40 27.98,687.10 27.98,695.70" fill="#000080"/><text transform="translate(43.5,696.1999999999999) scale(0.952,1)" font-size="14">12.7 mg Cu L<tspan font-size="9" dy="-5.5">-1</tspan><tspan dy="5.5"> and 87.8 mg Mn L</tspan><tspan font-size="9" dy="-5.5">-1</tspan><tspan dy="5.5"></tspan></text><line x1="238.8" y1="691.4" x2="268.5" y2="691.4" stroke="#8000ff" stroke-width="1"/><polygon points="258.16,691.40 250.37,687.10 250.37,695.70" fill="#8000ff"/><text transform="translate(273,696.1999999999999) scale(0.952,1)" font-size="14">12.7 mg Cu L<tspan font-size="9" dy="-5.5">-1</tspan><tspan dy="5.5"> and 36.4 mg Mn L</tspan><tspan font-size="9" dy="-5.5">-1</tspan><tspan dy="5.5"></tspan></text></svg>
</body></html>
